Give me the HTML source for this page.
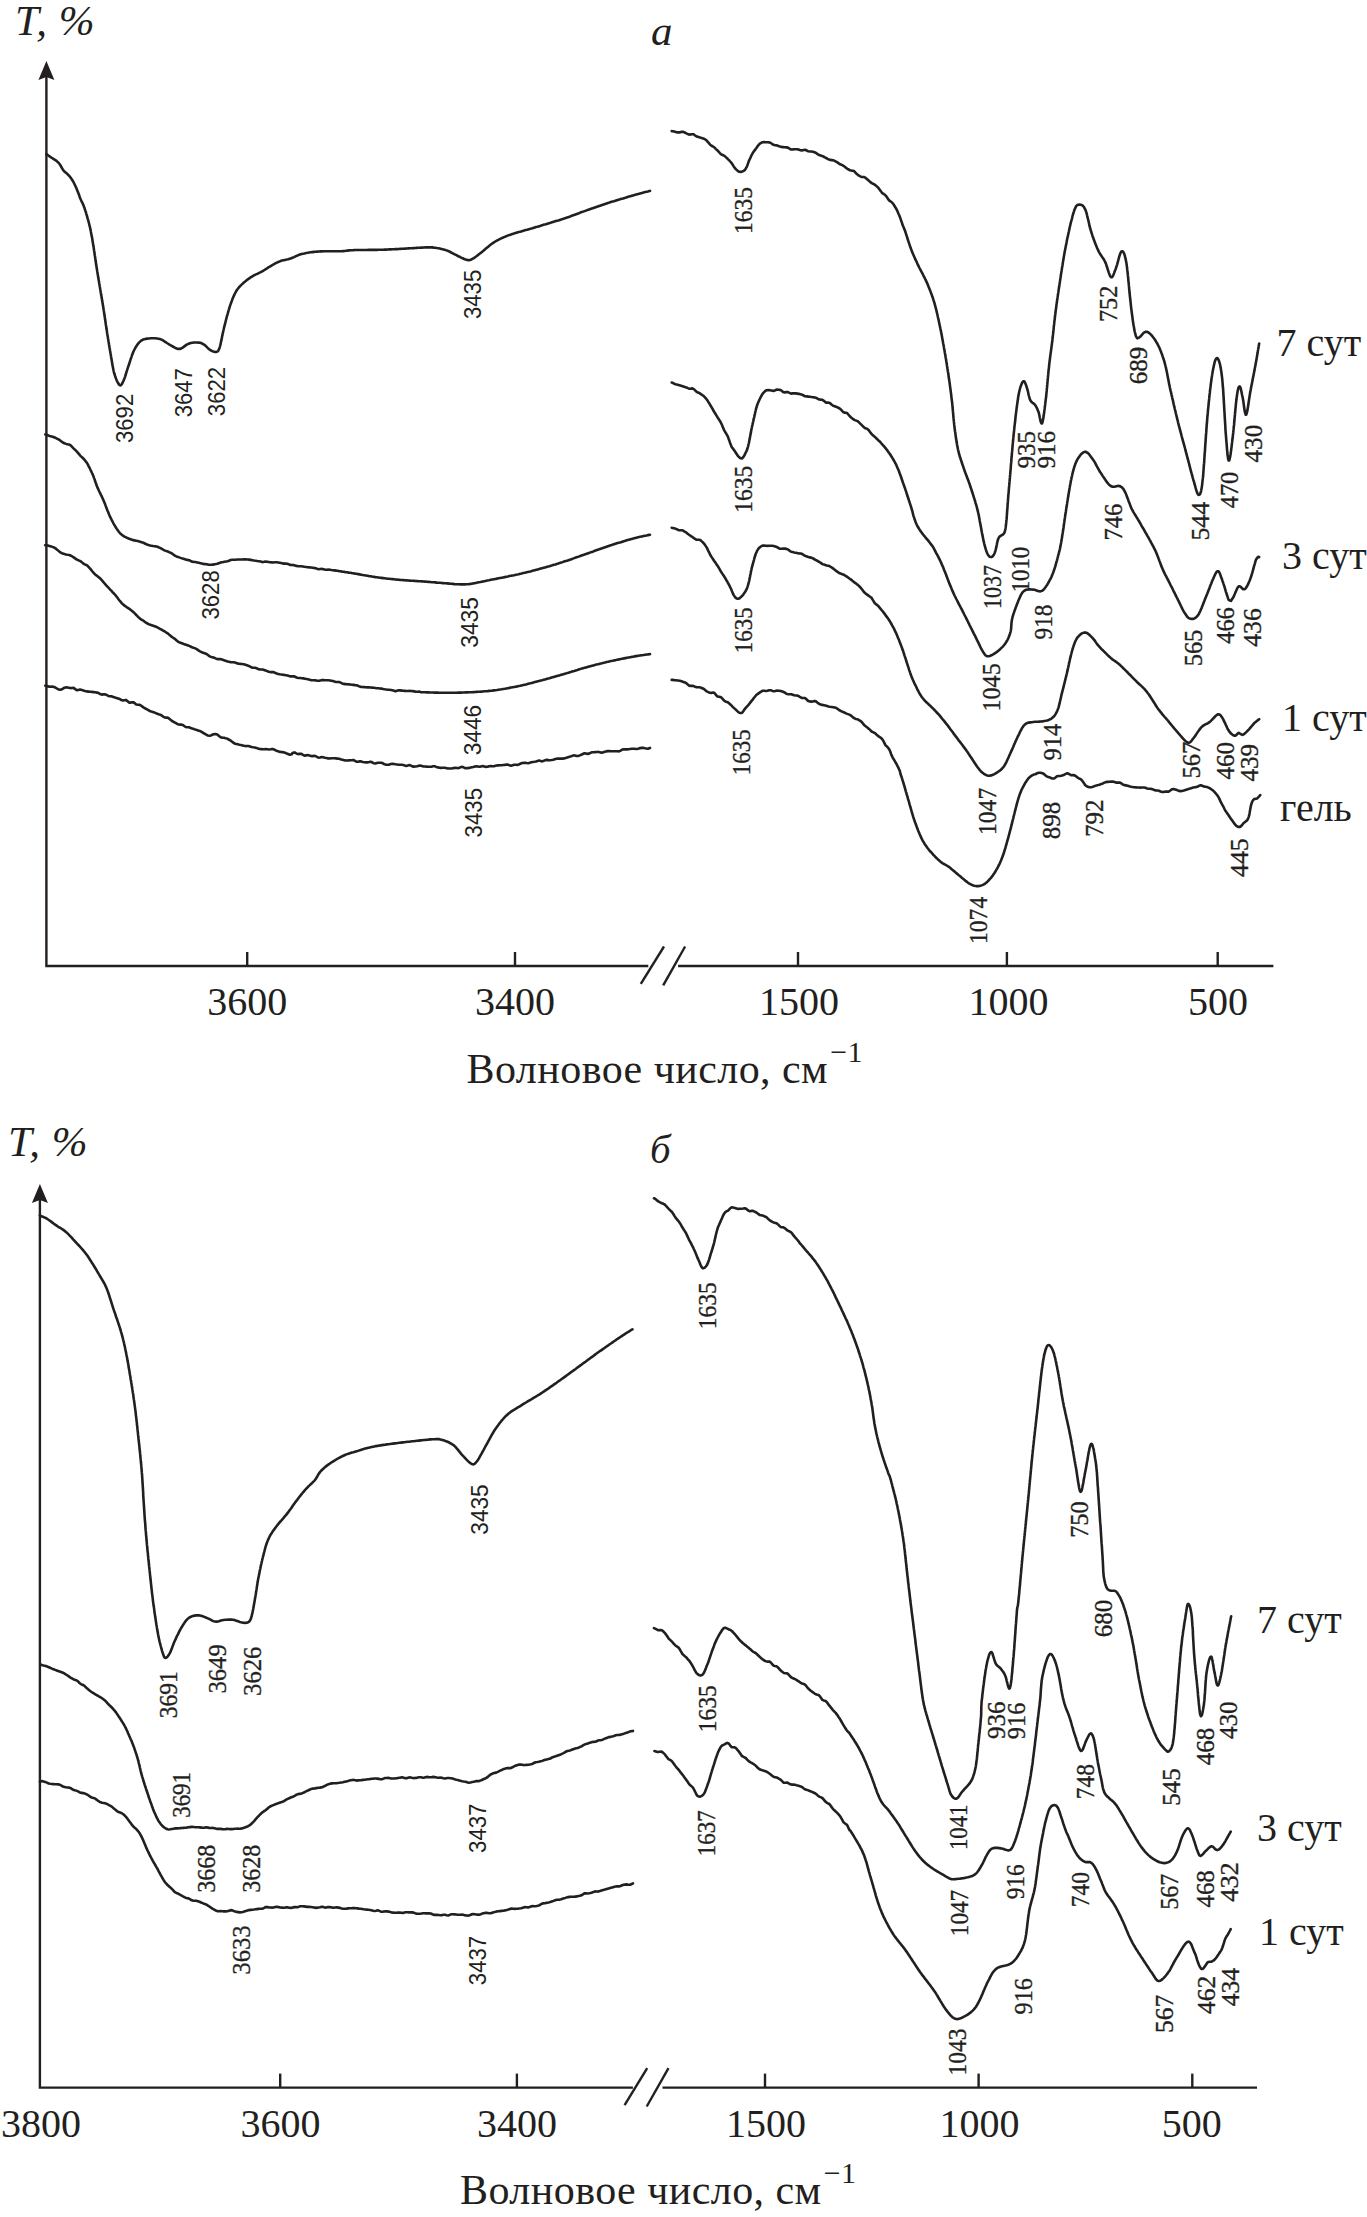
<!DOCTYPE html>
<html><head><meta charset="utf-8"><style>
html,body{margin:0;padding:0;background:#fff;}
body{width:1367px;height:2217px;overflow:hidden;}
svg{display:block;}
.c{fill:none;stroke:#231f20;stroke-width:2.6;stroke-linejoin:round;stroke-linecap:round;}
.ax{fill:none;stroke:#231f20;stroke-width:2.4;}
.lb{stroke:#231f20;stroke-width:0.35;}
.r{font-family:"Liberation Serif",serif;fill:#231f20;}
.s{font-family:"Liberation Sans",sans-serif;fill:#231f20;}
</style></head><body>
<svg width="1367" height="2217" viewBox="0 0 1367 2217">
<path class="ax" d="M46.4,73 L46.4,966 L648.3,966 M678.1,966 L1273.4,966"/>
<path fill="#231f20" d="M46.4,61 L54.4,80 L46.4,77 L38.4,80 Z"/>
<path class="ax" d="M247.2,966 L247.2,952"/>
<path class="ax" d="M515,966 L515,952"/>
<path class="ax" d="M798,966 L798,952"/>
<path class="ax" d="M1006.9,966 L1006.9,952"/>
<path class="ax" d="M1217.7,966 L1217.7,952"/>
<path class="ax" d="M640.8,983.8 L664,946.5"/>
<path class="ax" d="M663.2,985.3 L685.1,946.5"/>
<path class="ax" d="M39.9,1196 L39.9,2087.6 L632.9,2087.6 M662.5,2087.6 L1257,2087.6"/>
<path fill="#231f20" d="M39.9,1184 L47.9,1203 L39.9,1200 L31.9,1203 Z"/>
<path class="ax" d="M280.2,2087.6 L280.2,2073.6"/>
<path class="ax" d="M516.9,2087.6 L516.9,2073.6"/>
<path class="ax" d="M765,2087.6 L765,2073.6"/>
<path class="ax" d="M978.6,2087.6 L978.6,2073.6"/>
<path class="ax" d="M1192.3,2087.6 L1192.3,2073.6"/>
<path class="ax" d="M624.6,2105.2 L647.2,2068.1"/>
<path class="ax" d="M646.7,2106.5 L668.5,2068.1"/>
<path class="c" d="M46.4,154.1 L47.4,154.8 L48.7,155.8 L50.3,156.9 L52.0,158.0 L53.4,158.9 L55.0,159.9 L56.5,160.9 L57.9,162.2 L59.3,163.6 L60.2,165.0 L61.1,166.5 L62.0,168.1 L62.9,169.7 L63.9,171.0 L65.0,172.0 L66.2,173.0 L67.5,174.1 L68.7,175.4 L69.9,176.7 L71.0,178.1 L71.9,179.5 L72.7,180.8 L73.5,182.2 L74.2,183.5 L74.9,185.0 L75.6,186.5 L76.2,187.8 L76.8,189.2 L77.4,190.7 L78.0,192.2 L78.6,193.8 L79.2,195.3 L79.7,196.9 L80.3,198.4 L80.9,199.8 L81.5,201.1 L82.1,202.3 L82.7,203.6 L83.3,204.9 L83.8,206.2 L84.4,207.8 L85.0,209.6 L85.4,210.9 L85.9,212.3 L86.3,213.8 L86.8,215.3 L87.2,216.8 L87.6,218.4 L88.1,219.9 L88.5,221.5 L88.9,223.0 L89.3,224.6 L89.7,226.2 L90.0,227.4 L90.3,228.9 L90.7,230.4 L90.9,231.9 L91.2,233.4 L91.5,234.9 L91.8,236.5 L92.1,238.0 L92.4,239.6 L92.6,241.3 L92.9,243.0 L93.2,244.7 L93.4,246.1 L93.7,247.6 L93.9,249.1 L94.1,250.7 L94.4,252.2 L94.6,253.8 L94.8,255.5 L95.1,257.1 L95.3,258.7 L95.5,260.3 L95.8,261.9 L96.0,263.5 L96.2,265.1 L96.5,266.6 L96.7,268.1 L97.0,269.7 L97.2,271.2 L97.5,272.8 L97.7,274.3 L98.0,275.8 L98.2,277.3 L98.5,278.8 L98.7,280.3 L99.0,281.8 L99.2,283.2 L99.5,284.7 L99.7,286.2 L100.0,287.7 L100.2,289.2 L100.5,290.7 L100.7,292.2 L101.0,293.7 L101.2,295.1 L101.5,296.6 L101.7,298.1 L102.0,299.6 L102.2,301.1 L102.5,302.6 L102.7,304.1 L103.0,305.6 L103.2,307.1 L103.5,308.7 L103.7,310.2 L104.0,311.7 L104.2,313.3 L104.4,314.8 L104.7,316.4 L104.9,318.0 L105.1,319.6 L105.4,321.2 L105.6,322.8 L105.8,324.4 L106.1,325.9 L106.3,327.5 L106.5,329.1 L106.8,330.6 L107.0,332.2 L107.2,333.7 L107.5,335.2 L107.8,336.8 L108.0,338.4 L108.3,339.9 L108.5,341.5 L108.8,343.0 L109.0,344.5 L109.3,346.0 L109.5,347.5 L109.8,348.9 L110.0,350.4 L110.3,351.9 L110.5,353.3 L110.8,354.7 L111.0,356.4 L111.3,358.1 L111.6,359.7 L111.9,361.4 L112.1,363.1 L112.4,364.7 L112.7,366.3 L113.0,367.8 L113.3,369.3 L113.6,370.8 L113.9,372.1 L114.3,373.5 L114.9,375.4 L115.5,377.3 L116.2,379.1 L116.9,380.8 L117.7,382.3 L118.4,383.5 L119.0,384.5 L119.7,385.2 L120.7,385.4 L121.7,384.4 L122.6,382.7 L123.6,380.5 L124.1,379.3 L124.6,378.0 L125.1,376.6 L125.6,375.0 L126.1,373.3 L126.6,371.6 L127.2,369.9 L127.7,368.1 L128.3,366.4 L128.8,365.0 L129.3,363.5 L129.8,361.9 L130.3,360.3 L130.8,358.7 L131.4,357.1 L131.9,355.6 L132.5,354.1 L133.0,352.6 L133.6,351.3 L134.2,350.0 L135.1,348.3 L136.0,346.7 L137.0,345.2 L138.0,343.8 L139.0,342.6 L140.1,341.6 L141.2,340.7 L142.6,339.8 L144.1,339.3 L145.7,338.9 L147.3,338.6 L149.0,338.5 L150.6,338.3 L152.1,338.2 L153.8,338.2 L155.4,338.3 L157.0,338.5 L158.5,338.7 L159.9,339.0 L161.5,339.6 L163.0,340.4 L164.3,341.3 L165.7,342.2 L166.9,343.0 L168.5,344.0 L169.9,344.9 L171.3,345.7 L172.8,346.5 L174.4,347.4 L176.1,348.3 L177.9,348.9 L179.8,348.9 L181.0,348.5 L182.3,347.8 L183.7,346.9 L185.0,345.9 L186.4,344.9 L187.8,344.1 L189.2,343.5 L190.8,343.0 L192.4,342.7 L194.1,342.5 L195.7,342.5 L197.2,342.5 L198.5,342.6 L200.3,342.8 L201.7,343.3 L203.0,344.0 L204.4,344.9 L205.6,345.8 L206.7,346.9 L207.9,348.1 L209.1,349.2 L210.2,350.0 L211.8,350.9 L213.3,351.6 L214.8,352.0 L216.1,351.9 L217.4,351.6 L218.4,350.6 L219.6,347.7 L219.9,346.7 L220.2,345.6 L220.5,344.3 L220.8,342.9 L221.1,341.4 L221.5,339.9 L221.8,338.2 L222.1,336.5 L222.5,334.9 L222.8,333.1 L223.2,331.5 L223.6,329.8 L223.9,328.2 L224.3,326.6 L224.7,325.1 L225.1,323.6 L225.5,322.0 L225.9,320.4 L226.3,318.8 L226.7,317.2 L227.1,315.7 L227.6,314.1 L228.0,312.6 L228.4,311.1 L228.9,309.6 L229.3,308.2 L229.7,306.9 L230.1,305.6 L230.7,303.9 L231.3,302.2 L231.9,300.7 L232.4,299.2 L233.0,297.7 L233.6,296.4 L234.2,295.1 L234.8,293.8 L235.4,292.7 L236.0,291.5 L236.9,290.0 L237.9,288.7 L238.8,287.5 L239.8,286.5 L240.8,285.4 L241.9,284.4 L243.0,283.3 L244.2,282.2 L245.5,281.2 L246.9,280.1 L248.2,279.1 L249.6,278.1 L251.0,277.2 L252.4,276.3 L253.9,275.4 L255.5,274.6 L257.1,273.9 L258.6,273.2 L260.2,272.4 L261.7,271.6 L263.1,270.8 L264.4,270.0 L265.8,269.1 L267.1,268.3 L268.4,267.4 L269.8,266.6 L271.1,265.8 L272.7,264.9 L274.2,264.0 L275.8,263.2 L277.4,262.4 L278.9,261.7 L280.5,261.1 L282.0,260.6 L283.5,260.2 L285.0,259.9 L286.5,259.6 L288.1,259.2 L289.8,258.7 L291.2,258.3 L292.5,257.7 L294.0,257.1 L295.4,256.4 L296.9,255.8 L298.4,255.1 L300.0,254.6 L301.5,254.1 L303.0,253.7 L304.5,253.4 L306.0,253.0 L307.6,252.8 L309.2,252.5 L310.8,252.3 L312.4,252.1 L314.0,251.9 L315.6,251.7 L317.2,251.6 L318.8,251.5 L320.5,251.4 L322.1,251.4 L323.8,251.3 L325.4,251.3 L327.0,251.3 L328.5,251.3 L330.0,251.3 L331.8,251.2 L333.5,251.3 L335.2,251.3 L336.8,251.3 L338.4,251.3 L340.1,251.3 L341.7,251.3 L343.3,251.1 L344.7,251.0 L346.1,250.8 L347.6,250.6 L349.2,250.4 L351.1,250.2 L353.4,250.1 L354.6,250.0 L355.9,250.0 L357.3,250.0 L358.8,250.0 L360.3,250.0 L361.9,250.0 L363.6,250.0 L365.2,250.0 L366.9,250.0 L368.6,249.9 L370.3,249.9 L371.9,249.9 L373.6,249.9 L375.2,249.9 L376.8,249.9 L378.4,249.8 L379.9,249.8 L381.5,249.7 L383.1,249.7 L384.6,249.6 L386.2,249.6 L387.7,249.5 L389.3,249.4 L390.9,249.4 L392.4,249.3 L394.0,249.2 L395.5,249.1 L397.1,249.1 L398.7,249.0 L400.2,248.9 L401.8,248.8 L403.4,248.7 L405.1,248.6 L406.8,248.5 L408.5,248.4 L410.2,248.3 L411.8,248.2 L413.5,248.1 L415.1,248.0 L416.7,247.9 L418.2,247.8 L419.7,247.7 L421.1,247.6 L422.4,247.6 L423.6,247.5 L425.9,247.4 L427.8,247.4 L429.5,247.4 L430.9,247.4 L432.3,247.4 L433.8,247.6 L435.3,247.7 L436.8,248.0 L438.3,248.2 L439.8,248.5 L441.3,248.9 L442.8,249.3 L444.3,249.7 L445.7,250.1 L447.0,250.6 L448.7,251.2 L450.3,252.0 L451.8,252.8 L453.3,253.6 L454.8,254.4 L456.4,255.2 L457.9,256.0 L459.5,256.7 L461.1,257.6 L462.7,258.3 L464.2,259.0 L465.7,259.6 L466.9,259.9 L469.1,260.2 L470.8,259.8 L472.8,258.7 L473.9,258.1 L475.1,257.2 L476.4,256.3 L477.8,255.2 L479.2,254.1 L480.7,252.9 L482.2,251.7 L483.4,250.8 L484.6,249.7 L485.9,248.6 L487.2,247.5 L488.5,246.4 L489.9,245.3 L491.2,244.3 L492.5,243.3 L493.9,242.4 L495.3,241.5 L496.8,240.6 L498.3,239.8 L499.7,239.1 L501.2,238.4 L502.6,237.8 L504.1,237.1 L505.6,236.5 L507.0,235.9 L508.3,235.4 L509.6,234.9 L511.0,234.5 L512.4,234.0 L513.9,233.6 L515.5,233.1 L517.3,232.5 L518.6,232.1 L519.9,231.8 L521.2,231.4 L522.6,231.0 L524.1,230.6 L525.6,230.1 L527.2,229.7 L528.8,229.2 L530.5,228.8 L532.3,228.3 L534.1,227.7 L536.0,227.1 L537.3,226.8 L538.6,226.4 L540.0,226.0 L541.4,225.5 L542.8,225.1 L544.3,224.6 L545.9,224.2 L547.4,223.7 L549.0,223.2 L550.5,222.8 L552.1,222.3 L553.7,221.8 L555.2,221.3 L556.8,220.8 L558.3,220.4 L559.8,219.9 L561.3,219.4 L562.7,218.9 L564.1,218.5 L565.7,218.0 L567.2,217.4 L568.8,216.9 L570.3,216.4 L571.8,215.8 L573.2,215.3 L574.7,214.8 L576.1,214.2 L577.5,213.7 L578.9,213.2 L580.3,212.6 L581.8,212.1 L583.2,211.6 L584.6,211.1 L586.0,210.6 L587.5,210.1 L589.0,209.5 L590.4,209.0 L591.9,208.5 L593.4,208.0 L594.8,207.5 L596.3,207.0 L597.7,206.5 L599.2,206.0 L600.7,205.5 L602.1,205.0 L603.6,204.5 L605.1,204.0 L606.5,203.5 L608.0,203.0 L609.4,202.6 L610.9,202.1 L612.4,201.6 L613.9,201.2 L615.4,200.7 L616.9,200.2 L618.5,199.7 L620.0,199.3 L621.6,198.8 L623.1,198.4 L624.6,197.9 L626.1,197.5 L627.6,197.0 L629.0,196.6 L630.4,196.2 L631.8,195.8 L633.1,195.4 L634.3,195.1 L636.3,194.5 L638.2,194.0 L640.1,193.5 L641.9,193.0 L643.6,192.5 L645.2,192.1 L646.7,191.7 L648.0,191.4 L649.1,191.1 L650.0,190.9"/>
<path class="c" d="M45.2,434.5 L46.3,434.6 L47.8,435.3 L49.7,436.0 L51.6,436.4 L53.4,437.0 L54.7,437.5 L56.0,438.1 L57.4,438.8 L58.8,439.5 L60.1,440.4 L61.5,441.5 L62.8,442.5 L64.5,443.3 L66.1,443.9 L67.7,444.3 L69.3,444.6 L71.0,445.7 L72.1,446.8 L73.3,448.1 L74.5,449.3 L75.7,450.4 L76.9,451.6 L78.0,452.9 L79.2,454.3 L80.2,455.6 L81.3,456.6 L82.3,457.5 L83.3,458.5 L84.3,459.5 L85.2,460.7 L86.2,462.0 L87.0,463.1 L87.8,464.4 L88.5,465.8 L89.3,467.3 L90.0,468.8 L90.7,470.3 L91.4,471.7 L92.0,473.0 L92.6,474.2 L93.1,475.4 L93.6,476.7 L94.1,478.1 L94.6,479.4 L95.1,481.0 L95.6,482.5 L96.2,484.0 L96.7,485.5 L97.3,487.1 L98.0,488.6 L98.6,490.0 L99.3,491.5 L100.0,492.9 L100.7,494.3 L101.3,495.7 L102.0,497.0 L102.6,498.3 L103.2,499.7 L103.8,501.1 L104.4,502.5 L105.0,503.9 L105.5,505.4 L106.1,507.0 L106.7,508.5 L107.2,510.0 L107.9,511.6 L108.6,513.3 L109.2,514.8 L109.8,516.2 L110.5,517.6 L111.2,519.0 L111.9,520.4 L112.7,521.8 L113.4,523.3 L114.2,524.7 L115.1,526.1 L115.9,527.5 L116.8,528.9 L117.8,530.3 L118.8,531.7 L119.7,532.8 L120.7,533.8 L121.8,534.8 L123.0,535.7 L124.4,536.6 L126.0,537.3 L127.2,537.9 L128.5,538.5 L129.9,539.0 L131.3,539.5 L132.9,540.1 L134.5,540.4 L136.1,540.7 L137.7,541.1 L139.3,541.5 L140.8,541.9 L142.4,542.4 L143.9,543.0 L145.4,543.8 L147.0,544.5 L148.5,545.0 L150.1,545.4 L151.6,545.7 L153.1,546.0 L154.6,546.2 L156.1,546.4 L157.4,546.7 L158.7,547.3 L160.5,548.2 L162.1,549.0 L163.6,549.9 L165.0,550.6 L166.4,551.1 L167.8,551.5 L169.1,552.1 L170.5,552.7 L172.1,553.6 L173.6,554.7 L175.0,555.8 L176.4,556.4 L178.0,556.9 L179.8,557.6 L181.2,558.1 L182.6,558.6 L184.2,559.1 L185.8,559.6 L187.4,559.9 L189.1,560.2 L190.7,561.0 L192.3,561.7 L193.9,561.9 L195.5,562.0 L197.2,562.4 L198.9,562.8 L200.5,563.2 L202.1,563.6 L203.7,563.9 L205.2,564.1 L206.7,564.3 L208.4,564.6 L209.9,564.8 L211.4,564.8 L212.8,564.6 L214.2,564.4 L215.7,564.1 L217.3,563.7 L218.7,563.2 L220.1,562.7 L221.6,562.3 L223.1,562.1 L224.5,561.8 L226.0,561.5 L227.5,561.3 L229.0,560.7 L230.6,560.0 L232.3,559.8 L234.0,559.8 L235.7,559.7 L237.3,559.5 L239.0,559.5 L240.7,559.5 L242.4,559.5 L244.0,559.4 L245.7,559.4 L247.4,559.5 L249.0,559.6 L250.7,559.9 L252.4,560.2 L254.0,560.5 L255.7,560.7 L257.3,561.0 L258.9,561.2 L260.6,561.6 L262.3,562.1 L264.1,561.8 L265.5,561.5 L267.1,561.7 L268.6,562.0 L270.2,562.3 L271.8,562.4 L273.4,562.5 L275.0,562.3 L276.6,562.2 L278.1,562.5 L279.7,562.8 L281.2,563.1 L282.6,563.4 L284.1,563.6 L285.6,563.6 L287.2,563.7 L288.7,564.3 L290.4,564.9 L292.2,565.0 L293.6,565.1 L295.0,565.4 L296.5,565.9 L298.1,566.2 L299.6,566.2 L301.2,566.2 L302.8,566.5 L304.5,566.8 L306.1,567.0 L307.7,567.3 L309.3,567.4 L310.9,567.5 L312.5,567.7 L314.0,567.9 L315.6,568.3 L317.1,568.8 L318.6,569.2 L320.2,569.0 L321.7,568.9 L323.3,569.2 L324.9,569.6 L326.6,569.7 L328.3,569.5 L330.0,569.7 L331.4,570.0 L332.9,570.2 L334.4,570.4 L335.9,570.6 L337.5,570.8 L339.1,571.1 L340.6,571.3 L342.2,571.6 L343.8,571.8 L345.4,572.1 L347.1,572.3 L348.7,572.6 L350.3,572.8 L351.8,573.1 L353.4,573.3 L355.0,573.6 L356.5,573.8 L358.1,574.1 L359.7,574.4 L361.2,574.7 L362.8,575.0 L364.3,575.2 L365.9,575.5 L367.5,575.8 L369.0,576.1 L370.6,576.3 L372.1,576.6 L373.7,576.8 L375.3,577.1 L376.8,577.3 L378.4,577.5 L379.9,577.7 L381.5,577.9 L383.1,578.1 L384.6,578.3 L386.2,578.5 L387.7,578.7 L389.3,578.8 L390.9,579.0 L392.4,579.1 L394.0,579.3 L395.5,579.5 L397.1,579.6 L398.7,579.7 L400.2,579.9 L401.8,580.0 L403.3,580.1 L404.9,580.3 L406.5,580.4 L408.0,580.5 L409.6,580.6 L411.2,580.7 L412.7,580.8 L414.3,580.9 L415.8,581.0 L417.4,581.1 L419.0,581.2 L420.5,581.3 L422.1,581.4 L423.6,581.5 L425.2,581.6 L426.8,581.8 L428.5,581.9 L430.2,582.0 L431.9,582.2 L433.6,582.3 L435.2,582.4 L436.9,582.6 L438.5,582.7 L440.1,582.8 L441.6,583.0 L443.1,583.1 L444.5,583.2 L445.8,583.3 L447.0,583.4 L449.3,583.6 L451.2,583.8 L452.9,583.9 L454.3,584.1 L455.7,584.2 L457.2,584.3 L458.7,584.3 L460.3,584.4 L461.8,584.4 L463.2,584.4 L464.6,584.4 L466.3,584.3 L468.2,584.2 L470.5,583.9 L471.7,583.7 L473.0,583.4 L474.4,583.2 L475.9,582.9 L477.4,582.6 L479.0,582.3 L480.6,582.0 L482.3,581.6 L483.9,581.3 L485.6,580.9 L487.3,580.5 L489.0,580.2 L490.7,579.8 L492.3,579.5 L493.9,579.2 L495.4,578.9 L497.0,578.6 L498.5,578.3 L500.1,578.0 L501.7,577.7 L503.2,577.4 L504.8,577.1 L506.3,576.8 L507.9,576.5 L509.5,576.1 L511.0,575.8 L512.6,575.5 L514.2,575.2 L515.7,574.8 L517.3,574.5 L518.7,574.2 L520.2,573.8 L521.7,573.5 L523.1,573.1 L524.6,572.8 L526.0,572.4 L527.5,572.1 L529.0,571.7 L530.4,571.4 L531.9,571.0 L533.4,570.6 L534.8,570.2 L536.3,569.8 L537.8,569.4 L539.2,569.0 L540.7,568.6 L542.1,568.2 L543.6,567.8 L545.1,567.4 L546.5,567.0 L548.0,566.6 L549.5,566.2 L550.9,565.7 L552.4,565.3 L553.8,564.8 L555.3,564.4 L556.8,563.9 L558.2,563.5 L559.7,563.0 L561.2,562.6 L562.6,562.1 L564.1,561.6 L565.6,561.1 L567.0,560.7 L568.5,560.2 L569.9,559.7 L571.4,559.2 L572.9,558.6 L574.3,558.1 L575.8,557.6 L577.3,557.1 L578.7,556.6 L580.2,556.0 L581.6,555.5 L583.1,555.0 L584.6,554.5 L586.0,553.9 L587.5,553.4 L589.0,552.9 L590.4,552.4 L591.9,551.9 L593.4,551.4 L594.8,550.8 L596.3,550.3 L597.7,549.8 L599.2,549.3 L600.7,548.7 L602.1,548.2 L603.6,547.7 L605.1,547.2 L606.5,546.7 L608.0,546.2 L609.4,545.7 L610.9,545.2 L612.4,544.8 L613.9,544.3 L615.4,543.8 L616.9,543.3 L618.5,542.8 L620.0,542.4 L621.6,541.9 L623.1,541.4 L624.6,541.0 L626.1,540.5 L627.6,540.1 L629.0,539.7 L630.4,539.3 L631.8,538.9 L633.1,538.6 L634.3,538.2 L636.3,537.7 L638.2,537.2 L640.1,536.8 L641.9,536.4 L643.6,536.0 L645.2,535.7 L646.7,535.4 L648.0,535.1 L649.1,534.9 L650.0,534.7"/>
<path class="c" d="M45.2,545.2 L46.2,545.1 L47.7,545.4 L49.4,545.9 L51.2,546.4 L53.0,547.1 L54.6,547.8 L56.0,548.7 L57.4,549.9 L58.7,551.1 L60.1,552.2 L61.4,553.0 L62.8,553.6 L64.4,554.1 L66.0,554.5 L67.7,554.8 L69.3,555.0 L71.0,555.7 L72.3,556.5 L73.7,557.4 L75.1,558.4 L76.5,559.4 L77.9,560.0 L79.2,560.6 L80.6,561.2 L82.1,562.4 L83.4,563.6 L84.8,564.4 L86.2,565.0 L87.4,565.6 L88.5,566.8 L89.7,568.2 L90.9,569.5 L92.0,571.0 L93.2,572.4 L94.4,573.7 L95.5,574.7 L96.7,575.6 L97.9,576.6 L99.1,577.5 L100.2,578.5 L101.2,579.5 L102.2,580.6 L103.2,581.8 L104.2,583.0 L105.2,584.2 L106.2,585.3 L107.2,586.4 L108.2,587.4 L109.2,588.5 L110.2,589.6 L111.3,590.7 L112.3,591.9 L113.4,593.0 L114.4,594.0 L115.4,595.1 L116.5,596.5 L117.5,597.8 L118.5,599.2 L119.5,600.5 L120.5,601.7 L121.5,602.9 L122.6,604.0 L123.6,604.9 L124.9,605.9 L126.2,606.8 L127.4,607.7 L128.8,608.5 L130.1,609.4 L131.5,610.5 L133.0,611.7 L134.1,612.7 L135.2,613.8 L136.3,615.0 L137.4,616.1 L138.6,617.3 L139.7,618.4 L140.9,619.3 L142.2,620.0 L143.4,620.7 L144.7,621.7 L146.0,622.7 L147.4,623.5 L148.8,624.2 L150.3,624.8 L151.7,625.2 L153.2,625.7 L154.6,626.2 L156.1,626.8 L157.4,627.4 L158.7,628.1 L160.2,629.0 L161.6,629.7 L162.9,630.5 L164.2,631.2 L165.5,632.0 L166.8,632.8 L168.1,633.6 L169.3,634.7 L170.5,635.7 L171.9,636.9 L173.2,637.8 L174.5,638.6 L175.8,639.7 L177.0,640.8 L178.4,641.9 L179.8,642.6 L181.1,643.0 L182.5,643.5 L183.8,644.0 L185.2,644.5 L186.7,645.0 L188.2,645.5 L189.8,646.1 L191.5,647.0 L192.7,647.6 L194.0,647.9 L195.3,648.4 L196.7,649.1 L198.1,650.1 L199.6,651.1 L201.0,651.8 L202.4,652.5 L203.9,653.0 L205.3,653.5 L206.6,654.0 L207.9,655.0 L209.5,656.3 L211.1,656.9 L212.6,657.2 L214.1,657.7 L215.5,658.4 L217.0,659.0 L218.6,659.1 L220.2,659.1 L222.0,659.6 L223.3,660.0 L224.7,660.4 L226.2,660.9 L227.7,661.4 L229.2,661.8 L230.7,662.2 L232.3,662.3 L233.9,662.3 L235.6,662.7 L237.2,663.4 L238.9,663.7 L240.7,663.9 L242.0,664.0 L243.4,664.3 L244.8,664.6 L246.2,665.0 L247.6,665.5 L249.1,666.1 L250.6,666.9 L252.1,667.7 L253.6,667.7 L255.1,667.8 L256.6,668.3 L258.1,669.0 L259.6,669.4 L261.1,669.5 L262.6,669.5 L264.1,670.0 L265.6,670.5 L267.2,671.1 L268.8,671.8 L270.3,672.1 L271.9,672.0 L273.5,672.1 L275.0,672.8 L276.6,673.5 L278.1,673.9 L279.7,674.3 L281.3,674.5 L282.8,674.7 L284.4,674.9 L285.9,675.2 L287.5,675.5 L289.1,676.0 L290.7,676.4 L292.2,676.4 L293.9,676.3 L295.5,677.0 L297.1,677.7 L298.7,678.0 L300.3,678.0 L301.9,678.2 L303.4,678.4 L305.0,678.7 L306.5,679.0 L308.0,679.3 L309.5,679.7 L310.9,680.1 L312.6,680.2 L314.3,680.2 L315.9,680.4 L317.4,680.7 L318.9,680.8 L320.5,680.4 L322.0,680.0 L323.5,680.1 L325.0,680.2 L326.6,680.3 L328.3,680.3 L330.0,680.5 L331.4,680.8 L332.9,681.1 L334.4,681.6 L335.9,682.0 L337.5,682.0 L339.1,682.0 L340.6,682.6 L342.2,683.4 L343.8,683.9 L345.4,684.1 L347.1,684.3 L348.7,684.4 L350.3,684.5 L351.8,684.7 L353.4,684.9 L355.0,685.1 L356.5,685.2 L358.1,685.8 L359.7,686.6 L361.2,687.0 L362.8,687.0 L364.3,687.1 L365.9,687.2 L367.5,687.4 L369.0,687.4 L370.6,687.5 L372.1,687.6 L373.7,687.8 L375.3,688.0 L376.8,688.2 L378.4,688.3 L379.9,688.5 L381.5,688.6 L383.1,689.0 L384.6,689.3 L386.2,689.5 L387.7,689.7 L389.3,689.8 L390.9,690.0 L392.4,690.3 L394.0,690.7 L395.5,691.2 L397.1,690.7 L398.7,690.3 L400.2,690.4 L401.8,690.6 L403.3,690.8 L404.9,690.9 L406.5,691.0 L408.0,691.0 L409.6,690.9 L411.2,691.0 L412.7,691.1 L414.3,691.4 L415.8,691.7 L417.4,691.7 L419.0,691.6 L420.5,692.1 L422.1,692.2 L423.6,692.2 L425.2,692.3 L426.8,692.4 L428.3,692.4 L429.9,692.5 L431.4,692.5 L433.0,692.5 L434.6,692.6 L436.1,692.6 L437.7,692.6 L439.2,692.7 L440.8,692.7 L442.4,692.7 L443.9,692.7 L445.5,692.7 L447.0,692.7 L448.6,692.7 L450.2,692.7 L451.7,692.7 L453.3,692.7 L454.8,692.7 L456.4,692.7 L458.0,692.6 L459.5,692.6 L461.1,692.6 L462.7,692.5 L464.2,692.5 L465.8,692.4 L467.3,692.4 L468.9,692.3 L470.5,692.2 L472.0,692.2 L473.6,692.1 L475.1,692.0 L476.7,691.9 L478.3,691.8 L479.8,691.7 L481.4,691.6 L482.9,691.5 L484.5,691.3 L486.1,691.2 L487.6,691.1 L489.2,690.9 L490.7,690.7 L492.3,690.6 L493.9,690.4 L495.4,690.2 L497.0,690.0 L498.5,689.7 L500.1,689.5 L501.7,689.3 L503.2,689.0 L504.8,688.8 L506.3,688.5 L507.9,688.2 L509.5,687.9 L511.0,687.6 L512.6,687.3 L514.2,687.0 L515.7,686.7 L517.3,686.4 L518.7,686.1 L520.2,685.8 L521.7,685.4 L523.1,685.1 L524.6,684.7 L526.0,684.4 L527.5,684.0 L529.0,683.6 L530.4,683.3 L531.9,682.9 L533.4,682.5 L534.8,682.1 L536.3,681.7 L537.8,681.3 L539.2,680.9 L540.7,680.5 L542.1,680.2 L543.6,679.8 L545.1,679.4 L546.5,679.0 L548.0,678.6 L549.5,678.2 L550.9,677.7 L552.4,677.3 L553.8,676.9 L555.3,676.5 L556.8,676.1 L558.2,675.7 L559.7,675.3 L561.2,674.8 L562.6,674.4 L564.1,674.0 L565.6,673.6 L567.0,673.1 L568.5,672.7 L569.9,672.2 L571.4,671.8 L572.9,671.3 L574.3,670.9 L575.8,670.4 L577.3,670.0 L578.7,669.5 L580.2,669.1 L581.6,668.6 L583.1,668.2 L584.6,667.8 L586.0,667.4 L587.5,667.0 L589.0,666.6 L590.4,666.2 L591.9,665.8 L593.4,665.4 L594.8,665.0 L596.3,664.6 L597.7,664.3 L599.2,663.9 L600.7,663.5 L602.1,663.2 L603.6,662.8 L605.1,662.5 L606.5,662.1 L608.0,661.8 L609.4,661.4 L610.9,661.1 L612.5,660.8 L614.1,660.4 L615.7,660.1 L617.4,659.7 L619.0,659.4 L620.6,659.0 L622.3,658.7 L623.9,658.4 L625.5,658.1 L627.1,657.8 L628.6,657.5 L630.1,657.2 L631.6,656.9 L633.0,656.7 L634.3,656.4 L636.3,656.1 L638.2,655.8 L640.1,655.5 L641.9,655.2 L643.6,655.0 L645.2,654.7 L646.7,654.5 L648.0,654.4 L649.1,654.2 L650.0,654.1"/>
<path class="c" d="M45.2,685.7 L46.3,685.8 L48.0,686.4 L49.8,686.7 L51.7,686.5 L53.4,686.7 L55.3,687.5 L57.1,688.6 L58.8,689.5 L60.4,689.8 L61.9,689.3 L63.1,688.5 L64.5,687.7 L66.3,687.3 L67.5,687.5 L68.9,687.8 L70.4,688.1 L72.0,688.0 L73.6,687.9 L75.2,689.1 L76.8,690.2 L78.4,689.9 L80.1,689.5 L81.8,689.9 L83.4,690.5 L85.1,691.0 L86.8,691.4 L88.5,691.6 L90.2,691.8 L91.9,691.9 L93.5,692.1 L95.2,692.3 L96.9,692.6 L98.6,693.1 L100.2,694.0 L101.7,694.6 L103.1,694.4 L104.5,694.2 L105.9,694.6 L107.4,695.4 L108.8,696.1 L110.4,696.2 L111.9,696.4 L113.4,696.9 L114.9,697.5 L116.5,698.0 L118.1,698.5 L119.8,699.1 L121.4,700.0 L123.0,700.5 L124.5,700.2 L126.0,699.9 L127.6,701.3 L129.1,702.6 L130.6,702.6 L132.1,702.2 L133.6,702.4 L135.0,703.4 L136.3,704.5 L137.7,704.7 L139.4,704.8 L140.9,705.5 L142.4,706.6 L143.8,707.6 L145.4,708.5 L147.0,709.3 L148.4,710.2 L149.8,711.0 L151.3,711.6 L152.8,711.9 L154.3,712.4 L155.8,713.1 L157.3,713.8 L158.7,714.3 L160.2,714.7 L161.7,715.5 L163.2,716.6 L164.7,717.5 L166.2,717.6 L167.7,717.6 L169.1,718.6 L170.5,719.8 L172.1,721.0 L173.6,721.8 L175.0,722.6 L176.4,723.4 L178.0,724.3 L179.8,724.6 L181.2,724.5 L182.6,724.9 L184.2,726.0 L185.7,727.0 L187.4,727.2 L189.0,727.3 L190.7,728.0 L192.3,728.6 L193.9,729.1 L195.3,729.6 L196.7,730.0 L198.2,730.4 L199.7,730.9 L201.2,731.7 L202.6,732.5 L204.0,733.3 L205.4,734.2 L206.7,735.0 L207.9,735.4 L209.6,735.8 L211.0,735.4 L212.3,734.8 L213.6,734.2 L215.2,734.1 L217.3,734.6 L218.4,735.5 L219.7,736.6 L221.0,737.4 L222.5,737.6 L224.0,737.7 L225.6,738.2 L227.1,738.6 L228.7,739.5 L230.3,740.4 L231.8,741.5 L233.3,742.6 L234.7,743.6 L236.0,743.9 L237.8,744.3 L239.4,744.7 L241.0,745.0 L242.6,745.4 L244.1,745.8 L245.5,746.1 L247.0,746.0 L248.5,746.0 L250.0,746.5 L251.6,747.0 L253.2,747.3 L254.8,747.5 L256.4,747.9 L258.0,748.5 L259.6,749.0 L261.1,749.1 L262.6,749.2 L264.1,749.2 L265.9,749.1 L267.5,749.3 L269.1,749.5 L270.7,749.3 L272.3,748.9 L274.0,749.4 L275.8,750.5 L277.3,751.1 L278.9,751.6 L280.6,751.9 L282.4,752.1 L284.1,752.5 L285.8,753.1 L287.3,753.7 L288.7,754.3 L289.8,754.8 L291.7,754.3 L292.4,753.1 L294.5,752.4 L295.6,753.0 L296.8,753.7 L298.1,754.1 L299.5,753.9 L301.0,753.7 L302.6,754.7 L304.3,755.6 L305.9,755.4 L307.6,755.0 L309.3,755.4 L310.9,756.0 L312.4,756.1 L313.9,755.9 L315.4,756.0 L316.9,756.9 L318.5,757.7 L320.0,757.4 L321.6,757.0 L323.2,757.3 L324.9,757.7 L326.5,758.0 L328.2,758.4 L330.0,758.5 L331.4,758.3 L332.9,758.3 L334.4,758.3 L335.9,758.4 L337.5,758.6 L339.1,758.8 L340.6,759.3 L342.2,759.7 L343.8,760.1 L345.4,760.4 L347.1,760.5 L348.7,760.4 L350.3,760.3 L351.8,760.2 L353.4,760.0 L355.0,760.8 L356.5,761.7 L358.1,761.7 L359.7,761.4 L361.2,761.4 L362.8,761.9 L364.3,762.3 L365.9,762.4 L367.5,762.4 L369.0,762.1 L370.6,761.7 L372.1,762.3 L373.7,763.2 L375.3,763.5 L376.8,763.0 L378.4,762.7 L379.9,762.7 L381.5,762.7 L383.1,763.5 L384.6,764.3 L386.2,764.6 L387.7,764.7 L389.3,764.6 L390.9,764.1 L392.4,763.8 L394.0,764.0 L395.5,764.3 L397.1,764.5 L398.7,764.7 L400.2,764.7 L401.8,764.7 L403.3,765.0 L404.8,765.5 L406.3,765.9 L407.9,765.4 L409.4,765.0 L410.9,765.6 L412.4,766.4 L413.9,766.6 L415.5,766.5 L417.1,766.3 L418.7,765.8 L420.3,765.5 L421.9,766.0 L423.6,766.5 L425.1,766.5 L426.6,766.6 L428.2,766.7 L429.7,766.8 L431.4,766.7 L433.0,766.3 L434.7,766.3 L436.3,766.9 L438.0,767.4 L439.6,767.7 L441.3,767.9 L442.9,767.8 L444.5,767.8 L446.0,768.1 L447.5,768.4 L449.0,768.5 L450.4,768.5 L451.7,768.5 L453.6,768.1 L455.3,767.8 L457.0,768.0 L458.5,768.1 L460.0,767.5 L461.4,766.9 L462.8,767.0 L464.2,767.7 L465.7,768.3 L467.2,768.1 L468.8,767.9 L470.5,767.6 L471.9,767.3 L473.3,767.0 L474.8,766.5 L476.4,766.2 L477.9,766.5 L479.5,766.8 L481.1,766.4 L482.7,766.0 L484.3,766.4 L485.9,766.9 L487.5,766.8 L489.1,766.2 L490.7,766.0 L492.3,766.2 L493.9,766.3 L495.4,765.8 L497.0,765.4 L498.5,765.4 L500.1,765.3 L501.7,765.2 L503.2,765.0 L504.8,764.9 L506.3,764.6 L507.9,764.6 L509.5,765.2 L511.0,765.7 L512.6,765.2 L514.2,764.7 L515.7,764.8 L517.3,764.9 L518.8,764.6 L520.4,763.7 L522.0,763.0 L523.5,762.9 L525.1,762.7 L526.6,763.0 L528.2,763.2 L529.8,762.8 L531.3,762.3 L532.9,762.0 L534.4,761.8 L536.0,761.5 L537.6,761.0 L539.1,760.5 L540.7,760.9 L542.2,761.4 L543.8,760.8 L545.4,760.1 L546.9,759.9 L548.5,760.1 L550.0,760.2 L551.6,760.0 L553.2,759.7 L554.7,759.2 L556.3,758.7 L557.8,758.6 L559.4,758.5 L561.0,758.6 L562.5,758.6 L564.1,758.4 L565.6,758.0 L567.2,757.5 L568.8,757.0 L570.3,756.6 L571.9,756.0 L573.5,755.4 L575.0,755.5 L576.6,756.0 L578.1,756.0 L579.7,755.4 L581.3,754.7 L582.8,754.0 L584.4,753.3 L585.9,753.6 L587.5,753.9 L589.1,753.6 L590.6,752.8 L592.2,752.3 L593.7,752.2 L595.3,752.1 L596.9,752.0 L598.4,751.9 L600.0,752.3 L601.5,752.7 L603.1,752.4 L604.7,751.8 L606.2,751.4 L607.8,751.1 L609.3,751.0 L610.9,751.2 L612.5,751.3 L614.1,751.3 L615.7,751.3 L617.4,751.3 L619.0,751.4 L620.6,750.6 L622.3,749.6 L623.9,749.2 L625.5,749.4 L627.1,749.4 L628.6,749.2 L630.1,749.0 L631.6,748.8 L633.0,748.7 L634.3,748.7 L636.3,749.0 L638.2,748.7 L640.1,748.1 L641.9,747.9 L643.6,747.9 L645.2,748.3 L646.7,748.6 L648.0,748.7 L649.1,748.2 L650.0,747.9"/>
<path class="c" d="M671.7,131.1 L672.8,131.2 L674.2,131.6 L675.9,132.1 L677.8,132.4 L679.7,132.4 L681.6,131.8 L683.4,131.9 L685.1,132.7 L686.8,133.6 L688.5,134.4 L690.3,134.6 L691.9,134.2 L693.6,134.3 L695.1,135.5 L696.8,136.6 L698.5,137.1 L700.1,137.6 L701.6,137.9 L703.1,138.4 L704.5,139.0 L705.8,139.8 L706.9,140.8 L708.0,142.1 L709.1,143.4 L710.2,144.8 L711.5,145.8 L712.6,146.3 L713.7,146.9 L714.8,147.9 L716.0,149.1 L717.2,150.2 L718.5,151.5 L719.7,152.9 L720.9,154.2 L722.1,154.8 L723.3,155.3 L724.5,155.9 L725.8,157.1 L727.0,158.2 L728.1,159.4 L729.2,160.4 L730.2,161.5 L731.4,162.8 L732.5,164.4 L733.4,165.9 L734.3,167.3 L735.2,168.5 L736.1,169.4 L737.7,170.9 L739.2,171.8 L740.8,171.9 L742.1,171.5 L743.5,171.0 L745.0,169.9 L746.6,167.2 L747.2,165.8 L747.8,164.1 L748.4,162.3 L749.1,160.5 L749.7,159.2 L750.4,157.8 L751.0,156.4 L751.7,155.0 L752.3,153.8 L753.0,152.6 L753.6,151.7 L754.6,150.4 L755.6,149.1 L756.6,147.7 L757.6,146.2 L758.7,144.9 L759.7,143.8 L760.7,143.1 L762.4,142.3 L764.0,142.1 L765.8,142.2 L767.7,142.3 L769.1,142.4 L770.5,142.8 L771.9,143.8 L773.5,144.8 L775.2,145.2 L777.0,145.4 L778.4,146.0 L779.9,146.5 L781.4,146.9 L783.0,147.1 L784.6,147.3 L786.2,147.4 L787.9,147.6 L789.5,148.6 L791.1,149.5 L792.7,149.4 L794.2,149.2 L795.8,149.2 L797.3,149.3 L798.9,149.6 L800.5,150.2 L802.0,150.4 L803.6,150.0 L805.1,149.7 L806.7,150.5 L808.3,151.3 L809.8,151.5 L811.4,151.5 L812.9,151.8 L814.5,152.3 L816.1,153.0 L817.6,154.1 L819.2,155.1 L820.6,155.5 L822.0,155.9 L823.4,156.5 L824.8,157.3 L826.2,158.0 L827.6,158.8 L829.0,159.5 L830.4,159.9 L831.8,160.1 L833.2,160.3 L834.6,160.9 L836.0,161.6 L837.4,162.4 L838.8,163.4 L840.2,164.3 L841.7,164.9 L843.1,165.6 L844.5,166.5 L845.9,167.7 L847.3,168.8 L848.7,169.5 L850.1,170.3 L851.5,170.6 L852.9,170.8 L854.3,171.3 L855.7,172.8 L857.1,174.3 L858.5,175.3 L859.9,176.2 L861.3,176.9 L862.6,177.0 L863.9,177.0 L865.2,177.6 L866.5,178.7 L867.8,179.8 L869.1,180.9 L870.4,182.1 L871.7,183.1 L873.0,183.7 L874.2,184.3 L875.4,185.1 L876.5,186.1 L877.7,187.2 L878.8,188.4 L879.9,189.9 L881.0,191.4 L882.0,192.9 L883.1,193.6 L884.1,194.3 L885.1,195.0 L886.1,196.1 L887.1,197.5 L888.1,199.0 L889.1,200.4 L890.1,201.1 L891.1,201.8 L892.0,202.5 L893.0,203.6 L893.9,204.9 L894.7,206.3 L895.6,207.7 L896.4,209.2 L897.2,210.7 L897.8,212.1 L898.5,213.7 L899.2,215.2 L899.8,216.8 L900.4,218.4 L901.0,220.1 L901.6,221.9 L902.2,223.6 L902.8,225.5 L903.5,227.0 L904.0,228.2 L904.5,229.5 L905.0,230.8 L905.5,232.2 L906.0,233.8 L906.5,235.4 L907.0,236.9 L907.5,238.5 L908.0,240.1 L908.5,241.7 L909.0,243.2 L909.5,244.7 L910.0,246.1 L910.5,247.5 L911.1,249.1 L911.7,250.7 L912.3,252.2 L912.9,253.7 L913.5,255.1 L914.1,256.5 L914.8,257.9 L915.4,259.4 L916.1,260.8 L916.8,262.3 L917.5,263.9 L918.1,265.2 L918.8,266.6 L919.5,268.0 L920.3,269.5 L921.0,270.9 L921.8,272.3 L922.6,273.8 L923.3,275.3 L924.1,276.8 L924.8,278.2 L925.5,279.7 L926.2,281.1 L926.9,282.6 L927.5,284.0 L928.1,285.5 L928.7,286.9 L929.3,288.4 L929.8,289.8 L930.4,291.2 L930.9,292.7 L931.5,294.1 L932.0,295.6 L932.5,297.0 L933.0,298.4 L933.4,299.9 L933.9,301.3 L934.4,302.9 L934.8,304.4 L935.2,305.9 L935.6,307.4 L936.0,308.9 L936.4,310.4 L936.7,311.9 L937.1,313.5 L937.5,315.0 L937.8,316.7 L938.2,318.3 L938.6,320.0 L938.9,321.5 L939.2,322.9 L939.5,324.4 L939.8,325.8 L940.1,327.3 L940.4,328.8 L940.8,330.4 L941.1,331.9 L941.4,333.5 L941.7,335.1 L942.0,336.8 L942.3,338.4 L942.6,340.1 L942.9,341.7 L943.2,343.5 L943.5,344.9 L943.8,346.4 L944.0,347.9 L944.3,349.4 L944.6,350.9 L944.8,352.5 L945.1,354.0 L945.4,355.6 L945.6,357.2 L945.9,358.8 L946.2,360.4 L946.4,362.0 L946.7,363.6 L946.9,365.2 L947.2,366.8 L947.4,368.4 L947.7,370.0 L947.9,371.5 L948.2,373.0 L948.4,374.5 L948.6,376.0 L948.8,377.5 L949.0,379.1 L949.3,380.6 L949.5,382.1 L949.7,383.6 L949.9,385.1 L950.1,386.6 L950.3,388.1 L950.5,389.7 L950.7,391.2 L950.9,392.7 L951.1,394.1 L951.3,395.6 L951.4,397.1 L951.6,398.6 L951.8,400.0 L952.0,401.6 L952.2,403.2 L952.3,404.8 L952.5,406.4 L952.6,408.0 L952.8,409.6 L952.9,411.2 L953.1,412.7 L953.2,414.3 L953.3,415.8 L953.5,417.4 L953.6,418.9 L953.8,420.4 L953.9,421.9 L954.1,423.4 L954.2,424.9 L954.4,426.3 L954.6,428.0 L954.8,429.6 L955.0,431.2 L955.3,432.8 L955.5,434.4 L955.7,436.0 L955.9,437.5 L956.1,439.1 L956.4,440.6 L956.6,442.1 L956.9,443.5 L957.1,445.0 L957.4,446.4 L957.7,447.8 L957.9,449.2 L958.3,450.8 L958.7,452.4 L959.1,453.9 L959.5,455.3 L959.9,456.8 L960.4,458.2 L960.8,459.5 L961.3,460.9 L961.7,462.3 L962.2,463.7 L962.7,465.2 L963.2,466.7 L963.7,468.1 L964.2,469.6 L964.7,471.0 L965.2,472.4 L965.8,473.9 L966.3,475.3 L966.9,476.8 L967.4,478.3 L968.0,479.8 L968.6,481.3 L969.1,482.8 L969.7,484.4 L970.2,486.0 L970.7,487.5 L971.2,488.9 L971.7,490.5 L972.2,492.0 L972.7,493.6 L973.2,495.2 L973.7,496.8 L974.2,498.3 L974.7,499.9 L975.2,501.5 L975.6,503.1 L976.1,504.6 L976.5,506.0 L976.9,507.5 L977.2,508.9 L977.7,510.6 L978.1,512.4 L978.5,514.0 L978.8,515.6 L979.1,517.2 L979.4,518.7 L979.6,520.2 L979.9,521.8 L980.2,523.3 L980.5,524.8 L980.8,526.4 L981.1,528.0 L981.4,529.7 L981.7,531.4 L982.0,533.1 L982.4,534.8 L982.7,536.5 L983.0,538.1 L983.3,539.7 L983.6,541.2 L984.0,542.6 L984.3,544.0 L984.8,545.9 L985.3,547.7 L985.8,549.4 L986.3,550.9 L986.8,552.3 L987.3,553.5 L987.8,554.5 L989.5,556.7 L991.3,557.1 L992.5,556.5 L993.6,555.2 L994.8,552.7 L995.2,551.5 L995.6,550.1 L996.0,548.4 L996.4,546.6 L996.8,544.7 L997.1,543.0 L997.5,541.3 L997.9,539.8 L998.3,538.7 L999.5,536.7 L1000.7,535.9 L1001.8,535.2 L1003.3,534.3 L1004.5,532.6 L1004.8,531.5 L1005.1,530.3 L1005.4,529.0 L1005.7,527.4 L1005.9,525.4 L1006.2,522.9 L1006.3,521.8 L1006.4,520.5 L1006.6,519.2 L1006.7,517.9 L1006.8,516.4 L1006.9,514.9 L1007.0,513.4 L1007.1,511.8 L1007.2,510.1 L1007.4,508.5 L1007.5,506.8 L1007.6,505.1 L1007.7,503.4 L1007.9,501.7 L1008.0,500.0 L1008.1,498.6 L1008.2,497.2 L1008.3,495.8 L1008.4,494.5 L1008.6,493.1 L1008.7,491.7 L1008.8,490.2 L1008.9,488.8 L1009.0,487.4 L1009.2,485.9 L1009.3,484.4 L1009.4,482.8 L1009.6,481.2 L1009.7,479.6 L1009.9,477.9 L1010.0,476.2 L1010.2,474.4 L1010.3,472.6 L1010.4,471.3 L1010.6,470.0 L1010.7,468.6 L1010.8,467.1 L1010.9,465.7 L1011.0,464.2 L1011.2,462.7 L1011.3,461.2 L1011.4,459.7 L1011.5,458.1 L1011.7,456.5 L1011.8,454.9 L1011.9,453.3 L1012.1,451.7 L1012.2,450.1 L1012.4,448.5 L1012.5,446.9 L1012.6,445.3 L1012.8,443.7 L1012.9,442.1 L1013.1,440.5 L1013.2,438.9 L1013.4,437.4 L1013.5,435.8 L1013.7,434.3 L1013.8,432.8 L1014.0,431.3 L1014.2,429.7 L1014.3,428.1 L1014.5,426.4 L1014.7,424.8 L1014.9,423.2 L1015.1,421.5 L1015.3,419.8 L1015.4,418.2 L1015.6,416.5 L1015.8,414.9 L1016.0,413.3 L1016.2,411.7 L1016.4,410.1 L1016.6,408.5 L1016.8,407.0 L1017.0,405.5 L1017.2,404.1 L1017.4,402.7 L1017.6,401.3 L1017.8,400.0 L1018.0,398.8 L1018.1,397.6 L1018.3,396.4 L1018.5,395.4 L1019.0,392.7 L1019.6,390.3 L1020.1,388.2 L1020.7,386.4 L1021.2,384.9 L1021.7,383.7 L1022.2,382.7 L1022.7,381.9 L1023.2,381.3 L1024.2,381.2 L1025.0,382.6 L1025.9,384.7 L1026.7,387.2 L1027.1,388.5 L1027.6,390.1 L1028.0,391.8 L1028.4,393.7 L1028.8,395.5 L1029.3,397.2 L1029.7,398.8 L1030.2,400.0 L1031.3,401.7 L1032.6,402.8 L1033.8,403.6 L1034.9,404.7 L1035.7,405.9 L1036.4,407.1 L1037.1,408.5 L1037.7,410.0 L1038.4,411.7 L1038.9,413.2 L1039.3,415.1 L1039.7,417.2 L1040.2,419.4 L1040.6,421.3 L1041.1,422.7 L1041.5,423.5 L1041.9,423.5 L1042.2,423.0 L1042.4,422.3 L1042.7,421.4 L1042.9,420.2 L1043.2,418.9 L1043.4,417.5 L1043.7,415.8 L1043.9,414.1 L1044.2,412.3 L1044.4,410.4 L1044.7,408.4 L1044.9,406.4 L1045.2,404.4 L1045.4,402.4 L1045.6,401.1 L1045.7,399.8 L1045.9,398.4 L1046.1,397.0 L1046.2,395.6 L1046.4,394.0 L1046.5,392.5 L1046.7,390.9 L1046.8,389.3 L1047.0,387.7 L1047.1,386.1 L1047.3,384.4 L1047.4,382.8 L1047.6,381.2 L1047.7,379.5 L1047.9,377.9 L1048.0,376.3 L1048.2,374.7 L1048.3,373.1 L1048.5,371.6 L1048.6,370.1 L1048.8,368.7 L1049.0,367.3 L1049.1,365.5 L1049.3,363.9 L1049.5,362.2 L1049.7,360.6 L1049.9,359.0 L1050.1,357.5 L1050.3,355.9 L1050.5,354.4 L1050.7,352.9 L1050.9,351.4 L1051.1,350.0 L1051.3,348.5 L1051.5,347.0 L1051.7,345.4 L1051.9,343.9 L1052.1,342.4 L1052.3,340.8 L1052.5,339.2 L1052.6,337.7 L1052.8,336.3 L1053.0,334.9 L1053.1,333.5 L1053.3,332.1 L1053.4,330.7 L1053.6,329.4 L1053.7,328.0 L1053.8,326.6 L1054.0,325.1 L1054.2,323.7 L1054.3,322.2 L1054.5,320.7 L1054.7,319.2 L1054.9,317.6 L1055.0,315.9 L1055.3,314.2 L1055.5,312.5 L1055.7,310.6 L1056.0,308.7 L1056.2,307.5 L1056.3,306.2 L1056.5,304.8 L1056.7,303.4 L1056.9,301.9 L1057.1,300.5 L1057.3,299.0 L1057.6,297.4 L1057.8,295.9 L1058.0,294.3 L1058.3,292.7 L1058.5,291.1 L1058.7,289.4 L1059.0,287.8 L1059.2,286.2 L1059.5,284.5 L1059.7,282.9 L1060.0,281.2 L1060.2,279.6 L1060.5,278.0 L1060.7,276.4 L1060.9,274.8 L1061.2,273.3 L1061.4,271.7 L1061.7,270.2 L1061.9,268.7 L1062.1,267.3 L1062.4,265.9 L1062.6,264.5 L1062.8,263.2 L1063.0,261.9 L1063.3,260.0 L1063.6,258.2 L1063.9,256.4 L1064.2,254.7 L1064.5,253.0 L1064.8,251.3 L1065.1,249.7 L1065.4,248.2 L1065.7,246.7 L1066.0,245.2 L1066.3,243.7 L1066.6,242.3 L1066.8,240.9 L1067.1,239.5 L1067.4,238.1 L1067.7,236.8 L1068.0,235.5 L1068.3,234.1 L1068.6,232.8 L1068.9,231.5 L1069.2,229.7 L1069.6,228.0 L1070.0,226.2 L1070.4,224.5 L1070.8,222.8 L1071.2,221.2 L1071.7,219.6 L1072.1,218.0 L1072.4,216.5 L1072.8,215.1 L1073.2,213.7 L1073.6,212.5 L1074.0,211.3 L1074.3,210.2 L1074.7,209.3 L1075.9,206.6 L1077.0,205.2 L1078.2,204.7 L1079.4,204.6 L1080.8,204.7 L1082.2,205.2 L1083.7,206.6 L1085.2,209.3 L1085.6,210.2 L1086.0,211.4 L1086.4,212.6 L1086.8,214.0 L1087.1,215.5 L1087.5,217.1 L1087.9,218.7 L1088.3,220.3 L1088.7,222.0 L1089.1,223.7 L1089.4,225.4 L1089.8,227.0 L1090.3,228.6 L1090.7,230.1 L1091.1,231.5 L1091.6,233.1 L1092.1,234.6 L1092.6,236.2 L1093.2,237.8 L1093.7,239.3 L1094.3,240.8 L1094.8,242.3 L1095.4,243.7 L1095.9,245.1 L1096.5,246.5 L1097.0,247.8 L1097.6,249.0 L1098.1,250.2 L1098.9,251.8 L1099.7,253.2 L1100.5,254.5 L1101.3,255.7 L1102.1,256.9 L1102.9,258.0 L1103.7,259.2 L1104.4,260.5 L1105.1,261.9 L1105.8,263.4 L1106.4,265.1 L1107.0,267.0 L1107.6,268.9 L1108.2,270.8 L1108.8,272.6 L1109.4,274.2 L1109.9,275.5 L1110.5,276.6 L1111.0,277.1 L1111.8,277.2 L1112.6,276.5 L1113.3,275.1 L1114.1,273.2 L1114.8,271.1 L1115.7,269.0 L1116.1,267.7 L1116.6,266.2 L1117.1,264.6 L1117.6,262.8 L1118.1,260.9 L1118.6,259.0 L1119.1,257.2 L1119.6,255.5 L1120.1,254.0 L1120.6,252.8 L1121.1,251.9 L1121.5,251.4 L1122.3,251.2 L1123.0,251.6 L1123.6,252.5 L1124.3,254.0 L1124.9,256.1 L1125.6,258.8 L1126.2,261.9 L1126.4,262.9 L1126.6,264.1 L1126.7,265.3 L1126.9,266.6 L1127.1,267.9 L1127.2,269.4 L1127.4,270.9 L1127.6,272.5 L1127.8,274.1 L1127.9,275.7 L1128.1,277.4 L1128.3,279.1 L1128.4,280.8 L1128.6,282.5 L1128.8,284.2 L1128.9,285.9 L1129.1,287.6 L1129.2,289.3 L1129.4,290.9 L1129.5,292.5 L1129.7,294.0 L1129.8,295.5 L1130.0,296.9 L1130.1,298.3 L1130.3,299.5 L1130.5,301.5 L1130.7,303.4 L1130.9,305.3 L1131.1,307.1 L1131.3,308.8 L1131.5,310.4 L1131.7,312.0 L1131.9,313.5 L1132.1,315.0 L1132.3,316.4 L1132.5,317.8 L1132.6,319.1 L1132.8,320.4 L1133.0,321.7 L1133.2,323.0 L1133.5,325.0 L1133.9,326.9 L1134.2,328.7 L1134.5,330.4 L1134.8,332.0 L1135.2,333.4 L1135.5,334.6 L1135.8,335.7 L1136.1,336.6 L1137.3,338.4 L1139.1,337.6 L1140.1,336.8 L1141.2,335.6 L1142.5,334.1 L1143.9,332.7 L1145.4,331.9 L1146.9,331.8 L1147.9,332.2 L1149.0,332.9 L1150.1,333.8 L1151.2,334.9 L1152.3,336.2 L1153.5,337.7 L1154.6,339.2 L1155.6,340.8 L1156.6,342.5 L1157.3,343.6 L1157.9,344.8 L1158.5,346.0 L1159.1,347.2 L1159.7,348.5 L1160.2,349.8 L1160.8,351.2 L1161.3,352.7 L1161.9,354.1 L1162.4,355.6 L1162.9,357.2 L1163.5,358.8 L1164.0,360.4 L1164.5,362.0 L1164.8,363.4 L1165.2,364.7 L1165.5,366.1 L1165.9,367.5 L1166.2,368.9 L1166.5,370.4 L1166.8,371.8 L1167.1,373.3 L1167.4,374.9 L1167.7,376.4 L1168.0,378.0 L1168.3,379.5 L1168.6,381.1 L1168.9,382.8 L1169.2,384.4 L1169.6,386.0 L1169.9,387.7 L1170.3,389.4 L1170.6,390.8 L1171.0,392.2 L1171.3,393.6 L1171.6,395.1 L1172.0,396.6 L1172.3,398.1 L1172.7,399.6 L1173.0,401.2 L1173.4,402.7 L1173.7,404.3 L1174.1,405.9 L1174.5,407.4 L1174.8,409.0 L1175.2,410.5 L1175.6,412.1 L1175.9,413.6 L1176.3,415.2 L1176.7,416.7 L1177.0,418.2 L1177.4,419.7 L1177.8,421.1 L1178.1,422.6 L1178.5,424.1 L1178.9,425.7 L1179.3,427.2 L1179.7,428.7 L1180.1,430.2 L1180.5,431.7 L1180.9,433.1 L1181.3,434.6 L1181.6,436.0 L1182.0,437.5 L1182.4,438.9 L1182.8,440.3 L1183.2,441.8 L1183.6,443.2 L1184.0,444.6 L1184.4,446.1 L1184.8,447.5 L1185.2,449.0 L1185.5,450.4 L1185.9,451.9 L1186.3,453.4 L1186.7,454.9 L1187.1,456.4 L1187.5,458.0 L1188.0,459.6 L1188.4,461.2 L1188.8,462.8 L1189.2,464.3 L1189.6,465.9 L1190.0,467.5 L1190.4,469.1 L1190.8,470.6 L1191.2,472.1 L1191.6,473.5 L1192.0,475.0 L1192.4,476.3 L1192.7,477.6 L1193.1,478.9 L1193.4,480.1 L1193.8,481.2 L1194.4,483.5 L1195.1,485.8 L1195.6,487.9 L1196.2,489.8 L1196.7,491.5 L1197.2,492.9 L1197.7,493.9 L1198.2,494.6 L1198.6,494.9 L1199.1,494.8 L1199.6,494.6 L1200.0,494.2 L1200.4,493.4 L1200.8,492.2 L1201.2,490.5 L1201.6,488.2 L1202.1,485.1 L1202.5,481.2 L1202.6,480.2 L1202.7,479.2 L1202.9,478.2 L1203.0,477.0 L1203.1,475.9 L1203.2,474.6 L1203.3,473.3 L1203.4,472.0 L1203.5,470.6 L1203.6,469.2 L1203.7,467.8 L1203.8,466.3 L1203.9,464.7 L1204.1,463.2 L1204.2,461.6 L1204.3,460.0 L1204.4,458.4 L1204.5,456.7 L1204.6,455.0 L1204.7,453.3 L1204.9,451.6 L1205.0,449.9 L1205.1,448.2 L1205.2,446.5 L1205.3,444.8 L1205.4,443.1 L1205.6,441.3 L1205.7,439.6 L1205.8,437.9 L1205.9,436.2 L1206.0,434.6 L1206.2,432.9 L1206.3,431.3 L1206.4,429.7 L1206.5,428.1 L1206.6,426.6 L1206.7,425.0 L1206.9,423.5 L1207.0,422.1 L1207.1,420.7 L1207.2,419.3 L1207.3,418.0 L1207.4,416.7 L1207.6,414.8 L1207.8,412.9 L1207.9,411.1 L1208.1,409.2 L1208.3,407.4 L1208.5,405.6 L1208.6,403.8 L1208.8,402.1 L1209.0,400.4 L1209.2,398.7 L1209.3,397.0 L1209.5,395.4 L1209.7,393.8 L1209.9,392.2 L1210.0,390.6 L1210.2,389.1 L1210.4,387.6 L1210.6,386.2 L1210.7,384.8 L1210.9,383.4 L1211.1,382.1 L1211.3,380.8 L1211.4,379.5 L1211.6,378.3 L1211.8,377.1 L1212.0,375.9 L1212.1,374.8 L1212.3,373.8 L1212.8,370.9 L1213.3,368.3 L1213.8,365.9 L1214.3,363.8 L1214.7,362.0 L1215.2,360.5 L1215.7,359.4 L1216.2,358.6 L1216.7,358.1 L1217.2,358.1 L1217.6,358.4 L1218.0,358.8 L1218.3,359.4 L1218.7,360.3 L1219.1,361.3 L1219.5,362.5 L1219.9,364.0 L1220.3,365.7 L1220.6,367.6 L1221.0,369.8 L1221.4,372.2 L1221.7,374.8 L1222.1,377.7 L1222.2,378.7 L1222.3,379.8 L1222.4,381.0 L1222.5,382.2 L1222.6,383.5 L1222.7,384.9 L1222.8,386.3 L1223.0,387.7 L1223.1,389.2 L1223.2,390.7 L1223.3,392.3 L1223.4,393.9 L1223.5,395.6 L1223.6,397.2 L1223.7,398.9 L1223.8,400.6 L1223.9,402.3 L1224.0,404.0 L1224.1,405.8 L1224.2,407.5 L1224.3,409.3 L1224.4,411.0 L1224.5,412.7 L1224.6,414.4 L1224.7,416.1 L1224.8,417.8 L1224.9,419.5 L1225.0,421.1 L1225.1,422.7 L1225.2,424.3 L1225.3,425.8 L1225.4,427.3 L1225.4,428.7 L1225.5,430.1 L1225.6,431.5 L1225.7,432.8 L1225.8,434.0 L1225.9,435.2 L1226.0,436.3 L1226.2,438.8 L1226.4,441.3 L1226.6,443.6 L1226.8,445.9 L1226.9,448.0 L1227.1,450.1 L1227.3,451.9 L1227.4,453.7 L1227.6,455.2 L1227.8,456.6 L1228.0,457.8 L1228.1,458.8 L1228.3,459.6 L1228.5,460.2 L1228.7,460.5 L1228.9,460.7 L1229.1,460.5 L1229.4,460.1 L1229.6,459.3 L1229.8,458.3 L1230.1,457.1 L1230.3,455.7 L1230.6,454.2 L1230.8,452.4 L1231.1,450.6 L1231.3,448.6 L1231.6,446.6 L1231.8,444.5 L1232.1,442.4 L1232.3,440.3 L1232.6,438.3 L1232.8,436.3 L1233.0,435.0 L1233.1,433.7 L1233.3,432.2 L1233.4,430.8 L1233.6,429.2 L1233.7,427.7 L1233.9,426.0 L1234.1,424.4 L1234.2,422.7 L1234.4,421.0 L1234.5,419.3 L1234.7,417.6 L1234.8,415.9 L1235.0,414.2 L1235.1,412.5 L1235.3,410.8 L1235.4,409.2 L1235.6,407.6 L1235.7,406.1 L1235.9,404.6 L1236.0,403.1 L1236.2,401.8 L1236.3,400.5 L1236.5,399.3 L1236.6,398.2 L1236.7,397.2 L1237.2,394.0 L1237.6,391.4 L1238.0,389.5 L1238.4,388.1 L1238.8,387.1 L1239.2,386.6 L1239.7,386.4 L1240.1,386.8 L1240.5,387.8 L1240.9,389.2 L1241.3,391.0 L1241.7,393.0 L1242.1,395.1 L1242.6,397.2 L1242.9,398.7 L1243.2,400.5 L1243.5,402.6 L1243.8,404.8 L1244.1,407.0 L1244.4,409.2 L1244.7,411.1 L1245.1,412.7 L1245.4,414.0 L1245.7,414.7 L1246.1,414.8 L1246.4,414.4 L1246.6,413.7 L1246.9,412.7 L1247.2,411.5 L1247.5,410.1 L1247.7,408.4 L1248.0,406.7 L1248.3,404.8 L1248.6,402.8 L1248.9,400.8 L1249.2,398.8 L1249.5,396.8 L1249.8,394.9 L1250.1,393.0 L1250.4,391.3 L1250.7,389.9 L1250.9,388.4 L1251.2,386.9 L1251.5,385.4 L1251.8,383.9 L1252.1,382.4 L1252.4,380.9 L1252.7,379.3 L1253.0,377.8 L1253.3,376.3 L1253.6,374.8 L1253.9,373.3 L1254.2,371.8 L1254.5,370.3 L1254.7,368.8 L1255.0,367.4 L1255.3,365.9 L1255.6,364.3 L1255.9,362.6 L1256.2,360.9 L1256.5,359.2 L1256.8,357.4 L1257.1,355.7 L1257.4,354.0 L1257.7,352.3 L1257.9,350.7 L1258.2,349.2 L1258.4,347.8 L1258.7,346.5 L1258.9,345.3 L1259.0,344.3 L1259.2,343.5"/>
<path class="c" d="M671.7,382.6 L672.6,382.8 L673.8,383.5 L675.2,384.2 L676.8,384.6 L678.5,385.0 L680.2,385.5 L681.9,386.0 L683.4,386.5 L684.9,387.0 L686.4,387.4 L687.9,388.1 L689.4,388.7 L690.9,388.6 L692.4,388.4 L693.8,389.1 L695.1,390.4 L696.6,391.8 L698.0,392.5 L699.4,393.2 L700.8,394.0 L702.0,394.9 L703.3,395.8 L704.5,396.9 L705.6,398.1 L706.7,399.4 L707.7,400.8 L708.6,402.3 L709.6,403.9 L710.5,405.5 L711.5,407.2 L712.3,408.5 L713.1,409.9 L713.8,411.3 L714.6,412.5 L715.4,413.8 L716.2,415.1 L717.0,416.4 L717.7,417.7 L718.5,418.8 L719.2,419.9 L719.9,421.0 L720.6,422.2 L721.3,423.5 L722.0,425.1 L722.7,426.7 L723.4,428.4 L724.1,430.0 L724.8,431.4 L725.5,432.5 L726.2,433.6 L726.8,434.7 L727.5,435.9 L728.1,437.2 L728.7,439.0 L729.4,440.8 L730.0,442.7 L730.7,444.4 L731.3,446.2 L731.9,447.3 L732.6,448.1 L733.4,449.2 L734.3,450.4 L735.2,451.7 L736.1,453.3 L737.0,454.6 L737.8,455.8 L738.7,456.7 L739.6,457.6 L740.8,458.3 L742.0,458.5 L743.2,457.2 L744.4,455.4 L745.5,453.0 L746.6,450.8 L747.0,449.9 L747.4,448.8 L747.7,447.6 L748.1,446.3 L748.4,444.9 L748.8,443.5 L749.1,441.9 L749.4,440.2 L749.8,438.4 L750.1,436.6 L750.4,434.9 L750.8,433.1 L751.1,431.3 L751.4,429.5 L751.8,427.8 L752.1,426.2 L752.5,424.6 L752.8,423.1 L753.2,421.5 L753.5,419.9 L753.9,418.3 L754.3,416.7 L754.6,415.1 L755.0,413.6 L755.3,412.0 L755.7,410.5 L756.0,409.0 L756.4,407.7 L756.8,406.5 L757.1,405.3 L757.5,404.2 L757.9,403.1 L758.3,402.2 L759.1,400.5 L759.9,398.8 L760.7,397.1 L761.5,395.6 L762.3,394.3 L763.2,393.1 L764.2,392.0 L765.3,391.0 L766.7,390.2 L768.3,390.1 L769.9,390.2 L771.6,390.6 L773.4,391.0 L775.2,390.3 L777.0,389.5 L778.5,389.7 L780.0,389.9 L781.6,390.7 L783.1,391.9 L784.7,392.4 L786.3,392.1 L787.9,392.1 L789.5,392.9 L791.1,393.6 L792.7,393.4 L794.2,393.2 L795.8,393.4 L797.3,393.6 L798.9,393.9 L800.5,394.2 L802.0,394.7 L803.6,395.5 L805.1,396.3 L806.7,396.4 L808.3,396.6 L809.8,396.8 L811.4,397.0 L812.9,397.2 L814.5,397.4 L816.1,397.8 L817.6,398.7 L819.2,399.5 L820.6,399.6 L822.0,399.7 L823.4,400.5 L824.8,401.6 L826.2,402.6 L827.6,402.6 L829.0,402.7 L830.4,403.5 L831.8,404.7 L833.2,405.8 L834.6,406.3 L836.0,406.8 L837.4,407.3 L838.8,408.0 L840.2,408.8 L841.7,410.4 L843.1,412.0 L844.5,412.6 L845.9,412.7 L847.3,413.2 L848.5,414.7 L849.8,416.3 L851.1,417.5 L852.4,418.5 L853.7,419.5 L854.9,420.1 L856.2,420.6 L857.5,421.1 L858.8,422.2 L860.0,423.4 L861.3,424.6 L862.5,425.8 L863.7,427.0 L864.9,428.0 L866.1,428.4 L867.3,428.9 L868.5,429.9 L869.7,431.5 L870.9,433.2 L872.0,434.5 L873.2,435.5 L874.3,436.4 L875.4,437.4 L876.5,438.5 L877.7,439.7 L878.8,440.8 L879.9,441.6 L881.0,443.0 L882.0,444.1 L883.1,445.3 L884.1,446.4 L885.1,447.6 L886.1,448.9 L887.1,450.1 L888.0,451.4 L888.9,452.7 L889.9,454.0 L890.7,455.3 L891.6,456.7 L892.5,458.1 L893.3,459.5 L894.1,460.9 L894.9,462.3 L895.7,463.8 L896.4,465.3 L897.0,466.7 L897.6,468.0 L898.2,469.4 L898.8,470.8 L899.3,472.2 L899.8,473.6 L900.3,475.1 L900.9,476.5 L901.4,478.0 L901.9,479.5 L902.4,481.0 L902.9,482.5 L903.5,484.1 L904.0,485.5 L904.5,487.0 L905.0,488.4 L905.5,489.9 L906.0,491.4 L906.5,492.9 L907.0,494.5 L907.5,496.0 L908.0,497.5 L908.5,499.0 L909.0,500.6 L909.5,502.1 L910.0,503.6 L910.5,505.1 L911.0,506.6 L911.4,508.2 L911.9,509.7 L912.3,511.2 L912.7,512.8 L913.1,514.3 L913.5,515.8 L914.0,517.3 L914.5,518.9 L915.0,520.4 L915.5,521.8 L916.1,523.3 L916.8,524.8 L917.5,526.2 L918.3,527.5 L919.1,528.9 L920.0,530.3 L921.0,531.7 L922.0,533.1 L923.1,534.5 L924.2,535.8 L925.3,537.2 L926.3,538.5 L927.4,539.7 L928.4,540.9 L929.3,542.0 L930.1,543.1 L930.9,544.1 L931.5,544.9 L933.1,547.1 L933.8,548.3 L934.2,549.2 L935.1,551.0 L935.7,552.0 L936.2,553.1 L936.9,554.2 L937.5,555.4 L938.2,556.7 L938.9,558.1 L939.7,559.7 L940.5,561.3 L941.3,563.1 L942.1,565.0 L942.6,566.2 L943.2,567.4 L943.7,568.8 L944.2,570.2 L944.8,571.6 L945.4,573.1 L946.0,574.6 L946.6,576.2 L947.2,577.8 L947.8,579.4 L948.4,581.0 L949.0,582.5 L949.6,584.1 L950.3,585.6 L950.9,587.1 L951.5,588.6 L952.1,590.0 L952.7,591.4 L953.4,592.9 L954.1,594.5 L954.8,596.0 L955.6,597.5 L956.3,599.0 L957.1,600.5 L957.8,601.9 L958.5,603.3 L959.2,604.7 L960.0,606.0 L960.6,607.3 L961.3,608.6 L962.0,609.9 L962.6,611.1 L963.2,612.3 L964.0,614.0 L964.8,615.5 L965.6,617.0 L966.3,618.4 L966.9,619.7 L967.6,621.0 L968.2,622.3 L968.9,623.6 L969.5,625.0 L970.2,626.3 L970.9,627.8 L971.7,629.2 L972.4,630.7 L973.1,632.1 L973.8,633.6 L974.6,635.0 L975.3,636.4 L976.0,637.8 L976.6,639.1 L977.2,640.4 L978.1,642.1 L978.9,643.8 L979.7,645.4 L980.4,647.0 L981.1,648.4 L981.8,649.7 L982.5,650.9 L983.6,652.8 L984.7,654.3 L985.7,655.5 L986.9,656.2 L988.3,656.3 L989.8,656.0 L991.4,655.3 L993.1,654.4 L994.4,653.6 L995.8,652.7 L997.3,651.6 L998.7,650.4 L1000.1,649.2 L1001.2,648.1 L1002.3,647.1 L1003.3,646.0 L1004.3,644.8 L1005.3,643.5 L1006.2,642.1 L1007.0,640.8 L1007.7,639.5 L1008.4,638.0 L1009.0,636.5 L1009.6,635.0 L1010.1,633.3 L1010.6,631.6 L1010.9,630.2 L1011.1,628.8 L1011.2,627.4 L1011.3,626.0 L1011.4,624.4 L1011.5,622.9 L1011.7,621.2 L1012.0,619.5 L1012.4,617.7 L1012.7,616.4 L1013.2,614.9 L1013.7,613.4 L1014.2,611.8 L1014.8,610.1 L1015.4,608.5 L1016.0,606.9 L1016.6,605.2 L1017.2,603.7 L1017.8,602.2 L1018.3,600.8 L1018.9,599.5 L1019.4,598.4 L1020.3,596.3 L1021.1,594.7 L1021.9,593.3 L1022.7,592.2 L1023.6,591.3 L1024.7,590.5 L1026.2,589.8 L1028.0,589.5 L1029.9,589.4 L1031.7,589.5 L1033.4,589.6 L1035.4,590.0 L1037.2,590.7 L1038.9,591.3 L1040.5,591.4 L1041.9,590.9 L1043.1,590.1 L1044.3,588.8 L1045.7,587.0 L1046.4,585.9 L1047.2,584.7 L1048.0,583.4 L1048.8,582.0 L1049.6,580.4 L1050.5,578.9 L1051.3,577.2 L1052.0,575.5 L1052.7,573.8 L1053.2,572.5 L1053.7,571.1 L1054.2,569.7 L1054.7,568.2 L1055.2,566.7 L1055.6,565.2 L1056.0,563.7 L1056.4,562.1 L1056.9,560.6 L1057.3,559.1 L1057.6,557.7 L1058.0,556.3 L1058.4,554.7 L1058.8,553.3 L1059.1,552.0 L1059.5,550.7 L1059.8,549.5 L1060.1,548.1 L1060.4,546.6 L1060.7,544.8 L1061.1,542.8 L1061.5,540.5 L1061.7,539.3 L1061.9,538.1 L1062.1,536.8 L1062.3,535.4 L1062.5,534.0 L1062.8,532.5 L1063.0,531.0 L1063.2,529.5 L1063.5,527.9 L1063.7,526.2 L1063.9,524.6 L1064.2,522.9 L1064.4,521.3 L1064.6,519.6 L1064.9,517.9 L1065.1,516.3 L1065.4,514.6 L1065.6,513.0 L1065.9,511.4 L1066.1,509.8 L1066.3,508.3 L1066.6,506.8 L1066.8,505.3 L1067.1,503.7 L1067.3,502.1 L1067.6,500.4 L1067.8,498.8 L1068.1,497.2 L1068.4,495.6 L1068.6,493.9 L1068.9,492.3 L1069.2,490.8 L1069.4,489.2 L1069.7,487.7 L1069.9,486.2 L1070.2,484.7 L1070.5,483.2 L1070.7,481.8 L1071.0,480.5 L1071.3,479.2 L1071.5,477.9 L1071.8,476.7 L1072.1,475.5 L1072.5,473.5 L1073.0,471.7 L1073.4,470.0 L1073.9,468.4 L1074.3,466.9 L1074.8,465.5 L1075.2,464.3 L1075.7,463.1 L1076.2,461.9 L1076.7,460.8 L1077.3,459.7 L1078.3,458.0 L1079.4,456.4 L1080.5,454.9 L1081.7,453.7 L1082.9,452.7 L1084.1,452.0 L1085.2,451.8 L1086.4,452.1 L1087.5,452.8 L1088.7,453.8 L1089.8,455.2 L1090.9,456.7 L1092.0,458.2 L1093.1,459.7 L1093.9,460.9 L1094.7,462.1 L1095.4,463.4 L1096.1,464.8 L1096.8,466.2 L1097.6,467.6 L1098.4,469.0 L1099.2,470.5 L1100.1,472.0 L1101.0,473.2 L1101.9,474.6 L1102.8,476.1 L1103.8,477.6 L1104.8,479.0 L1105.8,480.5 L1106.8,481.9 L1107.8,483.2 L1108.8,484.3 L1109.8,485.3 L1110.7,486.0 L1112.6,486.8 L1114.5,486.8 L1116.3,486.3 L1118.0,485.9 L1119.5,486.0 L1121.0,486.7 L1122.2,487.6 L1123.4,489.0 L1124.7,491.3 L1125.2,492.3 L1125.8,493.6 L1126.3,494.9 L1126.9,496.4 L1127.5,497.9 L1128.1,499.5 L1128.6,501.2 L1129.3,502.8 L1129.9,504.4 L1130.5,506.0 L1131.1,507.5 L1131.7,508.9 L1132.5,510.3 L1133.2,511.7 L1133.9,512.9 L1134.7,514.1 L1135.4,515.3 L1136.2,516.6 L1137.0,517.9 L1137.9,519.4 L1138.9,521.0 L1140.0,522.9 L1140.6,523.9 L1141.2,525.1 L1141.9,526.3 L1142.6,527.5 L1143.4,528.8 L1144.2,530.1 L1144.9,531.5 L1145.7,532.9 L1146.6,534.3 L1147.4,535.8 L1148.2,537.2 L1149.0,538.6 L1149.8,540.1 L1150.6,541.5 L1151.3,542.9 L1152.1,544.3 L1152.8,545.6 L1153.5,546.9 L1154.1,548.1 L1154.7,549.3 L1155.5,550.9 L1156.2,552.5 L1156.8,554.0 L1157.4,555.5 L1158.0,556.9 L1158.5,558.4 L1159.0,559.7 L1159.5,561.1 L1160.0,562.4 L1160.5,563.7 L1161.0,565.0 L1161.4,566.3 L1162.0,567.6 L1162.5,568.8 L1163.2,570.4 L1163.9,571.9 L1164.6,573.4 L1165.3,574.8 L1166.1,576.2 L1166.8,577.6 L1167.5,578.9 L1168.2,580.3 L1168.9,581.7 L1169.6,583.0 L1170.3,584.5 L1171.0,585.9 L1171.8,587.3 L1172.5,588.8 L1173.2,590.3 L1174.0,591.8 L1174.7,593.2 L1175.4,594.7 L1176.1,596.1 L1176.8,597.5 L1177.5,598.8 L1178.1,600.1 L1179.0,601.8 L1179.7,603.4 L1180.5,605.0 L1181.2,606.5 L1181.9,607.9 L1182.6,609.3 L1183.3,610.6 L1184.0,611.8 L1184.9,613.3 L1185.9,614.8 L1186.8,616.1 L1187.7,617.3 L1188.8,618.1 L1189.8,618.6 L1191.3,618.9 L1192.8,618.9 L1194.4,618.4 L1196.1,617.4 L1197.7,615.7 L1198.3,614.8 L1199.0,613.6 L1199.6,612.4 L1200.3,611.0 L1200.9,609.5 L1201.6,608.0 L1202.2,606.3 L1202.9,604.7 L1203.5,603.0 L1204.2,601.3 L1204.8,599.7 L1205.5,598.1 L1206.0,596.8 L1206.6,595.3 L1207.2,593.9 L1207.8,592.3 L1208.4,590.8 L1209.0,589.3 L1209.6,587.7 L1210.1,586.2 L1210.7,584.8 L1211.3,583.4 L1211.8,582.0 L1212.3,580.8 L1212.8,579.6 L1213.3,578.6 L1214.4,576.0 L1215.4,573.9 L1216.4,572.2 L1217.2,571.3 L1218.2,571.2 L1218.8,571.6 L1219.4,572.5 L1220.0,573.8 L1220.5,575.3 L1221.1,577.0 L1221.8,578.8 L1222.4,580.7 L1223.1,582.5 L1223.5,583.8 L1224.0,585.3 L1224.5,586.9 L1225.0,588.6 L1225.5,590.4 L1226.0,592.1 L1226.6,593.8 L1227.1,595.4 L1227.6,596.9 L1228.0,598.2 L1228.5,599.3 L1228.9,600.1 L1230.9,600.9 L1232.8,598.1 L1233.5,597.0 L1234.1,595.5 L1234.9,593.8 L1235.6,592.0 L1236.4,590.2 L1237.2,588.5 L1237.9,587.2 L1238.7,586.4 L1240.1,586.4 L1241.6,587.8 L1243.1,589.2 L1244.5,589.3 L1245.3,588.7 L1246.0,587.8 L1246.7,586.7 L1247.5,585.4 L1248.2,583.9 L1248.9,582.2 L1249.7,580.5 L1250.4,578.6 L1250.9,577.3 L1251.3,575.9 L1251.8,574.3 L1252.3,572.7 L1252.8,570.9 L1253.3,569.2 L1253.7,567.4 L1254.2,565.7 L1254.7,564.1 L1255.1,562.6 L1255.5,561.2 L1255.9,560.0 L1256.3,559.1 L1258.1,556.9 L1259.2,557.1"/>
<path class="c" d="M671.7,527.7 L672.6,527.9 L673.8,528.2 L675.2,528.6 L676.8,529.2 L678.5,530.1 L680.2,530.3 L681.9,530.3 L683.4,530.8 L684.7,531.6 L686.1,532.4 L687.4,533.5 L688.7,534.5 L690.1,535.5 L691.4,536.4 L692.7,537.2 L693.9,538.1 L695.1,538.9 L696.6,539.8 L698.0,539.8 L699.4,539.8 L700.8,540.4 L702.0,541.6 L703.3,542.8 L704.5,544.2 L705.3,545.4 L706.1,546.6 L706.9,547.9 L707.6,549.3 L708.3,550.8 L709.1,552.3 L709.8,553.9 L710.6,555.5 L711.5,556.9 L712.3,558.1 L713.1,559.3 L713.9,560.6 L714.8,561.8 L715.7,563.1 L716.6,564.4 L717.5,565.7 L718.4,567.2 L719.3,568.7 L720.1,570.1 L720.9,571.5 L721.8,572.9 L722.6,574.1 L723.4,575.3 L724.2,576.5 L725.0,577.7 L725.7,579.0 L726.4,580.2 L727.2,581.5 L727.9,582.8 L728.6,584.0 L729.3,585.3 L729.9,586.6 L730.6,588.0 L731.2,589.3 L731.8,590.8 L732.5,592.4 L733.1,593.9 L733.7,595.1 L735.2,597.4 L736.6,598.4 L738.0,598.8 L739.6,598.2 L740.5,597.4 L741.5,596.5 L742.6,595.4 L743.6,594.1 L744.7,592.6 L745.7,590.9 L746.6,589.1 L747.0,588.2 L747.4,587.1 L747.8,585.9 L748.2,584.7 L748.5,583.3 L748.9,581.9 L749.3,580.3 L749.6,578.5 L750.0,576.7 L750.3,574.9 L750.7,573.2 L751.0,571.4 L751.4,569.7 L751.7,568.1 L752.1,566.6 L752.5,565.1 L753.0,563.3 L753.5,561.5 L754.0,559.8 L754.4,558.1 L754.9,556.5 L755.4,555.0 L755.9,553.5 L756.5,552.2 L757.0,551.0 L757.7,549.9 L758.3,548.9 L759.6,547.5 L761.0,546.4 L762.5,545.6 L764.1,545.5 L765.8,545.8 L767.7,545.9 L769.0,545.8 L770.5,545.8 L772.0,545.8 L773.6,546.0 L775.2,546.5 L776.9,547.1 L778.5,548.0 L780.1,548.8 L781.7,548.8 L783.3,548.5 L784.8,548.6 L786.4,548.9 L788.0,549.5 L789.5,550.6 L791.1,551.7 L792.7,552.1 L794.2,552.5 L795.8,552.8 L797.2,553.1 L798.6,553.4 L800.0,553.5 L801.4,553.6 L802.8,554.4 L804.2,555.3 L805.6,556.0 L807.0,556.5 L808.4,557.0 L809.8,557.4 L811.2,557.6 L812.6,558.2 L814.0,559.0 L815.4,559.8 L816.8,560.5 L818.2,561.3 L819.6,562.2 L821.1,563.1 L822.5,564.1 L823.9,564.6 L825.3,565.0 L826.7,565.4 L828.1,565.7 L829.5,566.1 L830.9,567.0 L832.3,567.9 L833.7,568.9 L835.1,570.0 L836.5,571.2 L837.9,572.1 L839.2,573.0 L840.5,573.6 L841.7,574.0 L843.0,574.4 L844.3,575.0 L845.6,575.8 L846.8,576.6 L848.1,577.5 L849.4,578.5 L850.7,579.4 L852.0,580.4 L853.1,581.4 L854.3,582.3 L855.5,583.1 L856.6,584.0 L857.8,584.9 L859.0,586.0 L860.1,587.2 L861.3,588.5 L862.5,590.0 L863.7,591.6 L864.8,592.9 L866.0,593.8 L867.1,594.6 L868.2,595.4 L869.3,596.2 L870.4,597.0 L871.5,597.8 L872.6,599.6 L873.7,601.4 L874.8,603.2 L875.9,604.1 L877.0,604.9 L878.0,605.7 L879.0,606.9 L880.0,608.1 L881.0,609.3 L882.0,610.5 L883.0,611.7 L883.9,612.9 L884.8,614.1 L885.7,615.4 L886.6,616.6 L887.5,617.8 L888.4,619.1 L889.3,620.4 L890.1,621.7 L890.9,623.1 L891.7,624.5 L892.4,625.8 L893.1,627.0 L893.8,628.3 L894.4,629.6 L895.0,630.9 L895.7,632.3 L896.3,633.6 L896.9,635.0 L897.5,636.4 L898.1,637.9 L898.7,639.3 L899.3,640.9 L899.9,642.4 L900.5,644.0 L901.1,645.6 L901.6,646.9 L902.1,648.3 L902.6,649.8 L903.2,651.3 L903.7,652.9 L904.2,654.5 L904.7,656.1 L905.3,657.7 L905.8,659.4 L906.3,661.0 L906.8,662.6 L907.3,664.2 L907.8,665.7 L908.3,667.2 L908.8,668.7 L909.2,670.1 L909.7,671.4 L910.1,672.6 L910.5,673.7 L911.3,676.0 L912.1,677.9 L912.7,679.5 L913.3,680.8 L913.9,682.1 L914.4,683.3 L915.1,684.6 L915.8,686.0 L916.5,687.4 L917.1,688.8 L917.8,690.1 L918.5,691.5 L919.2,692.9 L920.0,694.2 L920.9,695.6 L921.8,697.0 L922.8,698.3 L923.7,699.4 L924.8,700.6 L925.8,701.7 L927.0,702.8 L928.2,703.9 L929.3,705.0 L930.6,706.1 L931.7,707.3 L932.9,708.4 L934.0,709.5 L935.1,710.6 L936.2,711.8 L937.3,713.0 L938.4,714.2 L939.5,715.4 L940.5,716.6 L941.5,717.9 L942.5,719.1 L943.6,720.3 L944.6,721.6 L945.6,722.9 L946.6,724.1 L947.6,725.3 L948.5,726.6 L949.5,727.9 L950.4,729.2 L951.4,730.5 L952.4,731.8 L953.3,733.1 L954.3,734.4 L955.2,735.7 L956.2,736.9 L957.2,738.2 L958.1,739.5 L959.1,740.9 L960.2,742.2 L961.2,743.5 L962.2,744.8 L963.1,746.1 L964.1,747.4 L965.0,748.6 L965.9,749.8 L966.7,751.0 L967.8,752.5 L968.7,753.9 L969.6,755.2 L970.4,756.5 L971.3,757.8 L972.1,759.0 L972.9,760.3 L973.7,761.5 L974.7,763.0 L975.7,764.5 L976.7,766.0 L977.8,767.5 L978.8,768.8 L979.8,770.1 L980.8,771.2 L982.2,772.5 L983.6,773.6 L985.0,774.5 L986.4,775.2 L987.8,775.6 L989.5,775.7 L991.2,775.4 L992.9,774.8 L994.8,773.8 L996.0,773.1 L997.2,772.4 L998.5,771.5 L999.9,770.6 L1001.2,769.5 L1002.4,768.2 L1003.6,766.8 L1004.4,765.7 L1005.1,764.5 L1005.8,763.1 L1006.5,761.8 L1007.2,760.3 L1007.9,758.8 L1008.6,757.3 L1009.2,755.8 L1009.9,754.3 L1010.6,752.7 L1011.2,751.4 L1011.9,749.9 L1012.5,748.5 L1013.2,747.0 L1013.8,745.5 L1014.4,744.0 L1015.1,742.5 L1015.7,741.0 L1016.4,739.6 L1017.0,738.3 L1017.6,736.9 L1018.4,735.4 L1019.2,733.8 L1019.9,732.2 L1020.7,730.7 L1021.4,729.3 L1022.2,727.9 L1023.0,726.7 L1023.8,725.6 L1024.7,724.7 L1026.0,723.6 L1027.4,723.0 L1028.8,722.6 L1030.3,722.4 L1031.8,722.2 L1033.4,722.0 L1034.9,721.8 L1036.4,721.7 L1037.9,721.7 L1039.5,721.6 L1041.0,721.5 L1042.5,721.4 L1044.0,721.1 L1045.6,720.8 L1047.2,720.4 L1048.7,719.9 L1050.1,719.3 L1051.5,718.6 L1052.7,717.6 L1053.8,716.5 L1054.8,715.3 L1055.7,713.9 L1056.5,712.4 L1057.3,710.7 L1058.0,708.9 L1058.5,707.6 L1058.9,706.2 L1059.2,704.8 L1059.6,703.4 L1059.9,701.8 L1060.3,700.2 L1060.7,698.5 L1061.1,696.7 L1061.5,694.8 L1061.8,693.5 L1062.2,692.2 L1062.5,690.8 L1062.9,689.3 L1063.3,687.9 L1063.7,686.4 L1064.0,684.8 L1064.4,683.3 L1064.8,681.7 L1065.2,680.1 L1065.6,678.5 L1066.0,676.9 L1066.4,675.3 L1066.8,673.7 L1067.1,672.2 L1067.5,670.7 L1067.8,669.1 L1068.2,667.5 L1068.5,665.9 L1068.9,664.3 L1069.2,662.6 L1069.6,661.0 L1069.9,659.4 L1070.3,657.9 L1070.7,656.4 L1071.0,654.9 L1071.4,653.5 L1071.7,652.2 L1072.1,650.9 L1072.6,649.0 L1073.2,647.2 L1073.7,645.5 L1074.3,644.0 L1074.8,642.5 L1075.4,641.2 L1076.0,640.0 L1076.6,638.8 L1077.3,637.7 L1078.5,636.3 L1079.8,635.0 L1081.1,633.9 L1082.5,633.1 L1083.9,632.6 L1085.2,632.5 L1086.6,632.8 L1088.0,633.7 L1089.3,634.8 L1090.7,636.1 L1092.0,637.4 L1093.1,638.6 L1094.2,639.9 L1095.1,641.1 L1095.9,642.4 L1096.9,643.9 L1098.4,645.6 L1099.3,646.6 L1100.2,647.6 L1101.3,648.8 L1102.5,650.0 L1103.7,651.2 L1104.9,652.4 L1106.2,653.7 L1107.4,654.9 L1108.6,656.0 L1109.7,657.0 L1110.7,657.9 L1112.1,659.1 L1113.3,660.0 L1114.4,660.7 L1115.4,661.4 L1116.6,662.2 L1117.9,663.2 L1119.5,664.5 L1120.4,665.4 L1121.4,666.3 L1122.5,667.4 L1123.6,668.5 L1124.8,669.6 L1126.0,670.8 L1127.2,672.0 L1128.4,673.3 L1129.6,674.5 L1130.8,675.7 L1131.9,676.9 L1133.1,678.1 L1134.1,679.1 L1135.2,680.2 L1136.4,681.4 L1137.5,682.5 L1138.6,683.5 L1139.7,684.5 L1140.7,685.4 L1141.8,686.4 L1142.8,687.4 L1143.8,688.4 L1144.8,689.4 L1145.8,690.6 L1146.9,691.9 L1147.7,693.0 L1148.6,694.1 L1149.4,695.4 L1150.3,696.6 L1151.1,698.0 L1152.0,699.3 L1152.9,700.7 L1153.7,702.0 L1154.6,703.4 L1155.4,704.7 L1156.2,706.0 L1157.0,707.2 L1157.8,708.4 L1158.6,709.5 L1159.7,710.9 L1160.7,712.2 L1161.7,713.4 L1162.6,714.6 L1163.6,715.7 L1164.5,716.8 L1165.5,717.8 L1166.4,718.9 L1167.4,720.0 L1168.4,721.2 L1169.3,722.4 L1170.3,723.6 L1171.3,724.8 L1172.3,726.0 L1173.2,727.2 L1174.2,728.3 L1175.2,729.5 L1176.2,730.7 L1177.2,731.8 L1178.1,732.9 L1179.2,734.1 L1180.4,735.5 L1181.5,736.8 L1182.7,738.2 L1183.8,739.4 L1184.9,740.6 L1186.0,741.5 L1187.0,742.2 L1187.9,742.7 L1189.3,742.7 L1190.4,742.0 L1191.5,740.9 L1192.5,739.4 L1193.8,737.8 L1194.6,736.7 L1195.6,735.4 L1196.5,733.9 L1197.5,732.4 L1198.5,730.9 L1199.6,729.4 L1200.6,728.1 L1201.6,727.0 L1202.9,725.9 L1204.1,725.1 L1205.4,724.4 L1206.7,723.8 L1208.0,723.1 L1209.4,722.2 L1210.6,721.1 L1211.9,719.8 L1213.3,718.3 L1214.6,717.0 L1215.9,715.7 L1217.1,714.8 L1218.2,714.3 L1219.6,714.5 L1220.8,715.6 L1221.9,717.2 L1223.1,719.2 L1223.7,720.4 L1224.4,721.8 L1225.2,723.4 L1225.9,725.1 L1226.7,726.7 L1227.4,728.3 L1228.2,729.8 L1228.9,730.9 L1230.1,732.5 L1231.3,733.8 L1232.6,734.8 L1233.7,735.5 L1234.8,735.8 L1236.2,735.2 L1237.4,733.8 L1238.7,732.9 L1240.5,734.0 L1242.6,734.9 L1243.6,734.3 L1244.8,733.5 L1246.0,732.4 L1247.2,731.2 L1248.4,730.0 L1249.4,728.9 L1250.4,727.7 L1251.4,726.5 L1252.4,725.3 L1253.4,724.1 L1254.3,723.1 L1255.7,721.9 L1257.1,720.8 L1258.3,719.9 L1259.2,719.2"/>
<path class="c" d="M671.7,679.9 L672.8,679.9 L674.2,680.1 L675.9,680.3 L677.8,680.5 L679.7,680.8 L681.6,681.3 L683.4,681.9 L684.9,682.4 L686.3,683.2 L687.8,684.4 L689.3,685.7 L690.7,685.9 L692.2,685.8 L693.7,686.1 L695.1,686.7 L696.6,687.2 L698.0,687.3 L699.5,687.3 L701.0,687.7 L702.4,688.3 L703.9,689.0 L705.4,690.2 L706.8,691.4 L708.3,692.1 L709.8,692.7 L711.3,692.9 L712.8,692.6 L714.3,692.8 L715.8,694.6 L717.2,696.3 L718.5,696.8 L720.0,696.9 L721.4,697.5 L722.8,699.1 L724.2,700.7 L725.4,701.5 L726.7,701.9 L727.9,702.3 L729.2,703.4 L730.4,704.5 L731.6,705.6 L732.7,706.8 L733.8,707.9 L734.9,708.9 L736.5,710.3 L737.9,711.7 L739.3,712.7 L740.8,713.1 L742.2,712.7 L743.6,710.8 L745.1,708.6 L746.6,706.9 L747.5,706.0 L748.5,704.9 L749.4,703.7 L750.4,702.4 L751.4,701.1 L752.5,699.9 L753.6,698.3 L754.9,696.7 L756.1,695.2 L757.5,694.1 L758.9,693.1 L760.3,692.1 L761.6,691.3 L763.0,690.7 L764.5,690.8 L766.0,691.1 L767.5,690.8 L769.1,690.2 L770.7,690.2 L772.4,690.9 L773.9,691.3 L775.5,690.9 L777.2,690.5 L778.9,690.7 L780.7,691.0 L782.4,691.6 L784.1,692.2 L785.5,693.1 L786.9,694.0 L788.4,694.3 L789.8,694.2 L791.2,694.2 L792.7,694.7 L794.2,695.3 L795.8,695.5 L797.2,695.5 L798.7,696.1 L800.3,697.2 L801.9,698.0 L803.4,698.0 L805.0,698.0 L806.7,699.5 L808.2,701.0 L809.8,701.4 L811.4,701.6 L812.9,701.5 L814.5,701.1 L816.1,701.4 L817.6,702.7 L819.2,703.9 L820.7,704.4 L822.3,704.9 L823.9,705.2 L825.4,705.6 L827.0,706.0 L828.5,706.5 L830.1,706.8 L831.7,707.0 L833.2,707.2 L834.8,707.6 L836.3,708.0 L837.9,709.1 L839.3,710.2 L840.8,711.0 L842.2,711.6 L843.6,712.2 L845.1,712.9 L846.5,713.6 L847.9,714.1 L849.3,714.6 L850.6,715.2 L852.0,716.4 L853.4,717.7 L854.7,718.5 L856.0,718.9 L857.3,719.2 L858.6,719.9 L859.8,720.6 L861.1,721.4 L862.4,722.9 L863.7,724.5 L865.0,725.8 L866.3,726.7 L867.6,727.7 L869.0,728.9 L870.3,730.2 L871.6,731.5 L872.9,732.1 L874.2,732.7 L875.4,733.5 L876.6,734.7 L877.9,735.8 L879.0,736.7 L880.2,737.4 L881.3,738.2 L882.4,739.4 L883.6,741.4 L884.7,743.6 L885.5,745.2 L886.3,745.9 L887.1,746.7 L887.9,747.6 L888.7,748.5 L889.6,750.1 L890.4,752.0 L891.1,754.0 L891.9,755.9 L892.7,757.6 L893.4,758.8 L894.1,759.9 L894.8,761.1 L895.5,762.3 L896.2,763.5 L896.8,764.7 L897.4,765.9 L898.1,767.1 L898.7,768.4 L899.3,769.7 L899.9,771.3 L900.5,774.0 L901.1,775.8 L901.6,777.0 L902.0,778.4 L902.4,779.7 L902.9,781.1 L903.3,782.6 L903.7,784.0 L904.2,785.5 L904.6,787.0 L905.1,788.6 L905.5,790.1 L905.9,791.6 L906.4,793.2 L906.8,794.7 L907.3,796.2 L907.7,797.7 L908.1,799.2 L908.6,800.6 L909.0,802.1 L909.4,803.6 L909.8,805.1 L910.3,806.6 L910.7,808.1 L911.1,809.5 L911.5,811.0 L911.9,812.5 L912.4,814.0 L912.8,815.4 L913.2,816.9 L913.7,818.3 L914.2,819.8 L914.7,821.2 L915.2,822.6 L915.7,824.1 L916.3,825.6 L916.8,827.0 L917.4,828.5 L917.9,830.0 L918.5,831.4 L919.1,832.8 L919.7,834.3 L920.3,835.7 L921.0,837.1 L921.6,838.4 L922.3,839.8 L923.0,841.1 L923.8,842.4 L924.5,843.7 L925.4,845.0 L926.3,846.3 L927.3,847.7 L928.3,849.0 L929.3,850.3 L930.4,851.5 L931.5,852.7 L932.6,853.9 L933.6,855.1 L934.7,856.2 L935.7,857.3 L936.7,858.2 L937.7,859.2 L938.6,860.0 L940.0,861.3 L941.4,862.4 L942.7,863.3 L944.0,864.0 L945.2,864.7 L946.4,865.3 L947.6,866.0 L948.8,866.8 L950.1,867.8 L951.4,868.9 L952.6,869.9 L953.9,871.0 L955.1,872.0 L956.3,873.1 L957.6,874.1 L958.8,875.2 L960.2,876.3 L961.5,877.4 L962.8,878.6 L964.0,879.6 L965.2,880.6 L966.3,881.4 L968.0,882.7 L969.4,883.7 L970.8,884.4 L972.2,885.1 L974.1,885.7 L976.1,886.1 L978.0,886.1 L979.5,886.0 L981.0,885.6 L982.4,885.1 L983.9,884.4 L985.1,883.6 L986.2,882.7 L987.4,881.7 L988.6,880.5 L989.7,879.2 L990.7,878.1 L991.7,876.9 L992.7,875.6 L993.6,874.3 L994.6,872.8 L995.6,871.2 L996.3,869.9 L997.1,868.6 L997.9,867.1 L998.6,865.7 L999.4,864.1 L1000.1,862.6 L1000.8,861.0 L1001.4,859.5 L1002.0,858.1 L1002.5,856.7 L1003.0,855.3 L1003.5,853.9 L1004.0,852.5 L1004.4,851.0 L1004.9,849.5 L1005.4,847.9 L1005.8,846.3 L1006.2,845.0 L1006.6,843.6 L1007.0,842.2 L1007.4,840.7 L1007.8,839.3 L1008.2,837.8 L1008.6,836.3 L1009.0,834.8 L1009.4,833.3 L1009.8,831.8 L1010.2,830.2 L1010.6,828.8 L1011.0,827.4 L1011.3,825.9 L1011.7,824.4 L1012.1,822.9 L1012.4,821.4 L1012.8,820.0 L1013.2,818.5 L1013.5,817.0 L1013.9,815.5 L1014.3,814.1 L1014.6,812.7 L1015.0,811.1 L1015.4,809.6 L1015.8,808.0 L1016.2,806.5 L1016.6,804.9 L1017.0,803.4 L1017.4,801.9 L1017.8,800.5 L1018.2,799.1 L1018.6,797.8 L1019.0,796.6 L1019.6,794.8 L1020.2,793.2 L1020.8,791.7 L1021.4,790.3 L1022.0,789.0 L1022.7,787.7 L1023.4,786.3 L1024.1,785.0 L1024.9,783.6 L1025.7,782.2 L1026.6,780.9 L1027.4,779.7 L1028.3,778.5 L1029.2,777.6 L1030.6,776.4 L1032.1,775.4 L1033.7,774.6 L1035.2,774.3 L1036.6,773.5 L1038.6,772.7 L1040.5,772.7 L1042.4,773.2 L1043.9,774.0 L1045.3,775.2 L1046.8,776.4 L1048.3,777.0 L1050.2,777.6 L1052.2,778.5 L1054.1,778.5 L1055.5,777.5 L1057.0,776.2 L1058.4,776.0 L1060.0,776.0 L1061.3,775.7 L1062.8,775.3 L1064.3,774.7 L1065.8,773.9 L1067.3,773.3 L1069.1,774.0 L1071.0,775.2 L1072.9,775.1 L1074.6,775.4 L1076.2,776.4 L1077.6,777.6 L1079.0,778.4 L1080.5,779.2 L1081.6,779.9 L1082.8,781.6 L1084.0,783.3 L1085.1,784.9 L1086.3,785.9 L1087.8,786.8 L1089.2,787.2 L1090.7,787.2 L1092.2,786.9 L1093.6,786.5 L1095.1,785.9 L1096.5,785.4 L1098.0,785.1 L1099.5,784.7 L1100.9,784.1 L1102.4,783.7 L1103.9,782.9 L1105.7,782.1 L1107.5,781.9 L1109.8,781.8 L1111.2,781.6 L1112.7,781.5 L1114.4,782.0 L1116.1,782.6 L1117.9,782.6 L1119.5,782.5 L1121.2,783.3 L1122.8,784.5 L1124.4,785.1 L1126.0,785.4 L1127.7,785.7 L1129.3,786.3 L1130.9,786.7 L1132.6,787.0 L1134.2,787.3 L1135.8,787.4 L1137.4,787.5 L1139.1,787.5 L1140.7,787.6 L1142.2,787.5 L1143.8,787.5 L1145.4,787.8 L1147.1,788.5 L1148.8,788.8 L1150.4,788.8 L1152.1,789.1 L1153.8,789.8 L1155.6,790.4 L1157.3,790.5 L1159.0,790.8 L1160.5,791.5 L1162.3,792.0 L1163.9,791.9 L1165.4,791.6 L1167.0,791.5 L1168.6,791.6 L1170.3,790.5 L1171.9,789.3 L1173.6,789.1 L1175.3,789.5 L1177.0,790.1 L1178.8,790.9 L1180.4,791.1 L1182.0,791.0 L1183.8,790.6 L1185.4,790.0 L1186.9,789.5 L1188.5,789.0 L1190.1,788.6 L1191.8,788.0 L1193.2,787.6 L1194.7,787.3 L1196.2,787.1 L1197.8,786.5 L1199.3,785.7 L1200.8,785.2 L1202.2,785.8 L1203.5,786.4 L1205.4,786.7 L1207.0,787.0 L1208.5,787.6 L1210.0,788.4 L1211.3,789.3 L1212.4,790.0 L1213.4,790.9 L1214.4,791.9 L1215.3,792.9 L1216.2,794.0 L1217.2,795.2 L1218.0,796.3 L1218.9,797.9 L1219.7,799.6 L1220.5,801.4 L1221.4,803.2 L1222.2,804.7 L1223.1,806.2 L1223.8,807.5 L1224.5,809.0 L1225.2,810.4 L1226.0,811.5 L1226.7,812.6 L1227.4,813.7 L1228.2,814.6 L1228.9,815.7 L1229.9,817.3 L1230.9,818.8 L1231.9,820.1 L1232.9,821.5 L1233.8,822.8 L1234.8,824.2 L1236.1,825.7 L1237.3,826.5 L1238.5,826.9 L1239.7,827.0 L1240.6,826.5 L1241.7,825.5 L1242.7,824.2 L1243.6,823.2 L1244.5,822.3 L1245.6,821.6 L1246.6,820.8 L1247.6,819.6 L1248.4,817.7 L1248.8,816.6 L1249.2,815.2 L1249.5,813.7 L1249.8,811.9 L1250.1,810.1 L1250.4,808.4 L1250.7,806.7 L1251.1,805.2 L1251.4,804.0 L1252.3,801.4 L1253.3,799.9 L1254.3,799.1 L1255.8,798.7 L1257.2,798.4 L1258.9,796.7 L1260.2,795.1"/>
<path class="c" d="M39.9,1215.3 L40.8,1215.9 L42.1,1216.6 L43.6,1217.1 L45.1,1217.7 L46.7,1218.5 L48.1,1219.5 L49.5,1220.5 L50.8,1221.4 L52.1,1222.4 L53.5,1223.5 L55.1,1224.6 L56.3,1225.4 L57.5,1226.3 L58.8,1227.3 L60.2,1227.8 L61.5,1228.7 L62.9,1229.6 L64.3,1230.6 L65.6,1231.7 L66.7,1232.6 L67.8,1233.6 L68.8,1234.7 L69.9,1235.8 L71.0,1236.9 L72.1,1238.1 L73.1,1239.3 L74.1,1240.4 L75.2,1241.6 L76.2,1242.7 L77.3,1243.9 L78.4,1245.0 L79.5,1246.2 L80.6,1247.4 L81.6,1248.5 L82.6,1249.7 L83.6,1250.9 L84.6,1252.0 L85.5,1253.2 L86.5,1254.5 L87.5,1255.8 L88.3,1257.1 L89.2,1258.4 L90.0,1259.7 L90.9,1261.0 L91.7,1262.4 L92.6,1263.7 L93.3,1265.0 L94.1,1266.2 L94.9,1267.5 L95.7,1268.8 L96.5,1270.1 L97.2,1271.4 L98.0,1272.7 L98.8,1274.1 L99.6,1275.4 L100.4,1276.8 L101.2,1278.1 L101.9,1279.3 L102.7,1280.6 L103.5,1282.0 L104.3,1283.4 L105.1,1284.9 L105.8,1286.5 L106.6,1288.3 L107.1,1289.6 L107.6,1290.9 L108.1,1292.3 L108.6,1293.7 L109.1,1295.2 L109.6,1296.8 L110.1,1298.3 L110.6,1299.9 L111.1,1301.5 L111.6,1303.1 L112.1,1304.7 L112.6,1306.3 L113.1,1307.9 L113.6,1309.4 L114.1,1310.9 L114.7,1312.4 L115.2,1313.9 L115.7,1315.5 L116.2,1317.0 L116.8,1318.5 L117.3,1320.1 L117.8,1321.6 L118.3,1323.1 L118.8,1324.6 L119.3,1326.1 L119.8,1327.6 L120.2,1329.0 L120.7,1330.5 L121.1,1332.1 L121.6,1333.6 L122.0,1335.1 L122.4,1336.6 L122.8,1338.1 L123.1,1339.5 L123.5,1341.0 L123.9,1342.5 L124.2,1344.1 L124.6,1345.7 L125.0,1347.4 L125.3,1349.2 L125.6,1350.5 L125.9,1351.9 L126.2,1353.2 L126.4,1354.7 L126.7,1356.1 L127.0,1357.6 L127.3,1359.0 L127.5,1360.6 L127.8,1362.1 L128.1,1363.6 L128.4,1365.2 L128.6,1366.8 L128.9,1368.4 L129.2,1370.0 L129.5,1371.6 L129.7,1373.3 L130.0,1374.9 L130.3,1376.3 L130.5,1377.8 L130.7,1379.2 L131.0,1380.7 L131.2,1382.2 L131.5,1383.7 L131.7,1385.2 L132.0,1386.8 L132.2,1388.3 L132.4,1389.9 L132.7,1391.4 L132.9,1393.0 L133.2,1394.5 L133.4,1396.1 L133.6,1397.6 L133.8,1399.2 L134.1,1400.8 L134.3,1402.3 L134.5,1403.8 L134.7,1405.4 L134.9,1406.9 L135.1,1408.4 L135.3,1409.9 L135.5,1411.4 L135.7,1412.9 L135.8,1414.3 L136.0,1415.8 L136.2,1417.3 L136.4,1418.8 L136.5,1420.3 L136.7,1421.8 L136.9,1423.3 L137.0,1424.8 L137.2,1426.3 L137.4,1427.9 L137.5,1429.4 L137.7,1431.0 L137.9,1432.6 L138.0,1434.2 L138.2,1435.8 L138.4,1437.2 L138.5,1438.7 L138.7,1440.1 L138.8,1441.6 L139.0,1443.1 L139.2,1444.6 L139.3,1446.1 L139.5,1447.6 L139.6,1449.1 L139.8,1450.6 L140.0,1452.2 L140.1,1453.7 L140.3,1455.2 L140.4,1456.8 L140.6,1458.4 L140.7,1459.9 L140.9,1461.5 L141.0,1463.0 L141.2,1464.6 L141.3,1466.2 L141.5,1467.8 L141.6,1469.3 L141.7,1470.9 L141.8,1472.4 L142.0,1474.0 L142.1,1475.5 L142.2,1477.1 L142.3,1478.6 L142.4,1480.2 L142.5,1481.8 L142.6,1483.4 L142.7,1485.0 L142.8,1486.6 L142.9,1488.2 L143.0,1489.8 L143.1,1491.4 L143.2,1493.0 L143.2,1494.6 L143.3,1496.1 L143.4,1497.7 L143.5,1499.2 L143.6,1500.7 L143.7,1502.3 L143.8,1503.8 L143.9,1505.2 L144.0,1506.7 L144.1,1508.1 L144.2,1509.8 L144.3,1511.4 L144.4,1513.0 L144.5,1514.5 L144.6,1516.1 L144.7,1517.6 L144.8,1519.1 L144.9,1520.5 L145.1,1522.0 L145.2,1523.4 L145.3,1524.9 L145.4,1526.3 L145.5,1527.8 L145.6,1529.3 L145.7,1530.7 L145.9,1532.2 L146.0,1533.8 L146.1,1535.3 L146.3,1536.9 L146.4,1538.5 L146.5,1540.0 L146.7,1541.4 L146.8,1542.9 L146.9,1544.4 L147.1,1545.9 L147.2,1547.5 L147.4,1549.0 L147.5,1550.6 L147.7,1552.1 L147.9,1553.7 L148.0,1555.3 L148.2,1556.9 L148.3,1558.4 L148.5,1560.0 L148.7,1561.6 L148.8,1563.1 L149.0,1564.7 L149.1,1566.2 L149.3,1567.7 L149.5,1569.3 L149.6,1570.7 L149.8,1572.2 L149.9,1573.6 L150.1,1575.3 L150.3,1576.9 L150.4,1578.5 L150.6,1580.0 L150.8,1581.6 L150.9,1583.1 L151.1,1584.6 L151.3,1586.1 L151.4,1587.6 L151.6,1589.1 L151.8,1590.6 L151.9,1592.1 L152.1,1593.6 L152.3,1595.1 L152.5,1596.6 L152.7,1598.1 L152.8,1599.5 L153.0,1601.0 L153.2,1602.6 L153.4,1604.1 L153.6,1605.6 L153.9,1607.2 L154.1,1608.7 L154.3,1610.3 L154.5,1611.9 L154.7,1613.6 L155.0,1615.2 L155.2,1616.8 L155.5,1618.4 L155.7,1620.0 L155.9,1621.6 L156.2,1623.2 L156.4,1624.7 L156.7,1626.2 L156.9,1627.7 L157.2,1629.2 L157.4,1630.6 L157.6,1631.9 L157.9,1633.2 L158.1,1634.5 L158.5,1636.5 L158.9,1638.5 L159.3,1640.3 L159.7,1642.1 L160.2,1643.8 L160.6,1645.5 L161.0,1647.0 L161.4,1648.5 L161.8,1649.8 L162.1,1651.1 L162.5,1652.2 L162.8,1653.2 L163.8,1656.2 L164.6,1657.6 L165.6,1657.9 L166.5,1657.6 L167.6,1656.6 L168.7,1655.1 L169.8,1653.2 L170.4,1652.1 L170.9,1650.8 L171.4,1649.5 L172.0,1648.0 L172.6,1646.4 L173.2,1644.8 L173.8,1643.1 L174.5,1641.5 L175.1,1640.2 L175.8,1638.8 L176.4,1637.3 L177.1,1635.8 L177.9,1634.4 L178.6,1632.9 L179.3,1631.4 L180.1,1630.0 L180.8,1628.7 L181.5,1627.5 L182.5,1625.8 L183.5,1624.3 L184.4,1622.8 L185.4,1621.4 L186.4,1620.2 L187.4,1619.1 L188.5,1618.1 L190.0,1617.2 L191.5,1616.5 L193.1,1615.9 L194.7,1615.6 L196.3,1615.4 L197.9,1615.3 L199.5,1615.4 L201.1,1615.8 L202.7,1616.3 L204.2,1616.9 L205.8,1617.5 L207.3,1618.1 L209.0,1618.9 L210.6,1619.7 L212.2,1620.6 L213.8,1621.2 L215.5,1621.6 L217.1,1621.6 L218.7,1621.3 L220.3,1620.8 L221.9,1620.3 L223.7,1620.0 L225.2,1619.8 L226.7,1619.7 L228.3,1619.6 L229.9,1619.6 L231.5,1619.6 L233.0,1619.8 L234.8,1620.1 L236.4,1620.7 L238.1,1621.3 L239.7,1621.9 L241.2,1622.3 L243.1,1622.7 L245.0,1622.9 L246.8,1622.8 L248.2,1622.3 L249.4,1621.4 L250.2,1620.2 L251.0,1618.4 L251.7,1615.8 L252.0,1614.6 L252.3,1613.4 L252.6,1612.0 L252.9,1610.5 L253.2,1609.0 L253.5,1607.3 L253.8,1605.6 L254.1,1603.9 L254.4,1602.2 L254.7,1600.4 L255.0,1598.7 L255.3,1597.0 L255.5,1595.6 L255.8,1594.2 L256.0,1592.7 L256.2,1591.2 L256.5,1589.7 L256.7,1588.2 L256.9,1586.7 L257.2,1585.1 L257.4,1583.6 L257.7,1582.1 L257.9,1580.5 L258.2,1579.0 L258.5,1577.5 L258.8,1576.0 L259.1,1574.5 L259.4,1572.9 L259.7,1571.4 L260.0,1569.8 L260.4,1568.2 L260.7,1566.6 L261.0,1565.1 L261.4,1563.5 L261.7,1562.0 L262.1,1560.5 L262.4,1559.0 L262.8,1557.6 L263.1,1556.2 L263.5,1554.9 L263.9,1553.1 L264.4,1551.4 L264.8,1549.8 L265.2,1548.2 L265.6,1546.7 L266.1,1545.2 L266.6,1543.8 L267.0,1542.4 L267.6,1541.0 L268.1,1539.7 L268.8,1538.3 L269.4,1536.9 L270.1,1535.6 L270.8,1534.4 L271.6,1533.2 L272.4,1531.9 L273.2,1530.7 L274.2,1529.4 L275.2,1528.0 L276.0,1526.9 L276.9,1525.8 L277.8,1524.6 L278.8,1523.4 L279.8,1522.2 L280.9,1521.0 L281.9,1519.8 L283.0,1518.6 L284.0,1517.4 L285.0,1516.2 L286.0,1515.1 L286.9,1513.9 L287.9,1512.6 L288.9,1511.3 L289.8,1510.0 L290.8,1508.7 L291.7,1507.4 L292.6,1506.1 L293.5,1504.8 L294.4,1503.5 L295.3,1502.3 L296.2,1501.1 L297.3,1499.7 L298.3,1498.3 L299.3,1497.0 L300.4,1495.7 L301.4,1494.3 L302.5,1493.0 L303.5,1491.8 L304.5,1490.6 L305.6,1489.4 L306.8,1488.1 L308.0,1486.8 L309.3,1485.6 L310.5,1484.4 L311.8,1483.3 L312.9,1482.2 L314.0,1481.1 L315.0,1480.0 L316.0,1478.6 L316.8,1477.3 L317.5,1476.0 L318.2,1474.7 L319.0,1473.4 L320.0,1472.1 L320.9,1471.0 L321.9,1470.0 L323.0,1469.0 L324.1,1468.0 L325.3,1466.9 L326.6,1465.9 L327.9,1464.9 L329.4,1463.9 L330.6,1463.0 L331.9,1462.2 L333.3,1461.3 L334.8,1460.4 L336.2,1459.5 L337.7,1458.6 L339.2,1457.8 L340.7,1457.0 L342.1,1456.3 L343.4,1455.7 L345.0,1455.0 L346.4,1454.4 L347.8,1453.9 L349.1,1453.5 L350.5,1453.0 L351.9,1452.6 L353.4,1452.2 L355.1,1451.7 L356.4,1451.3 L357.8,1450.9 L359.2,1450.4 L360.6,1450.0 L362.1,1449.5 L363.6,1449.1 L365.2,1448.6 L366.7,1448.2 L368.3,1447.8 L369.9,1447.4 L371.5,1447.0 L373.0,1446.7 L374.4,1446.4 L375.9,1446.1 L377.4,1445.9 L378.9,1445.6 L380.4,1445.4 L382.0,1445.1 L383.6,1444.9 L385.2,1444.7 L386.8,1444.4 L388.5,1444.2 L390.2,1444.0 L391.7,1443.8 L393.1,1443.6 L394.7,1443.4 L396.3,1443.2 L397.9,1443.0 L399.5,1442.8 L401.1,1442.6 L402.8,1442.4 L404.4,1442.2 L406.0,1442.0 L407.6,1441.8 L409.2,1441.7 L410.7,1441.5 L412.2,1441.3 L413.6,1441.2 L415.4,1441.0 L417.1,1440.8 L418.9,1440.6 L420.6,1440.4 L422.2,1440.2 L423.9,1440.0 L425.5,1439.9 L427.0,1439.7 L428.4,1439.6 L429.8,1439.4 L431.1,1439.4 L432.4,1439.3 L434.4,1439.2 L436.1,1439.1 L437.5,1439.1 L438.8,1439.1 L440.1,1439.4 L441.7,1439.8 L443.1,1440.2 L444.5,1440.6 L446.0,1441.2 L447.6,1441.8 L449.1,1442.5 L450.6,1443.3 L452.1,1444.2 L453.4,1445.1 L454.6,1446.1 L455.7,1447.2 L456.7,1448.4 L457.8,1449.6 L458.8,1450.9 L459.8,1452.1 L460.8,1453.4 L461.8,1454.6 L462.8,1455.7 L464.0,1456.9 L465.1,1458.1 L466.3,1459.4 L467.5,1460.6 L468.6,1461.7 L469.7,1462.6 L470.8,1463.4 L471.7,1463.9 L473.5,1464.4 L474.9,1463.7 L476.8,1461.5 L477.5,1460.6 L478.2,1459.6 L478.9,1458.4 L479.6,1457.1 L480.4,1455.7 L481.3,1454.2 L482.1,1452.7 L482.9,1451.1 L483.8,1449.6 L484.6,1448.0 L485.4,1446.5 L486.2,1445.1 L487.0,1443.8 L487.7,1442.4 L488.5,1441.0 L489.2,1439.6 L490.0,1438.2 L490.7,1436.8 L491.5,1435.4 L492.3,1434.0 L493.1,1432.7 L493.9,1431.3 L494.7,1430.0 L495.6,1428.7 L496.5,1427.5 L497.4,1426.2 L498.3,1425.0 L499.2,1423.7 L500.2,1422.5 L501.1,1421.3 L502.1,1420.1 L503.1,1419.0 L504.1,1417.8 L505.2,1416.7 L506.2,1415.7 L507.3,1414.7 L508.4,1413.7 L509.6,1412.8 L510.7,1411.9 L511.9,1411.1 L513.1,1410.3 L514.3,1409.6 L515.6,1408.8 L516.9,1408.0 L518.3,1407.2 L519.8,1406.3 L521.3,1405.3 L522.4,1404.6 L523.6,1403.9 L524.8,1403.2 L526.0,1402.5 L527.3,1401.7 L528.6,1400.9 L529.9,1400.1 L531.3,1399.3 L532.6,1398.5 L534.0,1397.7 L535.4,1396.9 L536.8,1396.0 L538.2,1395.1 L539.6,1394.3 L541.0,1393.4 L542.4,1392.5 L543.6,1391.7 L544.7,1390.9 L545.9,1390.1 L547.0,1389.3 L548.2,1388.6 L549.4,1387.7 L550.5,1386.9 L551.7,1386.1 L552.9,1385.3 L554.1,1384.4 L555.3,1383.6 L556.6,1382.7 L557.8,1381.8 L559.1,1380.9 L560.4,1380.0 L561.7,1379.0 L563.0,1378.1 L564.4,1377.1 L565.8,1376.1 L566.9,1375.3 L568.0,1374.5 L569.2,1373.6 L570.3,1372.8 L571.5,1371.9 L572.8,1371.0 L574.0,1370.1 L575.3,1369.2 L576.5,1368.3 L577.8,1367.3 L579.1,1366.4 L580.4,1365.4 L581.7,1364.5 L582.9,1363.5 L584.2,1362.6 L585.5,1361.7 L586.8,1360.7 L588.0,1359.8 L589.3,1358.9 L590.5,1358.0 L591.7,1357.1 L592.9,1356.3 L594.0,1355.4 L595.1,1354.6 L596.2,1353.8 L597.6,1352.8 L599.0,1351.8 L600.4,1350.8 L601.8,1349.9 L603.2,1348.9 L604.5,1348.0 L605.8,1347.0 L607.1,1346.1 L608.4,1345.2 L609.7,1344.3 L610.9,1343.5 L612.1,1342.6 L613.3,1341.8 L614.4,1341.0 L615.5,1340.3 L616.6,1339.5 L617.6,1338.8 L618.7,1338.1 L619.6,1337.5 L621.4,1336.3 L623.1,1335.2 L624.7,1334.1 L626.2,1333.2 L627.5,1332.3 L628.8,1331.6 L629.9,1330.9 L630.9,1330.2 L631.8,1329.7 L632.5,1329.3"/>
<path class="c" d="M41.1,1664.7 L42.0,1665.0 L43.3,1665.4 L44.8,1665.7 L46.5,1666.3 L48.3,1667.0 L50.1,1667.8 L51.9,1668.6 L53.6,1669.3 L55.1,1669.9 L56.7,1670.5 L58.1,1671.0 L59.6,1671.5 L61.0,1672.0 L62.4,1672.5 L63.8,1673.2 L65.3,1674.1 L66.8,1675.0 L68.1,1675.9 L69.5,1676.9 L70.9,1677.8 L72.4,1678.6 L73.8,1679.4 L75.3,1679.9 L76.7,1680.4 L78.2,1681.6 L79.5,1683.0 L80.9,1684.1 L82.3,1684.7 L83.6,1685.3 L84.9,1686.3 L86.1,1687.5 L87.3,1688.6 L88.6,1689.7 L89.9,1690.7 L91.2,1691.7 L92.6,1692.7 L93.8,1693.4 L95.0,1694.1 L96.2,1694.8 L97.5,1695.5 L98.8,1696.3 L100.1,1697.0 L101.4,1697.8 L102.7,1698.7 L104.0,1699.7 L105.3,1700.8 L106.6,1702.2 L107.6,1703.4 L108.7,1704.5 L109.7,1705.5 L110.8,1706.5 L111.8,1707.5 L112.9,1708.7 L113.9,1709.9 L115.0,1711.1 L116.0,1712.4 L117.0,1713.9 L118.0,1715.3 L118.9,1716.8 L119.8,1718.1 L120.7,1719.4 L121.5,1720.7 L122.4,1722.1 L123.2,1723.4 L124.0,1724.7 L124.7,1726.0 L125.4,1727.3 L126.1,1728.7 L126.8,1730.2 L127.5,1731.7 L128.1,1733.2 L128.8,1734.7 L129.4,1736.2 L130.0,1737.6 L130.6,1739.0 L131.3,1740.4 L131.9,1741.8 L132.4,1743.3 L133.0,1744.7 L133.6,1746.2 L134.1,1747.6 L134.6,1749.1 L135.1,1750.6 L135.6,1752.1 L136.1,1753.6 L136.6,1755.0 L137.0,1756.5 L137.5,1758.0 L137.9,1759.5 L138.4,1761.1 L138.7,1762.6 L139.1,1764.2 L139.5,1765.7 L139.8,1767.3 L140.2,1768.8 L140.5,1770.3 L140.9,1771.9 L141.3,1773.4 L141.7,1774.9 L142.1,1776.3 L142.6,1777.8 L143.0,1779.2 L143.4,1780.6 L143.8,1782.0 L144.3,1783.4 L144.7,1784.9 L145.2,1786.3 L145.7,1787.7 L146.1,1789.1 L146.6,1790.5 L147.1,1792.0 L147.6,1793.4 L148.1,1794.9 L148.6,1796.5 L149.1,1798.0 L149.7,1799.6 L150.2,1801.2 L150.8,1802.8 L151.4,1804.4 L151.9,1805.9 L152.5,1807.5 L153.0,1808.9 L153.6,1810.4 L154.1,1811.7 L154.6,1812.8 L155.4,1814.5 L156.1,1816.1 L156.8,1817.6 L157.5,1818.9 L158.2,1820.3 L158.9,1821.5 L159.7,1822.6 L160.5,1823.7 L161.7,1825.2 L163.0,1826.5 L164.3,1827.6 L165.8,1828.5 L167.5,1829.3 L168.9,1829.5 L170.3,1829.3 L171.9,1829.0 L173.6,1828.7 L175.4,1828.4 L177.2,1828.4 L179.2,1828.3 L180.6,1828.1 L182.0,1828.0 L183.5,1827.9 L185.1,1827.8 L186.6,1827.6 L188.3,1827.3 L190.0,1827.1 L191.8,1826.9 L193.6,1827.0 L195.6,1827.2 L196.9,1827.3 L198.4,1827.3 L199.8,1827.4 L201.4,1827.6 L202.9,1827.8 L204.5,1827.6 L206.2,1827.3 L207.8,1827.6 L209.4,1827.9 L211.1,1828.0 L212.7,1827.9 L214.3,1828.2 L215.9,1828.6 L217.5,1828.9 L219.0,1828.9 L220.6,1828.9 L222.2,1829.1 L223.9,1829.2 L225.5,1829.1 L227.2,1828.9 L228.8,1829.0 L230.4,1829.1 L232.0,1829.1 L233.5,1829.0 L234.9,1828.8 L236.3,1828.7 L237.7,1828.6 L238.9,1828.7 L240.0,1828.7 L242.3,1828.4 L244.0,1827.7 L245.5,1827.2 L246.7,1826.8 L248.0,1826.2 L249.4,1825.4 L250.6,1824.6 L251.7,1823.5 L252.9,1822.3 L254.1,1821.1 L255.3,1819.7 L256.4,1818.4 L257.6,1817.0 L258.8,1815.8 L259.9,1814.7 L261.1,1813.5 L262.3,1812.4 L263.5,1811.6 L264.6,1810.8 L265.8,1810.1 L267.0,1809.1 L268.1,1808.0 L269.7,1806.7 L271.2,1806.0 L272.7,1805.4 L274.2,1804.8 L275.8,1804.1 L277.5,1803.5 L278.8,1802.9 L280.3,1802.4 L281.7,1802.0 L283.2,1801.5 L284.7,1800.7 L286.2,1799.7 L287.7,1798.9 L289.2,1798.2 L290.7,1797.5 L292.1,1796.9 L293.6,1796.4 L295.1,1795.6 L296.5,1794.7 L298.0,1794.1 L299.4,1793.9 L300.9,1793.7 L302.4,1793.1 L303.9,1792.5 L305.5,1791.7 L307.0,1790.9 L308.5,1790.2 L310.0,1789.5 L311.4,1788.9 L312.6,1788.6 L314.7,1788.4 L316.5,1788.1 L318.1,1787.8 L320.0,1787.6 L321.3,1787.4 L322.6,1787.0 L324.0,1786.3 L325.5,1785.7 L327.2,1784.7 L329.4,1783.9 L330.6,1783.6 L331.9,1783.4 L333.3,1783.3 L334.7,1783.3 L336.3,1783.2 L337.8,1783.0 L339.5,1782.8 L341.2,1782.5 L342.9,1782.2 L344.6,1781.8 L346.3,1781.4 L348.1,1781.0 L349.5,1780.6 L350.9,1780.3 L352.4,1780.0 L353.8,1779.9 L355.3,1780.2 L356.8,1780.6 L358.3,1780.4 L359.8,1780.2 L361.4,1780.1 L363.0,1779.9 L364.6,1779.8 L366.3,1779.5 L368.0,1779.3 L369.7,1779.1 L371.5,1778.8 L372.9,1778.7 L374.3,1778.5 L375.8,1778.5 L377.2,1778.6 L378.8,1778.9 L380.3,1779.2 L381.9,1779.3 L383.5,1778.6 L385.1,1778.0 L386.7,1778.0 L388.3,1777.9 L389.9,1778.2 L391.5,1778.5 L393.1,1778.5 L394.7,1778.5 L396.2,1778.3 L397.7,1778.1 L399.1,1777.8 L400.6,1777.6 L401.9,1777.3 L403.7,1777.7 L405.4,1778.3 L407.1,1778.1 L408.7,1777.5 L410.3,1777.4 L411.8,1777.8 L413.3,1778.1 L414.8,1778.0 L416.3,1777.9 L417.8,1777.6 L419.3,1777.3 L420.8,1777.3 L422.3,1777.6 L423.8,1777.7 L425.3,1777.3 L426.9,1776.9 L428.6,1777.1 L430.2,1777.2 L431.9,1777.1 L433.6,1776.9 L435.3,1777.2 L436.9,1777.6 L438.6,1777.7 L440.2,1777.6 L441.8,1777.8 L443.3,1778.2 L444.8,1778.5 L446.2,1778.2 L447.5,1778.0 L448.7,1778.0 L450.8,1778.2 L452.5,1778.6 L454.0,1779.1 L455.3,1779.5 L456.6,1779.8 L457.8,1780.0 L459.1,1780.4 L460.5,1780.8 L462.1,1781.2 L463.8,1781.5 L465.5,1781.7 L467.1,1782.3 L468.8,1782.7 L470.5,1782.5 L472.2,1782.1 L473.6,1781.8 L475.0,1781.4 L476.4,1781.1 L477.9,1781.1 L479.3,1781.0 L480.8,1780.4 L482.3,1779.7 L483.9,1779.0 L485.1,1778.5 L486.4,1777.9 L487.7,1776.9 L489.0,1775.8 L490.3,1774.7 L491.7,1774.0 L493.1,1773.3 L494.6,1772.9 L496.2,1772.6 L497.9,1771.9 L499.2,1771.2 L500.7,1770.4 L502.3,1769.7 L503.9,1768.9 L505.6,1768.5 L507.3,1768.1 L509.0,1768.1 L510.7,1768.1 L512.4,1767.3 L514.0,1766.4 L515.4,1765.8 L516.8,1765.3 L518.0,1764.9 L519.0,1764.6 L521.0,1764.6 L523.4,1765.1 L524.4,1765.0 L525.4,1765.0 L526.6,1764.9 L527.9,1764.8 L529.3,1764.6 L530.8,1764.3 L532.3,1763.9 L533.9,1763.0 L535.6,1762.2 L537.2,1762.0 L538.9,1761.7 L540.5,1761.3 L542.2,1760.9 L543.8,1760.3 L545.3,1759.8 L546.8,1759.4 L548.3,1759.1 L549.7,1758.8 L551.2,1758.0 L552.7,1757.2 L554.1,1756.7 L555.6,1756.3 L557.1,1755.8 L558.5,1755.3 L560.0,1754.8 L561.4,1754.1 L562.9,1753.4 L564.4,1752.6 L565.8,1751.7 L567.3,1751.0 L568.8,1750.7 L570.2,1750.4 L571.7,1749.8 L573.2,1749.2 L574.6,1748.7 L576.1,1748.3 L577.5,1747.9 L579.0,1747.4 L580.5,1746.8 L581.9,1746.1 L583.4,1745.2 L584.9,1744.4 L586.3,1743.9 L587.8,1743.5 L589.2,1742.9 L590.7,1742.4 L592.2,1742.0 L593.6,1741.9 L595.1,1741.8 L596.6,1741.2 L598.1,1740.5 L599.7,1740.3 L601.2,1740.1 L602.7,1739.7 L604.3,1738.9 L605.8,1738.3 L607.3,1737.7 L608.8,1737.1 L610.3,1736.9 L611.7,1736.6 L613.1,1736.2 L614.5,1735.7 L615.8,1735.2 L617.0,1735.0 L619.0,1734.9 L621.0,1734.6 L622.9,1734.1 L624.7,1733.4 L626.5,1732.7 L628.1,1732.2 L629.6,1731.6 L630.9,1731.3 L632.0,1731.1 L633.0,1730.9"/>
<path class="c" d="M39.9,1781.7 L40.8,1781.5 L42.0,1781.1 L43.5,1781.5 L45.1,1781.9 L46.9,1782.6 L48.7,1783.5 L50.4,1783.8 L51.9,1784.0 L53.4,1784.1 L54.9,1784.2 L56.6,1784.3 L58.2,1784.4 L59.8,1784.7 L61.4,1785.6 L63.0,1786.5 L64.5,1786.9 L66.0,1787.3 L67.5,1787.5 L68.9,1787.6 L70.3,1787.9 L71.7,1788.8 L73.1,1789.7 L74.6,1790.2 L76.2,1790.6 L77.5,1791.1 L78.9,1791.8 L80.3,1792.7 L81.7,1792.9 L83.2,1793.1 L84.7,1793.5 L86.1,1794.1 L87.5,1794.7 L88.9,1795.7 L90.2,1796.8 L91.8,1797.5 L93.4,1797.9 L95.0,1798.5 L96.5,1799.6 L98.0,1800.8 L99.4,1801.6 L100.7,1802.3 L101.9,1802.7 L104.0,1803.0 L105.7,1803.4 L107.3,1804.2 L109.0,1805.1 L110.4,1805.8 L111.8,1806.6 L113.2,1807.9 L114.6,1809.1 L116.0,1810.2 L117.3,1811.3 L118.7,1812.1 L120.0,1812.5 L121.4,1813.0 L123.0,1814.0 L123.9,1814.8 L125.0,1815.8 L126.0,1816.9 L127.1,1818.3 L128.2,1819.8 L129.3,1821.3 L130.4,1822.7 L131.4,1824.1 L132.4,1825.3 L133.5,1826.6 L134.5,1827.6 L135.5,1828.4 L136.5,1829.3 L137.4,1830.3 L138.4,1831.5 L139.4,1832.9 L140.1,1834.0 L140.8,1835.3 L141.5,1836.7 L142.2,1838.1 L142.9,1839.6 L143.6,1841.2 L144.3,1842.9 L145.0,1844.6 L145.7,1846.3 L146.4,1848.0 L147.1,1849.6 L147.8,1851.0 L148.5,1852.4 L149.2,1853.9 L149.9,1855.3 L150.6,1856.7 L151.3,1858.0 L152.0,1859.3 L152.7,1860.6 L153.4,1861.9 L154.2,1863.2 L154.9,1864.5 L155.7,1865.8 L156.4,1867.1 L157.2,1868.3 L157.9,1869.7 L158.7,1871.3 L159.6,1872.9 L160.5,1874.6 L161.3,1876.0 L162.1,1877.5 L162.9,1878.9 L163.8,1880.4 L164.7,1881.8 L165.6,1882.9 L166.6,1884.0 L167.6,1885.0 L168.7,1886.0 L169.8,1887.1 L170.9,1888.0 L172.1,1889.1 L173.3,1890.5 L174.6,1891.8 L175.9,1892.6 L177.2,1893.3 L178.6,1893.9 L179.9,1894.7 L181.2,1895.4 L182.6,1896.2 L183.9,1896.9 L185.4,1897.7 L187.0,1898.1 L188.6,1898.4 L190.2,1899.3 L191.8,1900.3 L193.4,1900.7 L194.9,1900.7 L196.4,1900.8 L197.9,1901.3 L199.5,1901.8 L201.1,1902.5 L202.6,1903.1 L204.1,1903.7 L205.5,1904.2 L206.9,1904.9 L208.3,1905.8 L209.6,1906.7 L211.3,1907.8 L212.8,1908.8 L214.3,1909.7 L215.8,1910.5 L217.3,1911.1 L219.0,1911.2 L220.5,1911.0 L222.2,1911.3 L224.0,1911.4 L225.7,1911.4 L227.4,1911.3 L229.1,1910.7 L230.7,1910.1 L232.3,1910.4 L233.8,1911.0 L235.2,1911.5 L236.7,1911.9 L238.2,1912.1 L240.0,1912.4 L241.4,1912.3 L242.8,1912.0 L244.3,1911.5 L245.8,1911.0 L247.4,1910.5 L249.1,1910.1 L250.7,1909.9 L252.4,1909.7 L254.1,1909.5 L255.5,1909.3 L256.9,1909.1 L258.3,1908.9 L259.8,1908.8 L261.2,1908.8 L262.7,1908.7 L264.2,1907.9 L265.8,1907.0 L267.3,1907.1 L268.9,1907.4 L270.5,1907.5 L272.0,1907.6 L273.5,1907.5 L275.2,1907.0 L276.8,1906.8 L278.5,1907.1 L280.1,1907.5 L281.8,1907.6 L283.4,1907.8 L285.0,1907.6 L286.5,1907.3 L287.9,1907.4 L289.2,1907.8 L291.2,1907.9 L293.0,1907.4 L294.6,1907.1 L296.1,1907.1 L297.6,1907.2 L299.2,1906.6 L300.9,1906.2 L302.4,1906.2 L304.0,1906.4 L305.7,1906.6 L307.5,1906.9 L309.2,1906.9 L310.9,1907.0 L312.4,1907.2 L313.8,1907.5 L315.0,1907.6 L316.6,1907.9 L317.3,1907.6 L320.0,1907.3 L321.0,1907.0 L322.2,1906.7 L323.5,1907.1 L324.9,1907.6 L326.4,1907.5 L328.0,1907.1 L329.7,1907.0 L331.4,1907.4 L333.2,1907.7 L334.9,1907.5 L336.7,1907.4 L338.4,1907.6 L340.1,1907.9 L341.8,1908.4 L343.4,1908.8 L345.0,1908.7 L346.5,1908.6 L348.1,1908.4 L349.7,1908.3 L351.2,1908.2 L352.8,1908.0 L354.3,1908.1 L355.9,1908.3 L357.5,1908.4 L359.0,1908.6 L360.6,1908.7 L362.1,1909.0 L363.7,1909.3 L365.3,1909.5 L366.8,1909.6 L368.4,1909.8 L369.9,1910.0 L371.5,1910.2 L373.1,1910.7 L374.6,1911.0 L376.2,1910.7 L377.7,1910.3 L379.3,1910.9 L380.9,1911.7 L382.4,1911.8 L384.0,1911.5 L385.5,1911.3 L387.1,1911.4 L388.7,1911.6 L390.2,1912.1 L391.8,1912.5 L393.3,1912.6 L394.9,1912.7 L396.5,1912.7 L398.0,1912.6 L399.6,1912.6 L401.2,1912.8 L402.7,1912.9 L404.3,1912.6 L405.8,1912.2 L407.4,1912.3 L409.0,1912.4 L410.5,1912.4 L412.1,1912.4 L413.6,1912.6 L415.2,1913.2 L416.8,1913.7 L418.3,1913.7 L419.9,1913.7 L421.4,1913.5 L423.0,1913.2 L424.6,1913.2 L426.1,1913.4 L427.7,1913.4 L429.2,1913.4 L430.8,1913.5 L432.4,1914.2 L433.9,1914.9 L435.5,1914.9 L437.0,1914.9 L438.6,1915.0 L440.2,1915.2 L441.8,1915.1 L443.4,1914.8 L445.0,1914.8 L446.6,1915.2 L448.2,1915.5 L449.8,1914.9 L451.4,1914.3 L453.0,1914.3 L454.5,1914.4 L456.1,1914.5 L457.6,1914.7 L459.0,1914.8 L460.5,1914.7 L462.2,1914.6 L463.9,1915.0 L465.5,1915.4 L467.1,1915.5 L468.7,1915.6 L470.3,1915.0 L471.8,1914.3 L473.3,1914.1 L474.8,1914.3 L476.2,1914.5 L477.7,1914.6 L479.2,1914.7 L480.7,1914.2 L482.2,1913.6 L483.6,1913.2 L485.0,1912.9 L486.4,1912.7 L487.8,1913.0 L489.2,1913.3 L490.7,1913.3 L492.2,1912.7 L493.8,1912.2 L495.6,1911.8 L496.9,1911.4 L498.4,1911.3 L500.0,1911.1 L501.6,1910.9 L503.3,1910.7 L505.0,1910.4 L506.7,1910.0 L508.4,1909.5 L510.1,1908.9 L511.8,1908.6 L513.4,1908.8 L514.9,1908.9 L516.4,1908.8 L517.7,1908.7 L519.0,1908.5 L521.1,1908.3 L522.6,1907.8 L523.8,1907.4 L525.0,1907.0 L526.3,1907.2 L528.0,1907.4 L530.4,1906.7 L531.5,1906.2 L532.7,1906.1 L533.9,1906.2 L535.1,1906.2 L536.5,1906.0 L537.8,1905.7 L539.3,1905.3 L540.7,1904.4 L542.2,1903.6 L543.8,1903.3 L545.3,1903.1 L546.9,1902.8 L548.6,1902.5 L550.2,1902.1 L551.9,1901.5 L553.5,1900.9 L555.2,1900.3 L556.9,1899.8 L558.5,1899.7 L559.8,1899.6 L561.2,1899.2 L562.5,1898.7 L563.9,1898.3 L565.3,1897.9 L566.7,1897.4 L568.1,1897.1 L569.6,1896.9 L571.0,1896.8 L572.4,1896.8 L573.9,1896.8 L575.4,1896.6 L576.9,1896.4 L578.4,1896.1 L579.9,1895.8 L581.4,1895.3 L582.9,1894.4 L584.4,1893.4 L585.9,1893.4 L587.5,1893.5 L589.0,1893.3 L590.5,1893.0 L592.1,1892.5 L593.6,1891.9 L595.1,1891.4 L596.6,1891.5 L598.2,1891.6 L599.8,1891.1 L601.5,1890.5 L603.2,1890.0 L605.0,1889.6 L606.7,1889.0 L608.5,1888.4 L610.2,1887.9 L612.0,1887.4 L613.8,1886.9 L615.5,1886.5 L617.2,1886.4 L618.9,1886.4 L620.5,1886.0 L622.1,1885.3 L623.6,1884.8 L625.1,1884.6 L626.5,1884.4 L627.8,1884.6 L629.0,1884.7 L630.2,1884.8 L631.2,1884.2 L632.1,1883.8 L633.0,1883.3"/>
<path class="c" d="M654.5,1751.0 L655.8,1751.4 L657.6,1752.0 L659.6,1751.7 L661.5,1751.6 L662.7,1752.4 L663.8,1753.4 L664.9,1754.4 L666.0,1755.9 L667.2,1757.5 L668.5,1759.2 L669.5,1759.7 L670.5,1760.2 L671.5,1760.8 L672.5,1761.9 L673.6,1763.4 L674.7,1765.0 L675.8,1766.5 L676.9,1767.8 L677.9,1769.0 L679.0,1770.2 L680.0,1771.6 L681.1,1773.0 L682.2,1774.4 L683.3,1775.8 L684.3,1777.2 L685.3,1778.6 L686.3,1779.9 L687.3,1781.3 L688.4,1783.0 L689.5,1784.6 L690.6,1785.5 L691.6,1786.4 L692.6,1787.3 L693.5,1788.5 L694.3,1790.1 L695.5,1792.5 L696.5,1794.7 L697.5,1795.9 L698.5,1796.5 L700.2,1796.6 L701.9,1795.9 L703.7,1794.1 L704.3,1793.2 L704.9,1792.0 L705.4,1790.7 L706.0,1789.2 L706.6,1787.6 L707.2,1785.9 L707.8,1784.3 L708.3,1782.7 L708.8,1781.5 L709.2,1780.2 L709.6,1778.8 L710.0,1777.4 L710.4,1776.0 L710.8,1774.6 L711.2,1773.1 L711.7,1771.6 L712.1,1770.2 L712.6,1768.7 L713.0,1767.3 L713.5,1765.9 L714.0,1764.4 L714.5,1762.7 L715.0,1761.1 L715.5,1759.4 L716.1,1757.8 L716.6,1756.2 L717.2,1754.7 L717.7,1753.2 L718.3,1751.8 L718.9,1750.4 L720.0,1748.3 L721.1,1746.4 L722.2,1745.5 L723.4,1744.9 L724.6,1744.4 L725.9,1743.5 L727.2,1742.9 L728.7,1743.5 L730.1,1745.3 L731.6,1747.1 L732.9,1747.2 L734.1,1747.2 L735.4,1747.7 L736.4,1748.7 L737.4,1749.8 L738.8,1751.4 L739.7,1752.7 L740.8,1754.3 L741.9,1756.0 L743.2,1756.7 L744.4,1757.3 L745.7,1758.0 L746.9,1759.3 L748.1,1760.6 L749.4,1761.7 L750.7,1762.4 L751.9,1763.0 L753.2,1763.8 L754.5,1764.8 L755.9,1765.8 L757.5,1767.5 L758.7,1768.7 L760.1,1769.6 L761.6,1770.1 L763.1,1770.5 L764.6,1770.9 L766.1,1771.4 L767.6,1772.3 L769.0,1773.3 L770.4,1774.3 L771.5,1775.2 L773.2,1776.6 L774.4,1777.1 L775.6,1777.3 L776.7,1777.5 L778.0,1778.2 L779.6,1779.1 L780.9,1779.9 L782.3,1781.3 L783.8,1782.8 L785.4,1782.8 L787.1,1782.5 L788.7,1783.3 L790.4,1784.3 L792.0,1784.6 L793.6,1784.6 L795.0,1784.8 L796.4,1785.2 L797.8,1785.5 L799.3,1786.0 L800.7,1786.4 L802.1,1787.1 L803.5,1788.2 L804.9,1789.2 L806.3,1789.7 L807.7,1790.1 L809.1,1790.7 L810.5,1791.3 L812.0,1791.9 L813.4,1792.5 L814.9,1793.2 L816.3,1794.1 L817.7,1795.4 L819.1,1796.6 L820.4,1797.1 L821.7,1797.6 L823.0,1798.6 L824.2,1800.1 L825.4,1801.6 L826.6,1802.6 L827.7,1803.2 L828.9,1803.7 L830.0,1804.7 L831.1,1806.4 L832.3,1808.0 L833.4,1809.4 L834.4,1810.3 L835.4,1811.2 L836.4,1812.1 L837.4,1813.1 L838.4,1814.2 L839.4,1815.3 L840.4,1816.7 L841.4,1818.4 L842.4,1820.2 L843.3,1822.0 L844.2,1822.8 L845.1,1823.5 L846.1,1824.2 L847.0,1824.9 L847.9,1826.7 L848.7,1828.4 L849.5,1830.1 L850.4,1830.7 L851.2,1832.0 L852.0,1833.3 L852.8,1834.6 L853.7,1835.9 L854.5,1837.4 L855.2,1838.6 L856.0,1839.8 L856.7,1841.0 L857.5,1842.3 L858.2,1843.6 L859.0,1844.9 L859.7,1846.2 L860.4,1847.6 L861.2,1849.0 L861.9,1850.4 L862.6,1851.9 L863.2,1853.4 L863.9,1854.9 L864.4,1856.2 L864.8,1857.5 L865.3,1858.8 L865.7,1860.2 L866.2,1861.6 L866.6,1862.9 L867.0,1864.4 L867.4,1865.8 L867.8,1867.3 L868.2,1868.8 L868.6,1870.3 L869.0,1871.8 L869.5,1873.4 L869.9,1875.0 L870.4,1876.7 L870.9,1878.3 L871.3,1879.6 L871.7,1881.0 L872.1,1882.4 L872.5,1883.8 L872.9,1885.2 L873.3,1886.7 L873.7,1888.2 L874.2,1889.7 L874.6,1891.2 L875.1,1892.8 L875.5,1894.3 L875.9,1895.8 L876.4,1897.4 L876.9,1898.9 L877.3,1900.4 L877.8,1901.8 L878.3,1903.3 L878.8,1904.7 L879.3,1906.1 L879.7,1907.4 L880.2,1908.7 L880.9,1910.3 L881.5,1911.9 L882.1,1913.4 L882.8,1914.8 L883.4,1916.3 L884.1,1917.7 L884.8,1919.1 L885.5,1920.5 L886.2,1921.9 L886.9,1923.2 L887.6,1924.5 L888.3,1925.8 L889.0,1927.1 L889.7,1928.4 L890.5,1929.7 L891.2,1930.9 L892.0,1932.2 L892.8,1933.5 L893.7,1934.9 L894.6,1936.2 L895.5,1937.4 L896.5,1938.7 L897.4,1939.9 L898.4,1941.1 L899.3,1942.3 L900.3,1943.5 L901.2,1944.6 L902.2,1945.8 L903.2,1947.1 L904.1,1948.3 L905.1,1949.6 L906.0,1950.9 L906.9,1952.1 L907.8,1953.4 L908.6,1954.7 L909.5,1956.0 L910.4,1957.4 L911.3,1958.7 L912.1,1960.1 L913.0,1961.4 L913.9,1962.8 L914.8,1964.1 L915.7,1965.5 L916.5,1966.8 L917.4,1968.1 L918.3,1969.4 L919.2,1970.7 L920.0,1972.0 L921.0,1973.3 L921.9,1974.6 L922.9,1975.8 L923.9,1977.1 L924.8,1978.4 L925.8,1979.6 L926.7,1980.8 L927.7,1982.1 L928.6,1983.3 L929.6,1984.5 L930.5,1985.7 L931.4,1987.0 L932.3,1988.2 L933.2,1989.4 L934.1,1990.7 L935.0,1992.0 L935.9,1993.4 L936.8,1994.9 L937.7,1996.3 L938.5,1997.8 L939.4,1999.2 L940.2,2000.6 L941.1,2002.0 L941.9,2003.4 L942.7,2004.7 L943.5,2006.0 L944.3,2007.2 L945.0,2008.4 L945.8,2009.4 L947.1,2011.1 L948.3,2012.7 L949.5,2014.1 L950.6,2015.4 L951.7,2016.5 L952.9,2017.5 L954.0,2018.2 L955.2,2018.8 L956.7,2019.1 L958.3,2019.0 L959.8,2018.6 L961.4,2018.0 L963.0,2017.2 L964.5,2016.4 L965.9,2015.7 L967.3,2014.9 L968.7,2013.9 L970.1,2012.9 L971.4,2011.8 L972.7,2010.6 L973.9,2009.4 L974.9,2008.2 L975.8,2007.0 L976.6,2005.8 L977.4,2004.4 L978.2,2003.0 L979.0,2001.3 L980.0,1999.4 L980.6,1998.2 L981.1,1997.0 L981.7,1995.6 L982.4,1994.1 L983.0,1992.6 L983.6,1991.1 L984.3,1989.5 L984.9,1988.0 L985.6,1986.5 L986.3,1985.0 L986.9,1983.5 L987.6,1982.2 L988.2,1981.0 L989.1,1979.3 L989.9,1977.7 L990.7,1976.1 L991.5,1974.7 L992.3,1973.3 L993.2,1972.0 L994.2,1970.8 L995.2,1969.7 L996.4,1968.7 L997.6,1967.9 L999.0,1967.3 L1000.4,1966.7 L1002.0,1966.3 L1003.6,1965.9 L1005.1,1965.6 L1006.7,1965.2 L1008.2,1964.7 L1009.5,1964.2 L1010.7,1963.6 L1012.1,1962.6 L1013.3,1961.7 L1014.3,1960.6 L1015.3,1959.5 L1016.3,1958.3 L1017.2,1957.1 L1018.0,1955.8 L1018.9,1954.3 L1019.6,1953.2 L1020.3,1952.0 L1021.0,1950.9 L1021.6,1949.7 L1022.2,1948.4 L1022.8,1947.1 L1023.4,1945.6 L1024.0,1943.9 L1024.5,1942.1 L1025.1,1940.0 L1025.3,1938.8 L1025.6,1937.5 L1025.8,1936.1 L1026.1,1934.7 L1026.3,1933.1 L1026.5,1931.6 L1026.7,1929.9 L1026.9,1928.3 L1027.1,1926.6 L1027.3,1924.9 L1027.5,1923.2 L1027.7,1921.5 L1027.9,1919.8 L1028.1,1918.2 L1028.3,1916.5 L1028.5,1915.0 L1028.8,1913.5 L1029.0,1912.0 L1029.2,1910.7 L1029.6,1908.9 L1029.9,1907.3 L1030.3,1905.7 L1030.7,1904.1 L1031.1,1902.6 L1031.5,1901.2 L1031.9,1899.7 L1032.3,1898.3 L1032.7,1896.9 L1033.0,1895.6 L1033.4,1894.2 L1033.8,1892.8 L1034.1,1891.4 L1034.4,1890.0 L1034.7,1888.5 L1035.0,1887.0 L1035.2,1885.5 L1035.5,1884.0 L1035.7,1882.5 L1035.9,1881.0 L1036.1,1879.6 L1036.3,1878.1 L1036.5,1876.6 L1036.7,1875.1 L1036.9,1873.6 L1037.1,1872.0 L1037.3,1870.5 L1037.5,1869.0 L1037.7,1867.4 L1037.9,1865.8 L1038.2,1864.2 L1038.4,1862.6 L1038.6,1860.9 L1038.8,1859.3 L1039.0,1857.6 L1039.2,1856.0 L1039.4,1854.4 L1039.6,1852.9 L1039.8,1851.4 L1040.0,1849.9 L1040.2,1848.5 L1040.5,1846.7 L1040.8,1844.9 L1041.1,1843.2 L1041.4,1841.5 L1041.7,1839.9 L1042.0,1838.4 L1042.3,1836.9 L1042.6,1835.4 L1042.9,1833.9 L1043.2,1832.4 L1043.5,1830.6 L1043.9,1828.9 L1044.2,1827.2 L1044.6,1825.5 L1044.9,1823.9 L1045.3,1822.3 L1045.7,1820.8 L1046.1,1819.3 L1046.6,1817.5 L1047.1,1815.7 L1047.6,1814.0 L1048.1,1812.3 L1048.6,1810.8 L1049.2,1809.4 L1049.8,1808.3 L1051.2,1806.4 L1052.7,1805.4 L1054.1,1805.0 L1056.0,1805.4 L1057.8,1807.6 L1058.3,1808.6 L1058.8,1809.9 L1059.4,1811.4 L1059.9,1813.0 L1060.4,1814.6 L1060.9,1816.2 L1061.5,1817.8 L1062.0,1819.3 L1062.5,1820.9 L1063.0,1822.6 L1063.5,1824.2 L1064.1,1825.8 L1064.6,1827.3 L1065.1,1828.8 L1065.7,1830.4 L1066.3,1831.9 L1066.9,1833.3 L1067.6,1834.7 L1068.2,1836.1 L1068.8,1837.5 L1069.4,1839.0 L1070.0,1840.5 L1070.6,1842.0 L1071.2,1843.5 L1071.8,1844.9 L1072.4,1846.3 L1073.1,1847.7 L1073.8,1849.2 L1074.6,1850.6 L1075.3,1851.9 L1076.1,1853.2 L1076.8,1854.4 L1077.9,1855.9 L1079.0,1857.3 L1080.1,1858.5 L1081.2,1859.5 L1082.7,1860.6 L1084.1,1861.5 L1085.6,1862.1 L1087.8,1862.0 L1090.0,1862.1 L1091.3,1862.8 L1092.5,1863.9 L1093.6,1865.3 L1094.4,1866.4 L1095.1,1867.6 L1095.8,1869.0 L1096.6,1870.4 L1097.3,1871.9 L1097.9,1873.3 L1098.5,1874.7 L1099.1,1876.2 L1099.7,1877.7 L1100.3,1879.2 L1101.0,1880.7 L1101.6,1882.3 L1102.2,1883.9 L1102.9,1885.6 L1103.5,1887.2 L1104.1,1888.7 L1104.6,1890.0 L1105.4,1891.6 L1106.0,1892.7 L1107.2,1894.5 L1107.8,1895.5 L1108.6,1896.5 L1109.4,1897.6 L1110.3,1898.8 L1111.2,1900.1 L1112.2,1901.4 L1113.2,1902.8 L1114.1,1904.3 L1115.0,1905.8 L1115.7,1907.0 L1116.4,1908.3 L1117.1,1909.6 L1117.8,1911.0 L1118.5,1912.4 L1119.2,1913.8 L1119.9,1915.2 L1120.7,1916.8 L1121.4,1918.3 L1122.1,1919.9 L1122.9,1921.5 L1123.5,1922.8 L1124.1,1924.2 L1124.7,1925.6 L1125.3,1927.0 L1125.9,1928.5 L1126.5,1930.0 L1127.2,1931.5 L1127.8,1933.0 L1128.4,1934.5 L1129.1,1936.0 L1129.8,1937.4 L1130.5,1938.9 L1131.2,1940.3 L1131.9,1941.7 L1132.6,1943.1 L1133.4,1944.4 L1134.2,1945.8 L1135.0,1947.1 L1135.8,1948.5 L1136.6,1949.8 L1137.5,1951.1 L1138.3,1952.4 L1139.2,1953.7 L1140.0,1954.9 L1140.8,1956.2 L1141.6,1957.4 L1142.4,1958.5 L1143.1,1959.7 L1144.1,1961.2 L1145.1,1962.7 L1146.0,1964.2 L1147.0,1965.6 L1147.9,1967.0 L1148.8,1968.4 L1149.6,1969.6 L1150.5,1970.9 L1151.3,1972.0 L1152.1,1973.1 L1153.3,1975.0 L1154.4,1976.8 L1155.4,1978.4 L1156.5,1979.8 L1157.6,1980.7 L1158.8,1981.0 L1160.0,1980.8 L1161.2,1980.1 L1162.5,1979.1 L1163.8,1977.9 L1165.2,1976.4 L1166.5,1974.8 L1167.8,1973.1 L1168.5,1972.1 L1169.3,1971.0 L1170.0,1969.8 L1170.7,1968.5 L1171.4,1967.1 L1172.1,1965.8 L1172.9,1964.4 L1173.6,1962.9 L1174.4,1961.5 L1175.2,1960.1 L1176.0,1958.8 L1176.8,1957.4 L1177.7,1956.0 L1178.6,1954.5 L1179.5,1952.9 L1180.5,1951.2 L1181.5,1949.5 L1182.5,1947.9 L1183.5,1946.3 L1184.5,1944.9 L1185.5,1943.7 L1186.4,1942.8 L1187.2,1942.1 L1188.0,1941.7 L1189.1,1941.8 L1190.0,1942.5 L1190.9,1943.7 L1191.7,1945.3 L1192.4,1947.2 L1193.2,1949.2 L1193.9,1951.1 L1194.7,1952.9 L1195.4,1954.4 L1196.0,1956.2 L1196.6,1958.2 L1197.2,1960.2 L1197.8,1961.9 L1198.4,1963.5 L1199.0,1965.0 L1199.6,1966.4 L1200.3,1967.5 L1200.9,1968.4 L1201.5,1968.9 L1202.6,1968.9 L1203.7,1968.0 L1204.9,1966.4 L1206.0,1964.7 L1207.1,1963.0 L1208.2,1962.0 L1209.9,1961.7 L1211.6,1961.6 L1213.3,1960.7 L1215.0,1959.2 L1215.8,1958.2 L1216.7,1957.0 L1217.6,1955.7 L1218.5,1954.4 L1219.3,1953.1 L1220.2,1951.9 L1221.0,1950.6 L1221.7,1949.3 L1222.4,1947.5 L1223.0,1945.8 L1223.5,1944.1 L1224.1,1942.4 L1224.6,1940.7 L1225.1,1939.2 L1225.6,1938.1 L1226.2,1937.0 L1227.0,1935.7 L1227.9,1934.4 L1228.7,1933.0 L1229.5,1931.5 L1230.2,1930.2 L1230.7,1929.2"/>
<path class="c" d="M654.0,1198.3 L655.1,1198.8 L656.6,1200.1 L658.3,1201.4 L660.1,1202.4 L661.9,1203.2 L663.4,1203.8 L664.7,1204.5 L665.8,1205.6 L666.9,1206.8 L668.0,1208.2 L669.2,1209.4 L670.4,1210.6 L671.4,1211.4 L672.4,1212.6 L673.5,1214.3 L674.6,1216.1 L675.7,1217.8 L676.8,1219.1 L677.8,1220.3 L678.8,1221.5 L679.8,1222.9 L680.7,1224.4 L681.5,1225.8 L682.3,1227.3 L683.1,1228.5 L683.8,1229.7 L684.6,1230.9 L685.3,1232.0 L686.1,1233.2 L686.8,1234.9 L687.6,1236.6 L688.4,1238.3 L689.2,1240.1 L690.1,1241.7 L690.9,1243.2 L691.7,1244.7 L692.4,1246.2 L693.2,1247.6 L693.8,1249.0 L694.5,1250.5 L695.2,1252.0 L695.8,1253.5 L696.4,1254.9 L696.9,1256.3 L697.4,1257.6 L698.0,1258.9 L698.5,1260.0 L699.2,1261.6 L699.9,1263.2 L700.6,1265.0 L701.3,1266.5 L702.0,1267.6 L702.7,1268.2 L703.7,1268.2 L704.8,1267.6 L705.8,1266.5 L706.9,1265.1 L707.9,1262.9 L708.4,1261.5 L708.9,1260.1 L709.4,1258.5 L709.9,1256.8 L710.4,1255.1 L710.9,1253.4 L711.5,1251.8 L712.0,1250.0 L712.6,1248.2 L712.9,1247.0 L713.3,1245.7 L713.7,1244.3 L714.1,1242.8 L714.5,1241.1 L714.9,1239.3 L715.3,1237.6 L715.7,1235.8 L716.1,1234.0 L716.5,1232.3 L717.0,1230.5 L717.5,1228.8 L717.9,1227.5 L718.4,1226.3 L719.0,1225.0 L719.6,1223.6 L720.2,1222.2 L720.8,1220.9 L721.5,1219.3 L722.2,1217.8 L722.8,1216.2 L723.5,1214.8 L724.3,1213.5 L725.0,1212.5 L725.8,1211.8 L726.6,1211.2 L728.1,1210.6 L729.7,1208.8 L731.4,1207.4 L733.1,1207.5 L734.9,1207.9 L736.6,1208.4 L738.3,1208.9 L740.0,1208.8 L741.6,1208.7 L743.2,1208.5 L744.8,1208.2 L746.5,1209.0 L748.2,1210.6 L750.0,1211.2 L751.3,1210.9 L752.6,1210.8 L754.0,1211.4 L755.4,1212.0 L756.8,1212.8 L758.2,1213.9 L759.6,1214.9 L761.1,1215.2 L762.6,1215.5 L764.1,1216.1 L765.4,1216.7 L766.7,1217.4 L768.1,1218.8 L769.5,1220.2 L771.0,1221.1 L772.4,1221.9 L773.8,1222.6 L775.3,1222.9 L776.6,1223.3 L778.0,1224.4 L779.2,1225.6 L780.5,1226.9 L782.0,1227.2 L783.4,1227.4 L784.7,1228.1 L786.0,1229.2 L787.2,1230.3 L788.4,1230.9 L789.6,1231.5 L790.9,1232.1 L792.2,1233.6 L793.1,1234.9 L794.1,1236.2 L795.1,1237.4 L796.1,1238.4 L797.0,1239.5 L798.0,1240.6 L799.0,1242.0 L800.0,1243.5 L800.9,1244.2 L801.9,1245.5 L802.9,1246.7 L803.9,1247.9 L804.8,1249.0 L805.8,1250.2 L806.8,1251.3 L807.8,1252.4 L808.7,1253.5 L809.7,1254.6 L810.7,1255.7 L811.7,1256.9 L812.6,1258.1 L813.6,1259.3 L814.6,1260.6 L815.6,1261.9 L816.4,1263.1 L817.2,1264.3 L818.1,1265.6 L818.9,1266.8 L819.7,1268.1 L820.6,1269.4 L821.4,1270.7 L822.3,1272.1 L823.1,1273.4 L823.9,1274.8 L824.8,1276.3 L825.6,1277.7 L826.4,1279.2 L827.3,1280.7 L828.0,1281.9 L828.6,1283.2 L829.3,1284.5 L830.0,1285.8 L830.7,1287.1 L831.4,1288.5 L832.1,1289.8 L832.8,1291.2 L833.5,1292.6 L834.2,1294.0 L834.8,1295.4 L835.5,1296.9 L836.2,1298.3 L836.9,1299.7 L837.6,1301.2 L838.3,1302.6 L839.0,1304.1 L839.6,1305.4 L840.3,1306.8 L841.0,1308.2 L841.6,1309.6 L842.3,1311.1 L843.0,1312.5 L843.6,1313.9 L844.3,1315.4 L845.0,1316.8 L845.6,1318.2 L846.3,1319.7 L847.0,1321.1 L847.6,1322.6 L848.2,1324.0 L848.9,1325.5 L849.5,1326.9 L850.1,1328.4 L850.7,1329.8 L851.3,1331.2 L851.8,1332.7 L852.4,1334.1 L853.0,1335.5 L853.5,1337.0 L854.1,1338.4 L854.6,1339.8 L855.1,1341.3 L855.7,1342.7 L856.2,1344.1 L856.7,1345.6 L857.2,1347.0 L857.7,1348.4 L858.2,1349.8 L858.6,1351.3 L859.1,1352.7 L859.6,1354.1 L860.0,1355.6 L860.5,1357.1 L861.0,1358.6 L861.5,1360.1 L861.9,1361.7 L862.4,1363.2 L862.8,1364.7 L863.2,1366.3 L863.6,1367.8 L864.1,1369.4 L864.5,1370.9 L864.9,1372.4 L865.2,1373.9 L865.6,1375.4 L866.0,1376.9 L866.4,1378.4 L866.7,1379.9 L867.1,1381.3 L867.4,1382.9 L867.8,1384.6 L868.2,1386.1 L868.5,1387.7 L868.8,1389.3 L869.2,1390.8 L869.5,1392.4 L869.8,1393.9 L870.1,1395.5 L870.4,1397.0 L870.6,1398.5 L870.9,1400.1 L871.2,1401.6 L871.5,1403.2 L871.7,1404.7 L872.0,1406.3 L872.3,1407.8 L872.5,1409.4 L872.7,1411.0 L872.9,1412.5 L873.1,1414.1 L873.3,1415.6 L873.5,1417.2 L873.7,1418.8 L874.0,1420.3 L874.2,1421.9 L874.4,1423.5 L874.7,1425.0 L875.0,1426.6 L875.3,1428.1 L875.6,1429.6 L875.9,1431.1 L876.2,1432.6 L876.5,1434.0 L876.9,1435.5 L877.2,1437.0 L877.6,1438.5 L878.0,1440.0 L878.3,1441.5 L878.7,1442.9 L879.1,1444.4 L879.5,1445.9 L879.9,1447.3 L880.3,1448.7 L880.7,1450.1 L881.1,1451.5 L881.6,1453.2 L882.1,1454.8 L882.6,1456.5 L883.2,1458.2 L883.7,1459.9 L884.3,1461.5 L884.8,1463.2 L885.4,1464.8 L885.9,1466.3 L886.4,1467.8 L886.9,1469.1 L887.4,1470.4 L887.8,1471.6 L888.1,1472.6 L888.9,1474.7 L889.3,1475.2 L889.6,1476.0 L890.4,1478.7 L890.7,1479.7 L891.0,1480.7 L891.3,1481.9 L891.6,1483.1 L892.0,1484.4 L892.3,1485.8 L892.7,1487.3 L893.1,1488.8 L893.5,1490.3 L893.9,1491.9 L894.3,1493.5 L894.8,1495.2 L895.2,1496.9 L895.6,1498.5 L896.0,1500.2 L896.4,1501.9 L896.7,1503.6 L897.1,1505.2 L897.5,1506.8 L897.7,1508.2 L898.0,1509.6 L898.3,1511.1 L898.6,1512.5 L898.9,1514.0 L899.2,1515.5 L899.5,1517.0 L899.8,1518.5 L900.0,1520.0 L900.3,1521.5 L900.6,1523.1 L900.9,1524.6 L901.1,1526.1 L901.4,1527.6 L901.7,1529.2 L901.9,1530.7 L902.2,1532.2 L902.4,1533.7 L902.6,1535.2 L902.9,1536.7 L903.1,1538.1 L903.3,1539.6 L903.5,1541.2 L903.8,1542.7 L904.0,1544.3 L904.2,1545.8 L904.3,1547.4 L904.5,1548.9 L904.7,1550.4 L904.9,1551.9 L905.0,1553.4 L905.2,1555.0 L905.4,1556.5 L905.5,1558.0 L905.7,1559.5 L905.8,1561.0 L906.0,1562.5 L906.2,1564.0 L906.3,1565.5 L906.5,1567.0 L906.6,1568.5 L906.8,1570.0 L907.0,1571.5 L907.2,1573.1 L907.3,1574.6 L907.5,1576.1 L907.7,1577.7 L907.9,1579.2 L908.0,1580.8 L908.2,1582.3 L908.4,1583.8 L908.6,1585.4 L908.7,1586.9 L908.9,1588.4 L909.1,1590.0 L909.3,1591.5 L909.5,1593.0 L909.6,1594.5 L909.8,1596.0 L910.0,1597.5 L910.2,1599.0 L910.3,1600.5 L910.5,1602.1 L910.7,1603.6 L910.9,1605.2 L911.1,1606.7 L911.3,1608.2 L911.5,1609.6 L911.6,1611.1 L911.8,1612.6 L912.0,1614.1 L912.2,1615.5 L912.4,1617.0 L912.6,1618.6 L912.8,1620.1 L913.0,1621.7 L913.2,1623.3 L913.4,1625.0 L913.6,1626.8 L913.8,1628.5 L914.0,1629.9 L914.2,1631.2 L914.3,1632.6 L914.5,1634.0 L914.7,1635.5 L914.9,1637.0 L915.1,1638.4 L915.3,1640.0 L915.4,1641.5 L915.6,1643.0 L915.8,1644.6 L916.0,1646.1 L916.2,1647.7 L916.4,1649.2 L916.6,1650.8 L916.8,1652.4 L917.0,1653.9 L917.2,1655.5 L917.4,1657.0 L917.6,1658.6 L917.8,1660.1 L918.0,1661.6 L918.2,1663.1 L918.3,1664.6 L918.5,1666.0 L918.7,1667.6 L918.9,1669.3 L919.1,1670.9 L919.4,1672.6 L919.6,1674.3 L919.8,1676.0 L920.0,1677.6 L920.2,1679.3 L920.4,1681.0 L920.6,1682.6 L920.8,1684.2 L921.0,1685.9 L921.2,1687.4 L921.4,1689.0 L921.6,1690.5 L921.8,1692.0 L922.0,1693.5 L922.2,1694.9 L922.4,1696.2 L922.6,1697.5 L922.8,1698.8 L923.0,1700.0 L923.4,1702.0 L923.7,1703.9 L924.1,1705.5 L924.5,1707.1 L924.8,1708.5 L925.2,1709.8 L925.5,1711.1 L925.9,1712.3 L926.2,1713.6 L926.6,1714.8 L927.0,1716.1 L927.4,1717.6 L927.8,1719.0 L928.2,1720.5 L928.7,1721.9 L929.1,1723.4 L929.5,1724.9 L930.0,1726.3 L930.4,1727.8 L930.9,1729.3 L931.3,1730.7 L931.8,1732.2 L932.2,1733.7 L932.7,1735.1 L933.1,1736.6 L933.5,1738.0 L934.0,1739.5 L934.4,1741.0 L934.9,1742.4 L935.3,1743.9 L935.7,1745.4 L936.2,1746.8 L936.6,1748.3 L937.1,1749.7 L937.5,1751.2 L937.9,1752.7 L938.4,1754.1 L938.8,1755.6 L939.3,1757.1 L939.7,1758.7 L940.2,1760.2 L940.6,1761.7 L941.1,1763.2 L941.5,1764.6 L941.9,1766.1 L942.4,1767.5 L942.8,1768.9 L943.2,1770.2 L943.7,1772.0 L944.3,1773.7 L944.8,1775.3 L945.3,1776.9 L945.8,1778.5 L946.2,1780.0 L946.7,1781.5 L947.1,1782.9 L947.6,1784.3 L948.1,1786.0 L948.6,1787.7 L949.1,1789.4 L949.5,1790.9 L950.0,1792.4 L950.5,1793.7 L951.1,1794.8 L952.3,1796.5 L953.6,1797.9 L955.0,1798.6 L956.4,1798.7 L957.3,1798.1 L958.3,1797.2 L959.2,1795.9 L960.2,1794.4 L961.3,1792.8 L962.5,1791.3 L963.4,1790.3 L964.4,1789.2 L965.4,1788.1 L966.5,1787.0 L967.5,1785.9 L968.6,1784.6 L969.6,1783.4 L970.5,1782.1 L971.3,1780.8 L972.0,1779.4 L972.6,1778.0 L973.1,1776.7 L973.6,1775.2 L974.1,1773.8 L974.5,1772.2 L974.9,1770.5 L975.3,1768.7 L975.7,1766.7 L975.9,1765.5 L976.1,1764.1 L976.3,1762.8 L976.5,1761.4 L976.7,1759.9 L976.9,1758.4 L977.0,1756.9 L977.2,1755.3 L977.3,1753.7 L977.5,1752.1 L977.7,1750.5 L977.8,1748.8 L978.0,1747.2 L978.1,1745.5 L978.3,1743.9 L978.5,1742.4 L978.6,1740.9 L978.8,1739.3 L979.0,1737.8 L979.1,1736.1 L979.3,1734.5 L979.5,1732.9 L979.7,1731.2 L979.8,1729.6 L980.0,1728.0 L980.2,1726.3 L980.3,1724.8 L980.5,1723.2 L980.6,1721.7 L980.7,1720.3 L980.8,1718.9 L981.0,1717.6 L981.1,1715.7 L981.2,1714.1 L981.2,1712.6 L981.2,1711.2 L981.3,1709.9 L981.3,1708.6 L981.3,1707.2 L981.4,1705.7 L981.5,1704.1 L981.6,1702.2 L981.8,1700.0 L982.0,1698.8 L982.1,1697.5 L982.3,1696.0 L982.4,1694.5 L982.6,1693.0 L982.8,1691.4 L983.0,1689.7 L983.2,1688.0 L983.4,1686.3 L983.7,1684.5 L983.9,1682.8 L984.1,1681.0 L984.3,1679.3 L984.6,1677.6 L984.8,1675.9 L985.1,1674.3 L985.3,1672.7 L985.5,1671.2 L985.7,1669.8 L986.0,1668.4 L986.2,1667.1 L986.4,1666.0 L986.9,1663.4 L987.4,1661.0 L988.0,1658.9 L988.5,1657.0 L989.0,1655.3 L989.5,1654.0 L990.0,1653.0 L990.6,1652.3 L991.1,1652.0 L991.7,1652.2 L992.3,1653.2 L992.8,1654.8 L993.4,1656.6 L994.0,1658.7 L994.6,1660.6 L995.2,1662.4 L995.8,1663.7 L996.9,1665.3 L998.1,1666.3 L999.3,1667.2 L1000.5,1668.3 L1001.4,1669.5 L1002.3,1670.7 L1003.3,1672.0 L1004.2,1673.5 L1005.1,1675.4 L1005.7,1676.8 L1006.2,1678.6 L1006.7,1680.8 L1007.3,1683.0 L1007.8,1685.1 L1008.3,1686.8 L1008.9,1688.1 L1009.3,1688.6 L1009.8,1688.2 L1010.0,1687.7 L1010.2,1687.0 L1010.4,1686.2 L1010.6,1685.1 L1010.8,1684.0 L1011.0,1682.7 L1011.2,1681.3 L1011.4,1679.8 L1011.6,1678.2 L1011.7,1676.5 L1011.9,1674.7 L1012.1,1672.9 L1012.3,1671.0 L1012.4,1669.0 L1012.6,1667.0 L1012.8,1665.0 L1013.0,1663.0 L1013.1,1661.0 L1013.3,1659.0 L1013.4,1657.7 L1013.6,1656.4 L1013.7,1655.0 L1013.8,1653.5 L1013.9,1652.0 L1014.0,1650.5 L1014.2,1648.9 L1014.3,1647.3 L1014.4,1645.6 L1014.5,1644.0 L1014.6,1642.3 L1014.8,1640.5 L1014.9,1638.8 L1015.0,1637.1 L1015.1,1635.4 L1015.3,1633.6 L1015.4,1631.9 L1015.5,1630.2 L1015.6,1628.6 L1015.7,1626.9 L1015.8,1625.3 L1016.0,1623.7 L1016.1,1622.2 L1016.2,1620.7 L1016.3,1619.3 L1016.4,1617.9 L1016.5,1616.6 L1016.6,1615.4 L1016.7,1614.2 L1016.8,1613.2 L1016.8,1612.2 L1017.1,1609.2 L1017.3,1607.6 L1017.5,1606.8 L1017.6,1606.3 L1017.8,1605.9 L1017.9,1604.9 L1018.2,1603.1 L1018.5,1600.0 L1018.6,1599.0 L1018.7,1598.0 L1018.8,1596.9 L1018.9,1595.8 L1019.1,1594.6 L1019.2,1593.3 L1019.3,1592.0 L1019.4,1590.6 L1019.5,1589.2 L1019.7,1587.8 L1019.8,1586.3 L1020.0,1584.8 L1020.1,1583.2 L1020.2,1581.6 L1020.4,1580.0 L1020.5,1578.4 L1020.7,1576.8 L1020.8,1575.1 L1021.0,1573.4 L1021.1,1571.8 L1021.3,1570.1 L1021.4,1568.4 L1021.6,1566.7 L1021.7,1565.0 L1021.9,1563.4 L1022.0,1561.7 L1022.2,1560.1 L1022.3,1558.4 L1022.5,1556.8 L1022.6,1555.2 L1022.8,1553.7 L1022.9,1552.1 L1023.1,1550.7 L1023.2,1549.2 L1023.4,1547.6 L1023.5,1546.1 L1023.7,1544.5 L1023.8,1543.0 L1024.0,1541.5 L1024.1,1539.9 L1024.3,1538.4 L1024.4,1536.9 L1024.6,1535.4 L1024.7,1533.9 L1024.9,1532.4 L1025.0,1530.9 L1025.2,1529.4 L1025.3,1527.9 L1025.5,1526.4 L1025.6,1524.9 L1025.8,1523.5 L1025.9,1522.0 L1026.1,1520.5 L1026.2,1519.0 L1026.4,1517.5 L1026.5,1516.0 L1026.7,1514.5 L1026.8,1513.0 L1027.0,1511.5 L1027.1,1510.0 L1027.3,1508.5 L1027.4,1507.0 L1027.6,1505.5 L1027.7,1503.9 L1027.9,1502.4 L1028.0,1500.9 L1028.2,1499.4 L1028.3,1497.8 L1028.5,1496.3 L1028.6,1494.8 L1028.8,1493.2 L1028.9,1491.7 L1029.1,1490.1 L1029.2,1488.5 L1029.3,1487.0 L1029.5,1485.4 L1029.6,1483.8 L1029.8,1482.2 L1029.9,1480.7 L1030.1,1479.1 L1030.2,1477.5 L1030.4,1475.9 L1030.5,1474.4 L1030.7,1472.8 L1030.8,1471.2 L1031.0,1469.7 L1031.1,1468.1 L1031.3,1466.6 L1031.4,1465.1 L1031.5,1463.6 L1031.7,1462.0 L1031.8,1460.5 L1032.0,1459.1 L1032.1,1457.6 L1032.3,1456.1 L1032.4,1454.7 L1032.6,1453.2 L1032.7,1451.6 L1032.9,1450.0 L1033.1,1448.4 L1033.2,1446.8 L1033.4,1445.3 L1033.6,1443.7 L1033.7,1442.2 L1033.9,1440.7 L1034.1,1439.2 L1034.2,1437.7 L1034.4,1436.2 L1034.6,1434.7 L1034.7,1433.2 L1034.9,1431.7 L1035.1,1430.2 L1035.2,1428.8 L1035.4,1427.3 L1035.6,1425.9 L1035.7,1424.4 L1035.9,1422.9 L1036.1,1421.5 L1036.2,1420.0 L1036.4,1418.5 L1036.6,1417.0 L1036.7,1415.6 L1036.9,1414.1 L1037.1,1412.6 L1037.2,1411.1 L1037.4,1409.6 L1037.6,1408.0 L1037.8,1406.5 L1037.9,1404.9 L1038.1,1403.3 L1038.3,1401.6 L1038.4,1400.0 L1038.6,1398.4 L1038.8,1396.7 L1039.0,1395.1 L1039.1,1393.4 L1039.3,1391.8 L1039.5,1390.2 L1039.7,1388.6 L1039.8,1387.0 L1040.0,1385.4 L1040.2,1383.8 L1040.3,1382.3 L1040.5,1380.8 L1040.7,1379.3 L1040.8,1377.8 L1041.0,1376.4 L1041.2,1375.1 L1041.3,1373.7 L1041.5,1372.5 L1041.6,1371.2 L1041.8,1370.1 L1041.9,1369.0 L1042.3,1366.5 L1042.6,1364.3 L1042.9,1362.3 L1043.2,1360.5 L1043.5,1358.8 L1043.8,1357.3 L1044.0,1355.9 L1044.3,1354.6 L1044.6,1353.4 L1044.9,1352.3 L1045.2,1351.2 L1045.4,1350.2 L1046.3,1347.7 L1047.1,1346.0 L1048.0,1345.2 L1049.0,1345.1 L1049.8,1345.5 L1050.7,1346.5 L1051.7,1348.0 L1052.7,1350.0 L1053.6,1352.6 L1054.0,1353.6 L1054.3,1354.8 L1054.6,1356.1 L1055.0,1357.4 L1055.3,1358.8 L1055.6,1360.3 L1056.0,1361.8 L1056.3,1363.4 L1056.6,1365.0 L1057.0,1366.7 L1057.3,1368.4 L1057.6,1370.1 L1058.0,1371.9 L1058.3,1373.6 L1058.6,1375.0 L1058.8,1376.4 L1059.1,1377.9 L1059.3,1379.3 L1059.6,1380.8 L1059.8,1382.3 L1060.0,1383.8 L1060.3,1385.4 L1060.5,1386.9 L1060.8,1388.5 L1061.0,1390.1 L1061.3,1391.8 L1061.5,1393.4 L1061.8,1395.0 L1062.1,1396.7 L1062.4,1398.4 L1062.7,1400.0 L1063.0,1401.7 L1063.3,1403.1 L1063.6,1404.5 L1063.8,1406.0 L1064.1,1407.4 L1064.5,1408.9 L1064.8,1410.3 L1065.1,1411.8 L1065.4,1413.3 L1065.8,1414.8 L1066.1,1416.3 L1066.4,1417.8 L1066.8,1419.3 L1067.1,1420.9 L1067.5,1422.4 L1067.8,1423.9 L1068.1,1425.4 L1068.5,1427.0 L1068.8,1428.5 L1069.1,1430.0 L1069.4,1431.5 L1069.7,1433.0 L1070.0,1434.5 L1070.3,1436.0 L1070.6,1437.5 L1070.9,1439.0 L1071.2,1440.6 L1071.5,1442.1 L1071.7,1443.7 L1072.0,1445.2 L1072.3,1446.8 L1072.6,1448.3 L1072.8,1449.9 L1073.1,1451.4 L1073.4,1452.9 L1073.6,1454.4 L1073.9,1456.0 L1074.1,1457.4 L1074.4,1458.9 L1074.6,1460.4 L1074.9,1461.8 L1075.1,1463.2 L1075.4,1464.6 L1075.6,1466.0 L1075.9,1467.3 L1076.2,1469.1 L1076.5,1471.0 L1076.8,1473.0 L1077.1,1475.0 L1077.4,1477.1 L1077.7,1479.0 L1078.0,1481.0 L1078.3,1482.9 L1078.6,1484.6 L1078.9,1486.3 L1079.1,1487.7 L1079.4,1489.0 L1079.7,1490.1 L1080.0,1491.0 L1080.3,1491.6 L1080.6,1491.9 L1080.9,1491.8 L1081.3,1491.3 L1081.6,1490.5 L1082.0,1489.3 L1082.3,1487.8 L1082.6,1486.1 L1083.0,1484.2 L1083.4,1482.2 L1083.7,1480.1 L1084.1,1478.0 L1084.5,1475.9 L1084.8,1473.9 L1085.2,1472.0 L1085.5,1470.6 L1085.8,1469.1 L1086.1,1467.5 L1086.4,1465.8 L1086.7,1464.0 L1087.0,1462.1 L1087.4,1460.2 L1087.7,1458.3 L1088.0,1456.4 L1088.3,1454.6 L1088.6,1452.8 L1089.0,1451.1 L1089.3,1449.6 L1089.6,1448.1 L1089.9,1446.8 L1090.2,1445.8 L1090.5,1444.9 L1090.8,1444.2 L1091.1,1443.9 L1091.5,1443.8 L1092.0,1444.2 L1092.4,1445.0 L1092.8,1446.3 L1093.2,1447.9 L1093.7,1449.7 L1094.0,1451.8 L1094.4,1453.9 L1094.8,1456.2 L1095.1,1458.4 L1095.5,1460.6 L1095.8,1462.6 L1096.0,1463.9 L1096.1,1465.3 L1096.3,1466.6 L1096.4,1468.1 L1096.6,1469.5 L1096.7,1471.0 L1096.9,1472.5 L1097.0,1474.0 L1097.1,1475.6 L1097.2,1477.2 L1097.3,1478.8 L1097.4,1480.4 L1097.5,1482.1 L1097.6,1483.8 L1097.7,1485.5 L1097.9,1487.2 L1098.0,1488.9 L1098.1,1490.7 L1098.2,1492.1 L1098.3,1493.5 L1098.4,1494.9 L1098.5,1496.4 L1098.6,1497.8 L1098.7,1499.3 L1098.8,1500.8 L1098.9,1502.4 L1099.0,1503.9 L1099.1,1505.5 L1099.2,1507.0 L1099.3,1508.6 L1099.4,1510.2 L1099.5,1511.7 L1099.6,1513.3 L1099.7,1514.9 L1099.8,1516.5 L1099.9,1518.0 L1100.0,1519.6 L1100.1,1521.2 L1100.2,1522.7 L1100.4,1524.3 L1100.5,1525.8 L1100.6,1527.3 L1100.7,1528.9 L1100.8,1530.5 L1100.9,1532.1 L1101.0,1533.8 L1101.1,1535.4 L1101.2,1537.1 L1101.3,1538.7 L1101.4,1540.4 L1101.5,1542.0 L1101.6,1543.7 L1101.8,1545.3 L1101.9,1546.9 L1102.0,1548.5 L1102.1,1550.1 L1102.2,1551.6 L1102.3,1553.1 L1102.4,1554.5 L1102.5,1555.9 L1102.6,1557.2 L1102.6,1558.5 L1102.7,1559.7 L1102.8,1560.9 L1102.9,1563.1 L1103.0,1565.1 L1103.1,1566.9 L1103.2,1568.5 L1103.2,1570.0 L1103.3,1571.4 L1103.4,1572.7 L1103.5,1573.9 L1103.6,1575.1 L1103.7,1576.3 L1103.9,1577.6 L1104.3,1579.5 L1104.7,1581.5 L1105.1,1583.3 L1105.6,1585.0 L1106.2,1586.6 L1106.8,1587.9 L1107.4,1589.0 L1109.1,1590.3 L1111.0,1590.6 L1112.7,1590.7 L1114.4,1590.7 L1116.2,1591.6 L1117.0,1592.5 L1117.8,1593.7 L1118.7,1595.1 L1119.6,1596.6 L1120.6,1598.4 L1121.4,1600.4 L1121.9,1601.5 L1122.4,1602.7 L1122.9,1604.0 L1123.4,1605.3 L1123.8,1606.7 L1124.3,1608.1 L1124.8,1609.6 L1125.3,1611.2 L1125.8,1612.8 L1126.2,1614.5 L1126.7,1616.2 L1127.1,1617.5 L1127.4,1618.9 L1127.8,1620.4 L1128.2,1621.9 L1128.5,1623.4 L1128.9,1625.0 L1129.3,1626.6 L1129.6,1628.2 L1130.0,1629.8 L1130.4,1631.4 L1130.7,1633.0 L1131.0,1634.6 L1131.4,1636.1 L1131.7,1637.6 L1132.0,1639.0 L1132.3,1640.6 L1132.6,1642.2 L1132.9,1643.7 L1133.2,1645.1 L1133.5,1646.6 L1133.7,1648.1 L1134.0,1649.5 L1134.2,1650.9 L1134.5,1652.4 L1134.7,1653.8 L1135.0,1655.3 L1135.2,1656.8 L1135.5,1658.3 L1135.7,1659.8 L1136.0,1661.2 L1136.2,1662.7 L1136.4,1664.1 L1136.7,1665.6 L1136.9,1667.0 L1137.1,1668.5 L1137.4,1670.0 L1137.6,1671.5 L1137.9,1673.1 L1138.1,1674.6 L1138.4,1676.2 L1138.7,1677.8 L1139.0,1679.4 L1139.3,1680.8 L1139.6,1682.3 L1139.9,1683.8 L1140.2,1685.4 L1140.5,1686.9 L1140.8,1688.5 L1141.1,1690.1 L1141.4,1691.7 L1141.8,1693.3 L1142.1,1694.9 L1142.4,1696.4 L1142.8,1698.0 L1143.2,1699.5 L1143.5,1701.0 L1143.9,1702.5 L1144.3,1704.0 L1144.7,1705.6 L1145.2,1707.2 L1145.7,1708.8 L1146.2,1710.4 L1146.7,1712.0 L1147.2,1713.5 L1147.7,1715.0 L1148.2,1716.6 L1148.7,1718.0 L1149.2,1719.5 L1149.8,1720.9 L1150.3,1722.3 L1150.8,1723.7 L1151.3,1725.0 L1151.9,1726.7 L1152.6,1728.3 L1153.2,1729.9 L1153.8,1731.5 L1154.5,1733.0 L1155.1,1734.4 L1155.8,1735.8 L1156.4,1737.2 L1157.0,1738.5 L1157.7,1739.7 L1158.3,1740.8 L1159.4,1742.5 L1160.4,1744.1 L1161.5,1745.5 L1162.6,1746.7 L1163.6,1747.8 L1164.5,1748.8 L1165.3,1749.6 L1167.3,1751.7 L1168.9,1751.4 L1169.4,1750.8 L1170.1,1750.1 L1170.7,1749.3 L1171.4,1748.1 L1172.0,1746.4 L1172.7,1744.0 L1173.2,1740.8 L1173.4,1739.9 L1173.5,1738.8 L1173.7,1737.7 L1173.8,1736.6 L1173.9,1735.4 L1174.1,1734.1 L1174.2,1732.8 L1174.3,1731.4 L1174.4,1730.0 L1174.6,1728.6 L1174.7,1727.1 L1174.8,1725.6 L1174.9,1724.1 L1175.1,1722.5 L1175.2,1720.9 L1175.3,1719.3 L1175.4,1717.6 L1175.5,1715.9 L1175.7,1714.2 L1175.8,1712.5 L1175.9,1710.8 L1176.1,1709.1 L1176.2,1707.4 L1176.3,1705.6 L1176.5,1703.9 L1176.6,1702.2 L1176.8,1700.5 L1176.9,1699.1 L1177.0,1697.7 L1177.1,1696.3 L1177.2,1694.9 L1177.3,1693.4 L1177.5,1691.9 L1177.6,1690.4 L1177.7,1688.8 L1177.8,1687.3 L1177.9,1685.7 L1178.1,1684.1 L1178.2,1682.5 L1178.3,1680.9 L1178.4,1679.3 L1178.6,1677.6 L1178.7,1676.0 L1178.8,1674.4 L1179.0,1672.8 L1179.1,1671.1 L1179.2,1669.5 L1179.3,1667.9 L1179.5,1666.3 L1179.6,1664.8 L1179.7,1663.2 L1179.9,1661.7 L1180.0,1660.1 L1180.1,1658.6 L1180.2,1657.2 L1180.4,1655.7 L1180.5,1654.3 L1180.6,1652.9 L1180.8,1651.6 L1180.9,1650.3 L1181.0,1649.0 L1181.1,1647.8 L1181.4,1645.8 L1181.6,1643.9 L1181.8,1642.0 L1182.0,1640.2 L1182.2,1638.4 L1182.4,1636.7 L1182.7,1635.0 L1182.9,1633.3 L1183.1,1631.8 L1183.3,1630.2 L1183.6,1628.7 L1183.8,1627.3 L1184.0,1625.9 L1184.2,1624.5 L1184.4,1623.2 L1184.6,1621.9 L1184.8,1620.7 L1185.0,1619.5 L1185.2,1618.4 L1185.4,1617.2 L1185.5,1616.2 L1185.9,1613.6 L1186.3,1611.2 L1186.6,1609.1 L1186.9,1607.3 L1187.2,1605.9 L1187.5,1604.8 L1187.8,1604.1 L1188.2,1603.9 L1188.6,1604.1 L1189.0,1604.6 L1189.5,1605.5 L1189.9,1606.7 L1190.4,1608.4 L1190.8,1610.6 L1191.3,1613.1 L1191.7,1616.2 L1191.8,1617.2 L1191.9,1618.4 L1192.0,1619.7 L1192.1,1621.0 L1192.2,1622.4 L1192.3,1623.9 L1192.4,1625.4 L1192.6,1627.0 L1192.7,1628.6 L1192.8,1630.3 L1192.9,1632.0 L1192.9,1633.7 L1193.0,1635.5 L1193.1,1637.3 L1193.2,1639.0 L1193.3,1640.8 L1193.4,1642.5 L1193.5,1644.3 L1193.6,1646.0 L1193.7,1647.6 L1193.8,1649.3 L1193.9,1650.8 L1194.0,1652.4 L1194.1,1653.8 L1194.2,1655.2 L1194.3,1656.6 L1194.5,1658.5 L1194.6,1660.3 L1194.8,1662.0 L1194.9,1663.6 L1195.1,1665.1 L1195.2,1666.6 L1195.3,1668.1 L1195.5,1669.5 L1195.6,1670.9 L1195.8,1672.3 L1195.9,1673.7 L1196.1,1675.1 L1196.3,1676.6 L1196.4,1678.1 L1196.6,1679.6 L1196.8,1681.2 L1196.9,1682.9 L1197.1,1684.4 L1197.2,1685.9 L1197.4,1687.6 L1197.6,1689.3 L1197.7,1691.2 L1197.9,1693.0 L1198.0,1694.9 L1198.2,1696.8 L1198.4,1698.7 L1198.6,1700.6 L1198.7,1702.4 L1198.9,1704.2 L1199.1,1705.9 L1199.3,1707.6 L1199.4,1709.1 L1199.6,1710.5 L1199.8,1711.8 L1199.9,1713.0 L1200.1,1714.0 L1200.3,1714.8 L1200.5,1715.4 L1201.0,1716.2 L1201.5,1715.9 L1202.0,1714.6 L1202.5,1712.6 L1203.0,1710.0 L1203.5,1707.0 L1204.0,1704.0 L1204.1,1702.9 L1204.2,1701.7 L1204.4,1700.4 L1204.5,1699.0 L1204.6,1697.5 L1204.7,1695.9 L1204.8,1694.3 L1205.0,1692.7 L1205.1,1691.0 L1205.2,1689.3 L1205.3,1687.6 L1205.4,1685.9 L1205.5,1684.2 L1205.6,1682.5 L1205.7,1680.8 L1205.9,1679.2 L1206.0,1677.7 L1206.1,1676.2 L1206.3,1674.8 L1206.4,1673.5 L1206.6,1672.4 L1207.0,1670.0 L1207.4,1667.7 L1207.8,1665.5 L1208.3,1663.4 L1208.7,1661.5 L1209.2,1659.8 L1209.7,1658.5 L1210.1,1657.4 L1210.6,1656.8 L1211.0,1656.6 L1211.4,1656.9 L1211.8,1657.7 L1212.1,1659.1 L1212.5,1660.7 L1212.8,1662.7 L1213.2,1664.7 L1213.5,1666.8 L1213.8,1668.9 L1214.2,1670.7 L1214.5,1672.4 L1214.9,1674.1 L1215.2,1676.0 L1215.6,1677.9 L1215.9,1679.8 L1216.2,1681.6 L1216.6,1683.2 L1216.9,1684.4 L1217.3,1685.2 L1217.7,1685.5 L1218.1,1685.3 L1218.5,1684.7 L1218.9,1683.6 L1219.3,1682.3 L1219.7,1680.7 L1220.2,1678.8 L1220.6,1676.8 L1221.1,1674.6 L1221.5,1672.4 L1221.8,1671.2 L1222.0,1669.9 L1222.2,1668.5 L1222.4,1667.1 L1222.7,1665.6 L1222.9,1664.1 L1223.1,1662.5 L1223.4,1660.9 L1223.6,1659.3 L1223.9,1657.6 L1224.1,1655.9 L1224.4,1654.2 L1224.6,1652.5 L1224.9,1650.8 L1225.1,1649.1 L1225.4,1647.5 L1225.6,1645.9 L1225.9,1644.3 L1226.2,1642.8 L1226.5,1641.2 L1226.7,1639.5 L1227.1,1637.9 L1227.4,1636.2 L1227.7,1634.4 L1228.0,1632.7 L1228.3,1631.0 L1228.7,1629.3 L1229.0,1627.6 L1229.3,1626.0 L1229.6,1624.5 L1229.9,1623.0 L1230.1,1621.6 L1230.4,1620.3 L1230.6,1619.0 L1230.8,1618.0 L1231.0,1617.0 L1231.2,1616.2"/>
<path class="c" d="M654.0,1628.1 L655.1,1628.6 L656.6,1629.4 L658.3,1630.2 L660.1,1630.0 L661.9,1630.2 L663.4,1631.5 L664.7,1632.8 L665.9,1634.4 L667.1,1636.0 L668.2,1637.8 L669.3,1639.1 L670.4,1640.2 L671.4,1641.2 L672.4,1642.2 L673.4,1643.3 L674.4,1644.4 L675.4,1645.5 L676.5,1646.2 L677.5,1646.9 L678.5,1647.6 L679.5,1648.8 L680.5,1650.6 L681.5,1652.3 L682.5,1654.1 L683.5,1655.0 L684.5,1655.9 L685.5,1656.7 L686.5,1657.7 L687.5,1658.9 L688.6,1660.1 L689.6,1661.2 L690.6,1662.7 L691.5,1664.2 L692.6,1666.0 L693.6,1667.9 L694.6,1669.8 L695.5,1671.5 L696.5,1673.1 L697.4,1673.9 L699.0,1675.1 L700.4,1675.6 L702.0,1675.1 L702.7,1674.5 L703.4,1673.7 L704.1,1672.4 L704.8,1670.8 L705.6,1669.1 L706.3,1667.1 L707.1,1665.1 L707.9,1663.2 L708.4,1662.0 L708.8,1660.6 L709.3,1659.1 L709.8,1657.6 L710.4,1655.9 L710.9,1654.4 L711.4,1652.9 L711.9,1651.4 L712.4,1650.0 L713.0,1648.5 L713.5,1647.2 L714.0,1645.9 L714.4,1644.6 L714.9,1643.4 L715.7,1641.6 L716.5,1639.9 L717.2,1638.5 L718.0,1637.0 L718.7,1635.7 L719.4,1634.4 L720.1,1633.3 L720.8,1632.2 L722.3,1629.8 L723.7,1628.1 L725.4,1627.8 L726.8,1628.4 L728.4,1629.2 L730.1,1629.9 L731.9,1631.0 L733.6,1632.8 L734.6,1633.9 L735.5,1635.0 L736.5,1636.2 L737.5,1637.4 L738.5,1638.7 L739.5,1639.9 L740.6,1641.0 L741.7,1642.0 L743.0,1643.2 L744.0,1644.0 L745.1,1644.9 L746.2,1645.8 L747.3,1646.7 L748.5,1647.6 L749.7,1648.7 L751.0,1649.8 L752.2,1651.0 L753.4,1651.8 L754.6,1652.5 L755.9,1653.2 L757.0,1654.3 L758.3,1655.5 L759.6,1656.7 L760.9,1657.9 L762.2,1659.0 L763.4,1660.0 L764.7,1660.7 L766.0,1661.3 L767.3,1661.6 L768.5,1661.6 L769.8,1661.6 L771.1,1662.9 L772.4,1664.3 L773.6,1665.7 L774.9,1666.0 L776.2,1666.2 L777.5,1667.0 L778.8,1668.4 L780.0,1669.8 L781.3,1670.9 L782.6,1672.0 L783.9,1673.0 L785.1,1673.2 L786.5,1673.2 L787.9,1673.8 L789.3,1675.4 L790.8,1677.0 L792.2,1677.8 L793.6,1678.5 L795.0,1679.2 L796.4,1679.9 L797.8,1680.8 L799.2,1681.7 L800.5,1682.6 L801.8,1683.4 L803.1,1683.8 L804.4,1684.2 L805.7,1685.3 L807.0,1687.0 L808.3,1688.6 L809.6,1689.7 L810.8,1690.7 L812.0,1691.6 L813.2,1692.5 L814.6,1693.6 L816.0,1694.3 L817.3,1694.7 L818.6,1695.0 L819.9,1696.3 L821.1,1698.1 L822.4,1699.9 L823.6,1700.4 L824.9,1700.8 L825.9,1701.2 L826.9,1702.3 L827.9,1703.6 L828.8,1704.9 L829.8,1706.2 L830.8,1707.4 L831.8,1708.6 L832.7,1709.8 L833.7,1710.8 L834.7,1711.9 L835.7,1712.9 L836.6,1714.1 L837.5,1715.3 L838.4,1716.7 L839.3,1718.0 L840.2,1719.4 L841.1,1721.0 L842.0,1722.6 L842.9,1724.2 L843.8,1725.7 L844.7,1727.1 L845.6,1728.5 L846.5,1730.0 L847.4,1731.1 L848.3,1732.0 L849.2,1732.8 L850.0,1734.1 L850.9,1735.4 L851.8,1736.7 L852.6,1738.0 L853.5,1739.3 L854.3,1740.6 L855.2,1742.0 L856.0,1743.3 L856.9,1744.7 L857.7,1746.1 L858.5,1747.5 L859.3,1748.9 L860.0,1750.3 L860.7,1751.6 L861.4,1752.9 L862.0,1754.2 L862.7,1755.5 L863.3,1756.9 L863.9,1758.2 L864.5,1759.6 L865.1,1760.9 L865.7,1762.3 L866.3,1763.7 L866.9,1765.2 L867.5,1766.7 L868.1,1768.2 L868.8,1769.7 L869.4,1771.3 L869.9,1772.7 L870.5,1774.1 L871.0,1775.5 L871.6,1777.0 L872.2,1778.6 L872.7,1780.2 L873.3,1781.8 L873.9,1783.4 L874.5,1785.1 L875.0,1786.7 L875.6,1788.3 L876.2,1789.8 L876.7,1791.4 L877.3,1792.9 L877.9,1794.3 L878.4,1795.6 L879.0,1796.9 L879.5,1798.1 L880.0,1799.2 L881.1,1801.2 L882.1,1802.8 L883.1,1804.2 L884.0,1805.3 L885.0,1806.4 L885.9,1807.3 L886.9,1808.3 L887.8,1809.4 L888.8,1810.6 L889.7,1811.8 L890.5,1813.0 L891.4,1814.2 L892.3,1815.4 L893.2,1816.6 L894.0,1817.8 L894.9,1819.1 L895.8,1820.3 L896.7,1821.6 L897.6,1822.9 L898.4,1824.1 L899.2,1825.3 L900.0,1826.6 L900.7,1827.9 L901.5,1829.2 L902.3,1830.5 L903.1,1831.8 L903.9,1833.1 L904.7,1834.4 L905.5,1835.7 L906.3,1836.9 L907.1,1838.2 L907.9,1839.5 L908.7,1840.9 L909.5,1842.2 L910.3,1843.5 L911.1,1844.8 L911.9,1846.1 L912.7,1847.4 L913.5,1848.6 L914.3,1849.8 L915.1,1851.0 L916.1,1852.3 L917.1,1853.6 L918.0,1854.9 L919.0,1856.1 L920.0,1857.3 L921.0,1858.4 L921.9,1859.5 L922.9,1860.5 L923.9,1861.5 L925.1,1862.7 L926.4,1863.8 L927.7,1864.9 L928.9,1865.8 L930.2,1866.8 L931.4,1867.7 L932.7,1868.5 L934.1,1869.5 L935.6,1870.4 L937.1,1871.3 L938.5,1872.1 L940.0,1873.0 L941.4,1873.8 L943.0,1874.7 L944.5,1875.6 L946.1,1876.6 L947.6,1877.4 L949.0,1878.2 L950.2,1878.7 L952.0,1879.3 L953.3,1879.3 L955.5,1879.1 L956.7,1879.0 L958.2,1878.8 L959.8,1878.7 L961.5,1878.4 L963.2,1878.2 L964.9,1877.9 L966.4,1877.6 L967.8,1877.3 L969.7,1876.8 L971.3,1876.3 L972.9,1875.7 L974.3,1874.9 L975.7,1873.8 L976.7,1872.8 L977.6,1871.7 L978.5,1870.5 L979.3,1869.2 L980.2,1867.8 L981.0,1866.4 L981.8,1865.0 L982.6,1863.6 L983.4,1862.0 L984.1,1860.4 L984.9,1858.8 L985.6,1857.2 L986.4,1855.8 L987.1,1854.5 L988.1,1852.9 L989.0,1851.4 L990.0,1850.2 L991.1,1849.1 L992.4,1848.4 L993.9,1847.9 L995.6,1847.8 L997.5,1847.9 L999.3,1848.1 L1001.1,1848.4 L1003.0,1848.8 L1004.8,1849.5 L1006.7,1850.1 L1008.4,1850.5 L1009.9,1850.1 L1010.9,1849.4 L1011.7,1848.4 L1012.4,1847.2 L1013.1,1845.7 L1013.8,1844.1 L1014.5,1842.3 L1015.2,1840.5 L1015.6,1839.3 L1016.1,1838.0 L1016.5,1836.7 L1016.9,1835.3 L1017.4,1833.9 L1017.8,1832.4 L1018.3,1830.9 L1018.7,1829.3 L1019.1,1827.7 L1019.6,1826.1 L1020.0,1824.5 L1020.5,1822.9 L1020.8,1821.5 L1021.2,1820.1 L1021.6,1818.7 L1022.0,1817.3 L1022.3,1815.9 L1022.7,1814.5 L1023.1,1813.0 L1023.5,1811.5 L1023.8,1810.0 L1024.2,1808.5 L1024.6,1806.9 L1025.0,1805.2 L1025.3,1803.6 L1025.7,1801.8 L1026.0,1800.5 L1026.3,1799.2 L1026.6,1797.8 L1026.9,1796.3 L1027.2,1794.9 L1027.4,1793.4 L1027.7,1791.9 L1028.0,1790.4 L1028.3,1788.9 L1028.6,1787.3 L1028.9,1785.8 L1029.2,1784.3 L1029.5,1782.7 L1029.7,1781.2 L1030.0,1779.7 L1030.3,1778.1 L1030.5,1776.7 L1030.8,1775.2 L1031.0,1773.7 L1031.2,1772.1 L1031.5,1770.6 L1031.7,1769.0 L1031.9,1767.5 L1032.1,1766.0 L1032.4,1764.5 L1032.6,1762.9 L1032.8,1761.4 L1032.9,1759.9 L1033.1,1758.4 L1033.3,1756.9 L1033.5,1755.4 L1033.7,1753.8 L1033.9,1752.2 L1034.1,1750.7 L1034.3,1749.0 L1034.5,1747.4 L1034.7,1746.0 L1034.9,1744.5 L1035.0,1743.0 L1035.2,1741.5 L1035.4,1739.9 L1035.6,1738.3 L1035.8,1736.7 L1036.0,1735.1 L1036.2,1733.5 L1036.3,1731.9 L1036.5,1730.3 L1036.7,1728.8 L1036.9,1727.2 L1037.1,1725.7 L1037.2,1724.2 L1037.4,1722.8 L1037.6,1721.4 L1037.7,1720.1 L1037.9,1718.8 L1038.0,1717.6 L1038.3,1715.5 L1038.5,1713.7 L1038.7,1712.1 L1038.9,1710.6 L1039.0,1709.1 L1039.2,1707.8 L1039.4,1706.4 L1039.6,1705.0 L1039.7,1703.5 L1039.9,1701.8 L1040.1,1700.0 L1040.3,1698.6 L1040.4,1697.2 L1040.5,1695.8 L1040.6,1694.3 L1040.7,1692.7 L1040.8,1691.1 L1040.9,1689.5 L1041.0,1687.9 L1041.2,1686.3 L1041.3,1684.7 L1041.5,1683.0 L1041.6,1681.4 L1041.8,1679.9 L1042.1,1678.3 L1042.3,1676.8 L1042.6,1675.4 L1043.0,1673.7 L1043.4,1671.9 L1043.8,1670.0 L1044.3,1668.1 L1044.8,1666.2 L1045.3,1664.4 L1045.8,1662.6 L1046.4,1660.8 L1046.9,1659.3 L1047.5,1657.8 L1048.0,1656.6 L1048.6,1655.6 L1049.1,1654.8 L1049.6,1654.3 L1050.4,1654.0 L1051.2,1654.3 L1052.0,1654.9 L1052.7,1656.0 L1053.5,1657.5 L1054.3,1659.2 L1055.1,1661.3 L1055.9,1663.5 L1056.6,1666.0 L1056.9,1667.0 L1057.2,1668.2 L1057.5,1669.5 L1057.8,1670.8 L1058.1,1672.2 L1058.4,1673.7 L1058.8,1675.2 L1059.1,1676.8 L1059.4,1678.5 L1059.7,1680.1 L1060.0,1681.8 L1060.3,1683.5 L1060.6,1685.2 L1060.9,1686.8 L1061.1,1688.5 L1061.4,1690.1 L1061.7,1691.7 L1062.0,1693.3 L1062.3,1694.8 L1062.6,1696.2 L1062.9,1697.6 L1063.2,1698.8 L1063.5,1700.0 L1064.0,1702.0 L1064.5,1703.9 L1065.1,1705.5 L1065.6,1707.1 L1066.1,1708.5 L1066.6,1709.8 L1067.1,1711.1 L1067.7,1712.3 L1068.2,1713.6 L1068.6,1714.8 L1069.1,1716.1 L1069.6,1717.6 L1070.1,1719.0 L1070.5,1720.5 L1071.0,1722.0 L1071.4,1723.5 L1071.8,1725.0 L1072.2,1726.4 L1072.7,1727.9 L1073.1,1729.4 L1073.5,1730.8 L1074.0,1732.3 L1074.4,1733.7 L1074.9,1735.1 L1075.4,1736.7 L1076.0,1738.4 L1076.5,1740.3 L1077.1,1742.1 L1077.7,1743.9 L1078.2,1745.6 L1078.8,1747.2 L1079.4,1748.6 L1079.9,1749.7 L1080.5,1750.5 L1081.0,1750.9 L1081.8,1750.8 L1082.6,1749.7 L1083.4,1748.1 L1084.1,1746.0 L1084.9,1743.9 L1085.6,1741.9 L1086.3,1740.4 L1087.2,1738.5 L1088.2,1736.6 L1089.0,1735.0 L1089.9,1733.8 L1090.7,1733.4 L1091.4,1733.6 L1092.1,1734.5 L1092.8,1735.9 L1093.5,1737.9 L1094.2,1740.4 L1094.4,1741.5 L1094.7,1742.7 L1094.9,1744.0 L1095.2,1745.5 L1095.4,1747.0 L1095.7,1748.6 L1095.9,1750.3 L1096.2,1751.9 L1096.4,1753.6 L1096.7,1755.3 L1097.0,1756.9 L1097.2,1758.5 L1097.5,1760.0 L1097.7,1761.4 L1098.0,1763.2 L1098.3,1764.9 L1098.7,1766.6 L1099.0,1768.2 L1099.3,1769.8 L1099.6,1771.4 L1099.9,1773.0 L1100.2,1774.5 L1100.6,1776.0 L1100.9,1777.5 L1101.2,1779.0 L1101.6,1780.8 L1101.9,1782.5 L1102.2,1784.2 L1102.5,1785.9 L1102.8,1787.5 L1103.2,1789.1 L1103.7,1790.6 L1104.2,1792.1 L1104.9,1793.5 L1105.8,1794.8 L1106.8,1796.0 L1107.9,1797.1 L1109.1,1798.1 L1110.3,1799.2 L1111.6,1800.2 L1112.8,1801.3 L1114.0,1802.4 L1115.0,1803.6 L1116.0,1804.8 L1116.9,1806.1 L1117.8,1807.4 L1118.6,1808.7 L1119.4,1810.1 L1120.3,1811.5 L1121.1,1812.9 L1122.0,1814.4 L1122.9,1815.9 L1123.6,1817.1 L1124.3,1818.4 L1125.0,1819.7 L1125.8,1821.0 L1126.5,1822.3 L1127.3,1823.7 L1128.1,1825.0 L1128.8,1826.4 L1129.6,1827.7 L1130.4,1829.1 L1131.1,1830.4 L1131.9,1831.7 L1132.7,1833.0 L1133.5,1834.4 L1134.3,1835.8 L1135.1,1837.2 L1135.9,1838.6 L1136.8,1840.0 L1137.6,1841.3 L1138.4,1842.6 L1139.2,1843.9 L1140.0,1845.1 L1140.8,1846.3 L1141.8,1847.6 L1142.8,1848.9 L1143.8,1850.1 L1144.7,1851.3 L1145.7,1852.4 L1146.7,1853.4 L1147.7,1854.5 L1148.7,1855.4 L1149.8,1856.4 L1151.1,1857.4 L1152.5,1858.4 L1154.0,1859.3 L1155.4,1860.2 L1156.9,1861.0 L1158.4,1861.7 L1159.7,1862.3 L1161.1,1862.6 L1162.7,1863.0 L1164.3,1863.1 L1165.8,1863.0 L1167.3,1862.6 L1168.7,1862.1 L1170.0,1861.3 L1171.1,1860.4 L1172.2,1859.4 L1173.1,1858.2 L1174.1,1856.8 L1175.0,1855.3 L1175.9,1853.6 L1176.8,1851.9 L1177.3,1850.6 L1177.9,1849.3 L1178.4,1847.8 L1178.9,1846.3 L1179.4,1844.7 L1179.9,1843.1 L1180.4,1841.5 L1180.9,1840.0 L1181.4,1838.6 L1181.9,1837.3 L1182.4,1836.1 L1183.3,1834.2 L1184.3,1832.4 L1185.3,1830.7 L1186.2,1829.4 L1187.1,1828.6 L1188.0,1828.3 L1188.8,1828.6 L1189.6,1829.5 L1190.3,1830.9 L1191.0,1832.5 L1191.8,1834.3 L1192.5,1836.1 L1193.0,1837.4 L1193.5,1838.9 L1194.0,1840.5 L1194.6,1842.1 L1195.1,1843.8 L1195.6,1845.5 L1196.1,1847.0 L1196.5,1848.4 L1197.0,1849.6 L1197.9,1852.0 L1198.6,1853.9 L1199.4,1855.3 L1200.4,1855.9 L1201.3,1855.6 L1202.4,1854.6 L1203.6,1853.3 L1204.8,1851.9 L1206.0,1850.7 L1207.4,1849.4 L1208.8,1847.9 L1210.2,1846.8 L1211.6,1846.3 L1213.0,1846.8 L1214.4,1848.2 L1215.8,1849.5 L1217.2,1850.1 L1218.6,1849.6 L1219.9,1848.7 L1221.3,1847.2 L1222.8,1845.1 L1223.6,1844.1 L1224.4,1842.8 L1225.3,1841.3 L1226.2,1839.7 L1227.1,1838.1 L1228.0,1836.5 L1228.8,1835.0 L1229.6,1833.6 L1230.2,1832.5 L1230.7,1831.7"/>
<text class="s" font-size="24.5" transform="translate(132.5,418.4) rotate(-90)" text-anchor="middle" textLength="49.3" lengthAdjust="spacingAndGlyphs">3692</text>
<text class="s" font-size="24.5" transform="translate(192.1,392.7) rotate(-90)" text-anchor="middle" textLength="49.3" lengthAdjust="spacingAndGlyphs">3647</text>
<text class="s" font-size="24.5" transform="translate(225.1,391.5) rotate(-90)" text-anchor="middle" textLength="49.3" lengthAdjust="spacingAndGlyphs">3622</text>
<text class="s" font-size="24.5" transform="translate(481.1,294.4) rotate(-90)" text-anchor="middle" textLength="49.4" lengthAdjust="spacingAndGlyphs">3435</text>
<text class="s" font-size="24.5" transform="translate(219.0,594.9) rotate(-90)" text-anchor="middle" textLength="49.3" lengthAdjust="spacingAndGlyphs">3628</text>
<text class="s" font-size="24.5" transform="translate(478.1,622.4) rotate(-90)" text-anchor="middle" textLength="50.5" lengthAdjust="spacingAndGlyphs">3435</text>
<text class="s" font-size="24.5" transform="translate(481.1,730.1) rotate(-90)" text-anchor="middle" textLength="50.5" lengthAdjust="spacingAndGlyphs">3446</text>
<text class="s" font-size="24.5" transform="translate(482.3,812.7) rotate(-90)" text-anchor="middle" textLength="49.4" lengthAdjust="spacingAndGlyphs">3435</text>
<text class="r lb" font-size="26" transform="translate(751.9,210.6) rotate(-90)" text-anchor="middle" textLength="47.0" lengthAdjust="spacingAndGlyphs">1635</text>
<text class="r lb" font-size="26" transform="translate(751.9,489.2) rotate(-90)" text-anchor="middle" textLength="47.0" lengthAdjust="spacingAndGlyphs">1635</text>
<text class="r lb" font-size="26" transform="translate(751.6,630.2) rotate(-90)" text-anchor="middle" textLength="45.9" lengthAdjust="spacingAndGlyphs">1635</text>
<text class="r lb" font-size="26" transform="translate(749.5,752.2) rotate(-90)" text-anchor="middle" textLength="45.9" lengthAdjust="spacingAndGlyphs">1635</text>
<text class="r lb" font-size="26" transform="translate(1117.2,303.9) rotate(-90)" text-anchor="middle" textLength="36.4" lengthAdjust="spacingAndGlyphs">752</text>
<text class="r lb" font-size="26" transform="translate(1146.8,365.4) rotate(-90)" text-anchor="middle" textLength="37.6" lengthAdjust="spacingAndGlyphs">689</text>
<text class="r lb" font-size="26" transform="translate(1035.3,449.7) rotate(-90)" text-anchor="middle" textLength="37.7" lengthAdjust="spacingAndGlyphs">935</text>
<text class="r lb" font-size="26" transform="translate(1055.1,449.7) rotate(-90)" text-anchor="middle" textLength="37.7" lengthAdjust="spacingAndGlyphs">916</text>
<text class="r lb" font-size="26" transform="translate(1262.0,443.6) rotate(-90)" text-anchor="middle" textLength="37.7" lengthAdjust="spacingAndGlyphs">430</text>
<text class="r lb" font-size="26" transform="translate(1238.2,490.0) rotate(-90)" text-anchor="middle" textLength="36.7" lengthAdjust="spacingAndGlyphs">470</text>
<text class="r lb" font-size="26" transform="translate(1209.3,521.2) rotate(-90)" text-anchor="middle" textLength="38.6" lengthAdjust="spacingAndGlyphs">544</text>
<text class="r lb" font-size="26" transform="translate(1000.6,587.0) rotate(-90)" text-anchor="middle" textLength="43.8" lengthAdjust="spacingAndGlyphs">1037</text>
<text class="r lb" font-size="26" transform="translate(1028.6,569.5) rotate(-90)" text-anchor="middle" textLength="45.5" lengthAdjust="spacingAndGlyphs">1010</text>
<text class="r lb" font-size="26" transform="translate(1052.3,622.0) rotate(-90)" text-anchor="middle" textLength="34.9" lengthAdjust="spacingAndGlyphs">918</text>
<text class="r lb" font-size="26" transform="translate(1122.0,522.1) rotate(-90)" text-anchor="middle" textLength="36.7" lengthAdjust="spacingAndGlyphs">746</text>
<text class="r lb" font-size="26" transform="translate(1202.3,648.0) rotate(-90)" text-anchor="middle" textLength="36.6" lengthAdjust="spacingAndGlyphs">565</text>
<text class="r lb" font-size="26" transform="translate(1234.1,625.5) rotate(-90)" text-anchor="middle" textLength="36.6" lengthAdjust="spacingAndGlyphs">466</text>
<text class="r lb" font-size="26" transform="translate(1261.4,627.5) rotate(-90)" text-anchor="middle" textLength="38.6" lengthAdjust="spacingAndGlyphs">436</text>
<text class="r lb" font-size="26" transform="translate(999.6,687.4) rotate(-90)" text-anchor="middle" textLength="48.2" lengthAdjust="spacingAndGlyphs">1045</text>
<text class="r lb" font-size="26" transform="translate(1060.5,742.2) rotate(-90)" text-anchor="middle" textLength="36.8" lengthAdjust="spacingAndGlyphs">914</text>
<text class="r lb" font-size="26" transform="translate(1199.5,760.2) rotate(-90)" text-anchor="middle" textLength="36.6" lengthAdjust="spacingAndGlyphs">567</text>
<text class="r lb" font-size="26" transform="translate(1234.1,760.8) rotate(-90)" text-anchor="middle" textLength="37.6" lengthAdjust="spacingAndGlyphs">460</text>
<text class="r lb" font-size="26" transform="translate(1257.9,762.7) rotate(-90)" text-anchor="middle" textLength="37.7" lengthAdjust="spacingAndGlyphs">439</text>
<text class="r lb" font-size="26" transform="translate(996.1,811.4) rotate(-90)" text-anchor="middle" textLength="47.2" lengthAdjust="spacingAndGlyphs">1047</text>
<text class="r lb" font-size="26" transform="translate(1060.3,820.5) rotate(-90)" text-anchor="middle" textLength="37.6" lengthAdjust="spacingAndGlyphs">898</text>
<text class="r lb" font-size="26" transform="translate(1103.3,818.2) rotate(-90)" text-anchor="middle" textLength="37.6" lengthAdjust="spacingAndGlyphs">792</text>
<text class="r lb" font-size="26" transform="translate(987.3,920.4) rotate(-90)" text-anchor="middle" textLength="47.2" lengthAdjust="spacingAndGlyphs">1074</text>
<text class="r lb" font-size="26" transform="translate(1248.1,857.6) rotate(-90)" text-anchor="middle" textLength="38.7" lengthAdjust="spacingAndGlyphs">445</text>
<text class="r lb" font-size="26" transform="translate(177.2,1694.7) rotate(-90)" text-anchor="middle" textLength="46.9" lengthAdjust="spacingAndGlyphs">3691</text>
<text class="r lb" font-size="26" transform="translate(226.1,1668.9) rotate(-90)" text-anchor="middle" textLength="49.3" lengthAdjust="spacingAndGlyphs">3649</text>
<text class="r lb" font-size="26" transform="translate(261.2,1671.3) rotate(-90)" text-anchor="middle" textLength="49.3" lengthAdjust="spacingAndGlyphs">3626</text>
<text class="s" font-size="24.5" transform="translate(487.9,1509.5) rotate(-90)" text-anchor="middle" textLength="50.4" lengthAdjust="spacingAndGlyphs">3435</text>
<text class="r lb" font-size="26" transform="translate(190.3,1794.9) rotate(-90)" text-anchor="middle" textLength="45.8" lengthAdjust="spacingAndGlyphs">3691</text>
<text class="r lb" font-size="26" transform="translate(214.9,1868.7) rotate(-90)" text-anchor="middle" textLength="48.2" lengthAdjust="spacingAndGlyphs">3668</text>
<text class="r lb" font-size="26" transform="translate(260.0,1868.7) rotate(-90)" text-anchor="middle" textLength="48.2" lengthAdjust="spacingAndGlyphs">3628</text>
<text class="s" font-size="24.5" transform="translate(485.6,1828.3) rotate(-90)" text-anchor="middle" textLength="49.3" lengthAdjust="spacingAndGlyphs">3437</text>
<text class="r lb" font-size="26" transform="translate(250.0,1950.0) rotate(-90)" text-anchor="middle" textLength="49.3" lengthAdjust="spacingAndGlyphs">3633</text>
<text class="s" font-size="24.5" transform="translate(485.6,1960.5) rotate(-90)" text-anchor="middle" textLength="49.3" lengthAdjust="spacingAndGlyphs">3437</text>
<text class="r lb" font-size="26" transform="translate(716.4,1305.8) rotate(-90)" text-anchor="middle" textLength="47.0" lengthAdjust="spacingAndGlyphs">1635</text>
<text class="r lb" font-size="26" transform="translate(716.4,1708.7) rotate(-90)" text-anchor="middle" textLength="47.0" lengthAdjust="spacingAndGlyphs">1635</text>
<text class="r lb" font-size="26" transform="translate(715.2,1833.2) rotate(-90)" text-anchor="middle" textLength="45.9" lengthAdjust="spacingAndGlyphs">1637</text>
<text class="r lb" font-size="26" transform="translate(1087.6,1519.6) rotate(-90)" text-anchor="middle" textLength="36.5" lengthAdjust="spacingAndGlyphs">750</text>
<text class="r lb" font-size="26" transform="translate(1112.2,1618.5) rotate(-90)" text-anchor="middle" textLength="37.6" lengthAdjust="spacingAndGlyphs">680</text>
<text class="r lb" font-size="26" transform="translate(1005.0,1720.3) rotate(-90)" text-anchor="middle" textLength="37.6" lengthAdjust="spacingAndGlyphs">936</text>
<text class="r lb" font-size="26" transform="translate(1025.1,1720.9) rotate(-90)" text-anchor="middle" textLength="36.5" lengthAdjust="spacingAndGlyphs">916</text>
<text class="r lb" font-size="26" transform="translate(1179.8,1787.0) rotate(-90)" text-anchor="middle" textLength="37.5" lengthAdjust="spacingAndGlyphs">545</text>
<text class="r lb" font-size="26" transform="translate(1214.0,1746.5) rotate(-90)" text-anchor="middle" textLength="37.6" lengthAdjust="spacingAndGlyphs">468</text>
<text class="r lb" font-size="26" transform="translate(1237.2,1720.2) rotate(-90)" text-anchor="middle" textLength="37.6" lengthAdjust="spacingAndGlyphs">430</text>
<text class="r lb" font-size="26" transform="translate(967.3,1827.3) rotate(-90)" text-anchor="middle" textLength="45.5" lengthAdjust="spacingAndGlyphs">1041</text>
<text class="r lb" font-size="26" transform="translate(1094.1,1781.7) rotate(-90)" text-anchor="middle" textLength="34.9" lengthAdjust="spacingAndGlyphs">748</text>
<text class="r lb" font-size="26" transform="translate(968.2,1913.0) rotate(-90)" text-anchor="middle" textLength="46.4" lengthAdjust="spacingAndGlyphs">1047</text>
<text class="r lb" font-size="26" transform="translate(1024.3,1881.8) rotate(-90)" text-anchor="middle" textLength="35.0" lengthAdjust="spacingAndGlyphs">916</text>
<text class="r lb" font-size="26" transform="translate(1088.8,1889.7) rotate(-90)" text-anchor="middle" textLength="34.9" lengthAdjust="spacingAndGlyphs">740</text>
<text class="r lb" font-size="26" transform="translate(1177.7,1891.7) rotate(-90)" text-anchor="middle" textLength="36.2" lengthAdjust="spacingAndGlyphs">567</text>
<text class="r lb" font-size="26" transform="translate(1214.0,1888.9) rotate(-90)" text-anchor="middle" textLength="37.3" lengthAdjust="spacingAndGlyphs">468</text>
<text class="r lb" font-size="26" transform="translate(1237.8,1882.0) rotate(-90)" text-anchor="middle" textLength="39.6" lengthAdjust="spacingAndGlyphs">432</text>
<text class="r lb" font-size="26" transform="translate(966.3,2052.1) rotate(-90)" text-anchor="middle" textLength="47.0" lengthAdjust="spacingAndGlyphs">1043</text>
<text class="r lb" font-size="26" transform="translate(1031.5,1996.3) rotate(-90)" text-anchor="middle" textLength="36.3" lengthAdjust="spacingAndGlyphs">916</text>
<text class="r lb" font-size="26" transform="translate(1173.1,2013.8) rotate(-90)" text-anchor="middle" textLength="38.4" lengthAdjust="spacingAndGlyphs">567</text>
<text class="r lb" font-size="26" transform="translate(1214.7,1994.9) rotate(-90)" text-anchor="middle" textLength="38.3" lengthAdjust="spacingAndGlyphs">462</text>
<text class="r lb" font-size="26" transform="translate(1239.4,1987.1) rotate(-90)" text-anchor="middle" textLength="38.5" lengthAdjust="spacingAndGlyphs">434</text>
<text class="r" font-size="40" x="247.2" y="1015.2" text-anchor="middle">3600</text>
<text class="r" font-size="40" x="514.9" y="1015.2" text-anchor="middle">3400</text>
<text class="r" font-size="40" x="799" y="1015.2" text-anchor="middle">1500</text>
<text class="r" font-size="40" x="1008.5" y="1015.2" text-anchor="middle">1000</text>
<text class="r" font-size="40" x="1218" y="1015.2" text-anchor="middle">500</text>
<text class="r" font-size="40" x="41" y="2137.4" text-anchor="middle">3800</text>
<text class="r" font-size="40" x="280.6" y="2137.4" text-anchor="middle">3600</text>
<text class="r" font-size="40" x="517" y="2137.4" text-anchor="middle">3400</text>
<text class="r" font-size="40" x="766" y="2137.4" text-anchor="middle">1500</text>
<text class="r" font-size="40" x="979.5" y="2137.4" text-anchor="middle">1000</text>
<text class="r" font-size="40" x="1191.7" y="2137.4" text-anchor="middle">500</text>
<text class="r" font-size="43" font-style="italic" x="15" y="34.5" letter-spacing="0.5">T, %</text>
<text class="r" font-size="43" font-style="italic" x="8" y="1156.2" letter-spacing="0.5">T, %</text>
<text class="r" font-size="43" font-style="italic" x="651" y="45.3">а</text>
<text class="r" font-size="41" font-style="italic" x="650" y="1163">б</text>
<text class="r" font-size="40" x="1276.5" y="356.2">7 сут</text>
<text class="r" font-size="40" x="1282" y="568.8">3 сут</text>
<text class="r" font-size="40" x="1282" y="731">1 сут</text>
<text class="r" font-size="40" x="1280" y="820.5">гель</text>
<text class="r" font-size="40" x="1257" y="1632.9">7 сут</text>
<text class="r" font-size="40" x="1257" y="1840.6">3 сут</text>
<text class="r" font-size="40" x="1259" y="1945">1 сут</text>
<text class="r" font-size="42" x="466.5" y="1083.1" letter-spacing="0.45">Волновое число, см<tspan font-size="30" dx="2" dy="-21">−1</tspan></text>
<text class="r" font-size="42" x="460" y="2203.5" letter-spacing="0.45">Волновое число, см<tspan font-size="30" dx="2" dy="-21">−1</tspan></text>
</svg></body></html>
